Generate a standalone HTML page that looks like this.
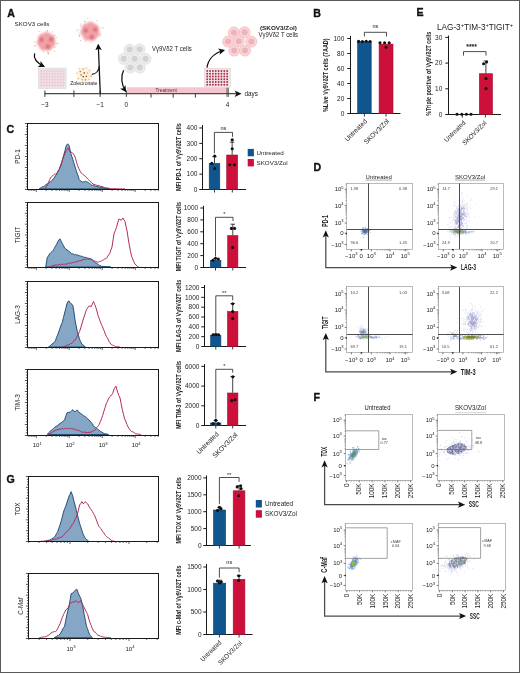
<!DOCTYPE html>
<html><head><meta charset="utf-8"><style>
html,body{margin:0;padding:0;background:#fff;}
svg{display:block;filter:blur(0.3px);}
text{font-family:"Liberation Sans",sans-serif;}
</style></head><body>
<svg width="520" height="673" viewBox="0 0 520 673">
<rect x="0" y="0" width="520" height="673" fill="#fff"/>
<text x="7.20" y="16.80" font-size="10.6" text-anchor="start" fill="#111" font-weight="bold" stroke="#111" stroke-width="0.35">A</text>
<text x="313.30" y="16.70" font-size="10.6" text-anchor="start" fill="#111" font-weight="bold" stroke="#111" stroke-width="0.35">B</text>
<text x="416.40" y="16.20" font-size="10.6" text-anchor="start" fill="#111" font-weight="bold" stroke="#111" stroke-width="0.35">E</text>
<text x="6.60" y="132.70" font-size="10.6" text-anchor="start" fill="#111" font-weight="bold" stroke="#111" stroke-width="0.35">C</text>
<text x="313.60" y="171.10" font-size="10.6" text-anchor="start" fill="#111" font-weight="bold" stroke="#111" stroke-width="0.35">D</text>
<text x="313.60" y="401.30" font-size="10.6" text-anchor="start" fill="#111" font-weight="bold" stroke="#111" stroke-width="0.35">F</text>
<text x="6.40" y="482.70" font-size="10.6" text-anchor="start" fill="#111" font-weight="bold" stroke="#111" stroke-width="0.35">G</text>
<defs>
<filter id="blur1" x="-50%" y="-50%" width="200%" height="200%"><feGaussianBlur stdDeviation="0.9"/></filter>
<filter id="blur2" x="-50%" y="-50%" width="200%" height="200%"><feGaussianBlur stdDeviation="0.45"/></filter>
<marker id="ah" viewBox="0 0 10 10" refX="8" refY="5" markerWidth="6.6" markerHeight="6.6" orient="auto-start-reverse" markerUnits="userSpaceOnUse"><path d="M0,0 L10,5 L0,10 L2.5,5 Z" fill="#111"/></marker>
</defs>
<text x="14.60" y="26.30" font-size="6.2" text-anchor="start" fill="#222">SKOV3 cells</text>
<text x="152.00" y="50.90" font-size="6.5" text-anchor="start" fill="#222" textLength="39.70" lengthAdjust="spacingAndGlyphs">Vγ9Vδ2 T cells</text>
<text x="260.00" y="29.80" font-size="6.2" text-anchor="start" fill="#222" font-weight="bold" textLength="37.00" lengthAdjust="spacingAndGlyphs">(SKOV3/Zol)</text>
<text x="258.60" y="37.40" font-size="6.3" text-anchor="start" fill="#222" textLength="39.40" lengthAdjust="spacingAndGlyphs">Vγ9Vδ2 T cells</text>
<text x="83.80" y="85.40" font-size="5.1" text-anchor="middle" fill="#222">Zoledronate</text>
<g filter="url(#blur1)"><circle cx="46.3" cy="41.6" r="6.08" fill="#f3a2a6"/>
<circle cx="50.98" cy="43.05" r="4.70" fill="#f3a2a6"/>
<circle cx="48.09" cy="46.16" r="4.70" fill="#f3a2a6"/>
<circle cx="43.85" cy="45.84" r="4.70" fill="#f3a2a6"/>
<circle cx="41.45" cy="42.33" r="4.70" fill="#f3a2a6"/>
<circle cx="42.71" cy="38.26" r="4.70" fill="#f3a2a6"/>
<circle cx="46.67" cy="36.71" r="4.70" fill="#f3a2a6"/>
<circle cx="50.35" cy="38.84" r="4.70" fill="#f3a2a6"/>
<circle cx="41.4" cy="39.8" r="2.2" fill="#d06a74"/>
<circle cx="51.2" cy="39.5" r="2.2" fill="#d06a74"/>
<circle cx="47.8" cy="46.5" r="2.2" fill="#d06a74"/>
</g>
<circle cx="54.79" cy="51.15" r="0.5" fill="#b08888" opacity="0.7"/>
<circle cx="47.25" cy="30.60" r="0.5" fill="#b08888" opacity="0.7"/>
<circle cx="34.69" cy="41.93" r="0.5" fill="#b08888" opacity="0.7"/>
<circle cx="38.99" cy="31.33" r="0.5" fill="#b08888" opacity="0.7"/>
<circle cx="54.92" cy="47.37" r="0.5" fill="#b08888" opacity="0.7"/>
<circle cx="52.23" cy="31.68" r="0.5" fill="#b08888" opacity="0.7"/>
<circle cx="47.09" cy="31.33" r="0.5" fill="#b08888" opacity="0.7"/>
<circle cx="34.61" cy="45.78" r="0.5" fill="#b08888" opacity="0.7"/>
<circle cx="48.04" cy="54.55" r="0.5" fill="#b08888" opacity="0.7"/>
<circle cx="54.75" cy="35.57" r="0.5" fill="#b08888" opacity="0.7"/>
<circle cx="58.03" cy="43.49" r="0.5" fill="#b08888" opacity="0.7"/>
<circle cx="56.89" cy="37.34" r="0.5" fill="#b08888" opacity="0.7"/>
<circle cx="48.70" cy="52.88" r="0.5" fill="#b08888" opacity="0.7"/>
<circle cx="57.06" cy="43.59" r="0.5" fill="#b08888" opacity="0.7"/>
<circle cx="35.44" cy="46.07" r="0.5" fill="#b08888" opacity="0.7"/>
<circle cx="47.46" cy="52.51" r="0.5" fill="#b08888" opacity="0.7"/>
<circle cx="48.57" cy="53.02" r="0.5" fill="#b08888" opacity="0.7"/>
<circle cx="43.74" cy="51.63" r="0.5" fill="#b08888" opacity="0.7"/>
<g filter="url(#blur1)"><circle cx="90.2" cy="31.6" r="6.20" fill="#f3a2a6"/>
<circle cx="94.98" cy="33.08" r="4.80" fill="#f3a2a6"/>
<circle cx="92.02" cy="36.26" r="4.80" fill="#f3a2a6"/>
<circle cx="87.70" cy="35.93" r="4.80" fill="#f3a2a6"/>
<circle cx="85.26" cy="32.34" r="4.80" fill="#f3a2a6"/>
<circle cx="86.54" cy="28.20" r="4.80" fill="#f3a2a6"/>
<circle cx="90.58" cy="26.61" r="4.80" fill="#f3a2a6"/>
<circle cx="94.33" cy="28.79" r="4.80" fill="#f3a2a6"/>
<circle cx="85.8" cy="30.5" r="2.2" fill="#d06a74"/>
<circle cx="95.3" cy="29.6" r="2.2" fill="#d06a74"/>
<circle cx="91.8" cy="36.9" r="2.2" fill="#d06a74"/>
</g>
<circle cx="103.04" cy="27.96" r="0.5" fill="#b08888" opacity="0.7"/>
<circle cx="100.28" cy="35.34" r="0.5" fill="#b08888" opacity="0.7"/>
<circle cx="96.70" cy="20.68" r="0.5" fill="#b08888" opacity="0.7"/>
<circle cx="84.68" cy="21.60" r="0.5" fill="#b08888" opacity="0.7"/>
<circle cx="80.51" cy="23.99" r="0.5" fill="#b08888" opacity="0.7"/>
<circle cx="80.62" cy="26.24" r="0.5" fill="#b08888" opacity="0.7"/>
<circle cx="79.61" cy="36.53" r="0.5" fill="#b08888" opacity="0.7"/>
<circle cx="87.92" cy="18.31" r="0.5" fill="#b08888" opacity="0.7"/>
<circle cx="101.72" cy="27.81" r="0.5" fill="#b08888" opacity="0.7"/>
<circle cx="79.57" cy="35.44" r="0.5" fill="#b08888" opacity="0.7"/>
<circle cx="100.51" cy="33.97" r="0.5" fill="#b08888" opacity="0.7"/>
<circle cx="79.02" cy="34.11" r="0.5" fill="#b08888" opacity="0.7"/>
<circle cx="80.60" cy="40.62" r="0.5" fill="#b08888" opacity="0.7"/>
<circle cx="78.18" cy="29.64" r="0.5" fill="#b08888" opacity="0.7"/>
<circle cx="91.12" cy="42.13" r="0.5" fill="#b08888" opacity="0.7"/>
<circle cx="85.24" cy="41.32" r="0.5" fill="#b08888" opacity="0.7"/>
<circle cx="76.73" cy="30.73" r="0.5" fill="#b08888" opacity="0.7"/>
<circle cx="85.15" cy="21.78" r="0.5" fill="#b08888" opacity="0.7"/>
<circle cx="129.60" cy="49.60" r="5.50" fill="#ececec" stroke="#dadada" stroke-width="0.6"/>
<circle cx="139.60" cy="49.20" r="5.50" fill="#ececec" stroke="#dadada" stroke-width="0.6"/>
<circle cx="123.80" cy="58.80" r="5.50" fill="#ececec" stroke="#dadada" stroke-width="0.6"/>
<circle cx="134.60" cy="58.80" r="5.50" fill="#ececec" stroke="#dadada" stroke-width="0.6"/>
<circle cx="145.60" cy="58.80" r="5.50" fill="#ececec" stroke="#dadada" stroke-width="0.6"/>
<circle cx="130.40" cy="67.60" r="5.50" fill="#ececec" stroke="#dadada" stroke-width="0.6"/>
<circle cx="139.80" cy="67.60" r="5.50" fill="#ececec" stroke="#dadada" stroke-width="0.6"/>
<circle cx="129.60" cy="49.60" r="3.00" fill="#d2d2d2" filter="url(#blur2)"/>
<circle cx="139.60" cy="49.20" r="3.00" fill="#d2d2d2" filter="url(#blur2)"/>
<circle cx="123.80" cy="58.80" r="3.00" fill="#d2d2d2" filter="url(#blur2)"/>
<circle cx="134.60" cy="58.80" r="3.00" fill="#d2d2d2" filter="url(#blur2)"/>
<circle cx="145.60" cy="58.80" r="3.00" fill="#d2d2d2" filter="url(#blur2)"/>
<circle cx="130.40" cy="67.60" r="3.00" fill="#d2d2d2" filter="url(#blur2)"/>
<circle cx="139.80" cy="67.60" r="3.00" fill="#d2d2d2" filter="url(#blur2)"/>
<circle cx="233.80" cy="32.40" r="5.50" fill="#f9d4d7" stroke="#f2bcc3" stroke-width="0.8"/>
<circle cx="244.60" cy="32.20" r="5.50" fill="#f9d4d7" stroke="#f2bcc3" stroke-width="0.8"/>
<circle cx="228.10" cy="41.60" r="5.50" fill="#f9d4d7" stroke="#f2bcc3" stroke-width="0.8"/>
<circle cx="238.80" cy="41.20" r="5.50" fill="#f9d4d7" stroke="#f2bcc3" stroke-width="0.8"/>
<circle cx="251.30" cy="41.60" r="5.50" fill="#f9d4d7" stroke="#f2bcc3" stroke-width="0.8"/>
<circle cx="234.20" cy="50.60" r="5.50" fill="#f9d4d7" stroke="#f2bcc3" stroke-width="0.8"/>
<circle cx="245.00" cy="50.60" r="5.50" fill="#f9d4d7" stroke="#f2bcc3" stroke-width="0.8"/>
<circle cx="233.80" cy="32.40" r="3.00" fill="#f0b2ba" filter="url(#blur2)"/>
<circle cx="244.60" cy="32.20" r="3.00" fill="#f0b2ba" filter="url(#blur2)"/>
<circle cx="228.10" cy="41.60" r="3.00" fill="#f0b2ba" filter="url(#blur2)"/>
<circle cx="238.80" cy="41.20" r="3.00" fill="#f0b2ba" filter="url(#blur2)"/>
<circle cx="251.30" cy="41.60" r="3.00" fill="#f0b2ba" filter="url(#blur2)"/>
<circle cx="234.20" cy="50.60" r="3.00" fill="#f0b2ba" filter="url(#blur2)"/>
<circle cx="245.00" cy="50.60" r="3.00" fill="#f0b2ba" filter="url(#blur2)"/>
<rect x="38.40" y="68.10" width="27.70" height="20.20" fill="#eee6e9" stroke="#d8d4d6" stroke-width="0.6"/>
<line x1="41.17" y1="69.30" x2="41.17" y2="87.20" stroke="#f0b6c2" stroke-width="0.45"/>
<line x1="43.94" y1="69.30" x2="43.94" y2="87.20" stroke="#f0b6c2" stroke-width="0.45"/>
<line x1="46.71" y1="69.30" x2="46.71" y2="87.20" stroke="#f0b6c2" stroke-width="0.45"/>
<line x1="49.48" y1="69.30" x2="49.48" y2="87.20" stroke="#f0b6c2" stroke-width="0.45"/>
<line x1="52.25" y1="69.30" x2="52.25" y2="87.20" stroke="#f0b6c2" stroke-width="0.45"/>
<line x1="55.02" y1="69.30" x2="55.02" y2="87.20" stroke="#f0b6c2" stroke-width="0.45"/>
<line x1="57.79" y1="69.30" x2="57.79" y2="87.20" stroke="#f0b6c2" stroke-width="0.45"/>
<line x1="60.56" y1="69.30" x2="60.56" y2="87.20" stroke="#f0b6c2" stroke-width="0.45"/>
<line x1="63.33" y1="69.30" x2="63.33" y2="87.20" stroke="#f0b6c2" stroke-width="0.45"/>
<line x1="39.40" y1="70.99" x2="65.10" y2="70.99" stroke="#f0b6c2" stroke-width="0.45"/>
<line x1="39.40" y1="73.87" x2="65.10" y2="73.87" stroke="#f0b6c2" stroke-width="0.45"/>
<line x1="39.40" y1="76.76" x2="65.10" y2="76.76" stroke="#f0b6c2" stroke-width="0.45"/>
<line x1="39.40" y1="79.64" x2="65.10" y2="79.64" stroke="#f0b6c2" stroke-width="0.45"/>
<line x1="39.40" y1="82.53" x2="65.10" y2="82.53" stroke="#f0b6c2" stroke-width="0.45"/>
<line x1="39.40" y1="85.41" x2="65.10" y2="85.41" stroke="#f0b6c2" stroke-width="0.45"/>
<rect x="204.40" y="68.30" width="25.90" height="18.80" fill="#f4e4e8" stroke="#ddd4d6" stroke-width="0.6"/>
<circle cx="207.20" cy="71.00" r="0.95" fill="#a8334a"/>
<circle cx="207.20" cy="73.75" r="0.95" fill="#a8334a"/>
<circle cx="207.20" cy="76.50" r="0.95" fill="#a8334a"/>
<circle cx="207.20" cy="79.25" r="0.95" fill="#a8334a"/>
<circle cx="207.20" cy="82.00" r="0.95" fill="#a8334a"/>
<circle cx="207.20" cy="84.75" r="0.95" fill="#a8334a"/>
<circle cx="210.05" cy="71.00" r="0.95" fill="#a8334a"/>
<circle cx="210.05" cy="73.75" r="0.95" fill="#a8334a"/>
<circle cx="210.05" cy="76.50" r="0.95" fill="#a8334a"/>
<circle cx="210.05" cy="79.25" r="0.95" fill="#a8334a"/>
<circle cx="210.05" cy="82.00" r="0.95" fill="#a8334a"/>
<circle cx="210.05" cy="84.75" r="0.95" fill="#a8334a"/>
<circle cx="212.90" cy="71.00" r="0.95" fill="#a8334a"/>
<circle cx="212.90" cy="73.75" r="0.95" fill="#a8334a"/>
<circle cx="212.90" cy="76.50" r="0.95" fill="#a8334a"/>
<circle cx="212.90" cy="79.25" r="0.95" fill="#a8334a"/>
<circle cx="212.90" cy="82.00" r="0.95" fill="#a8334a"/>
<circle cx="212.90" cy="84.75" r="0.95" fill="#a8334a"/>
<circle cx="215.75" cy="71.00" r="0.95" fill="#a8334a"/>
<circle cx="215.75" cy="73.75" r="0.95" fill="#a8334a"/>
<circle cx="215.75" cy="76.50" r="0.95" fill="#a8334a"/>
<circle cx="215.75" cy="79.25" r="0.95" fill="#a8334a"/>
<circle cx="215.75" cy="82.00" r="0.95" fill="#a8334a"/>
<circle cx="215.75" cy="84.75" r="0.95" fill="#a8334a"/>
<circle cx="218.60" cy="71.00" r="0.95" fill="#a8334a"/>
<circle cx="218.60" cy="73.75" r="0.95" fill="#a8334a"/>
<circle cx="218.60" cy="76.50" r="0.95" fill="#a8334a"/>
<circle cx="218.60" cy="79.25" r="0.95" fill="#a8334a"/>
<circle cx="218.60" cy="82.00" r="0.95" fill="#a8334a"/>
<circle cx="218.60" cy="84.75" r="0.95" fill="#a8334a"/>
<circle cx="221.45" cy="71.00" r="0.95" fill="#a8334a"/>
<circle cx="221.45" cy="73.75" r="0.95" fill="#a8334a"/>
<circle cx="221.45" cy="76.50" r="0.95" fill="#a8334a"/>
<circle cx="221.45" cy="79.25" r="0.95" fill="#a8334a"/>
<circle cx="221.45" cy="82.00" r="0.95" fill="#a8334a"/>
<circle cx="221.45" cy="84.75" r="0.95" fill="#a8334a"/>
<circle cx="224.30" cy="71.00" r="0.95" fill="#a8334a"/>
<circle cx="224.30" cy="73.75" r="0.95" fill="#a8334a"/>
<circle cx="224.30" cy="76.50" r="0.95" fill="#a8334a"/>
<circle cx="224.30" cy="79.25" r="0.95" fill="#a8334a"/>
<circle cx="224.30" cy="82.00" r="0.95" fill="#a8334a"/>
<circle cx="224.30" cy="84.75" r="0.95" fill="#a8334a"/>
<circle cx="227.15" cy="71.00" r="0.95" fill="#a8334a"/>
<circle cx="227.15" cy="73.75" r="0.95" fill="#a8334a"/>
<circle cx="227.15" cy="76.50" r="0.95" fill="#a8334a"/>
<circle cx="227.15" cy="79.25" r="0.95" fill="#a8334a"/>
<circle cx="227.15" cy="82.00" r="0.95" fill="#a8334a"/>
<circle cx="227.15" cy="84.75" r="0.95" fill="#a8334a"/>
<circle cx="84.00" cy="74.60" r="7.60" fill="#fdf3e2" filter="url(#blur1)"/>
<circle cx="83.20" cy="69.20" r="0.85" fill="#eab070"/>
<circle cx="80.30" cy="71.50" r="0.85" fill="#c47a3a"/>
<circle cx="84.20" cy="72.90" r="0.85" fill="#a85a2a"/>
<circle cx="87.50" cy="73.10" r="0.85" fill="#ecb878"/>
<circle cx="89.60" cy="70.40" r="0.85" fill="#f0c890"/>
<circle cx="81.10" cy="74.80" r="0.85" fill="#c47a3a"/>
<circle cx="83.20" cy="76.70" r="0.85" fill="#a85a2a"/>
<circle cx="86.30" cy="76.30" r="0.85" fill="#a85a2a"/>
<circle cx="77.30" cy="73.30" r="0.85" fill="#f0c890"/>
<circle cx="78.20" cy="78.50" r="0.85" fill="#eab070"/>
<circle cx="82.10" cy="79.60" r="0.85" fill="#eab070"/>
<circle cx="85.50" cy="79.80" r="0.85" fill="#d08a48"/>
<circle cx="89.00" cy="79.40" r="0.85" fill="#f0c890"/>
<circle cx="91.10" cy="76.20" r="0.85" fill="#eab070"/>
<circle cx="86.50" cy="68.00" r="0.85" fill="#f2cc98"/>
<circle cx="79.50" cy="68.80" r="0.85" fill="#f2d0a0"/>
<rect x="127.00" y="87.30" width="100.50" height="5.90" fill="#f5c6cf"/>
<text x="155.60" y="92.00" font-size="5.0" text-anchor="start" fill="#5a2a36" textLength="21.30" lengthAdjust="spacingAndGlyphs">Treatment</text>
<line x1="44.6" y1="93.7" x2="238" y2="93.7" stroke="#4a4a4a" stroke-width="1.2"/>
<path d="M241.6,93.7 L234.6,90.5 L236.4,93.7 L234.6,96.9 Z" fill="#111"/>
<line x1="44.90" y1="90.50" x2="44.90" y2="96.90" stroke="#3a3a3a" stroke-width="1.0"/>
<line x1="73.90" y1="90.50" x2="73.90" y2="96.90" stroke="#3a3a3a" stroke-width="1.0"/>
<line x1="100.10" y1="90.50" x2="100.10" y2="96.90" stroke="#3a3a3a" stroke-width="1.0"/>
<line x1="126.30" y1="90.50" x2="126.30" y2="96.90" stroke="#3a3a3a" stroke-width="1.0"/>
<line x1="151.00" y1="93.70" x2="151.00" y2="97.60" stroke="#3a3a3a" stroke-width="1.0"/>
<line x1="173.20" y1="93.70" x2="173.20" y2="97.60" stroke="#3a3a3a" stroke-width="1.0"/>
<line x1="195.40" y1="93.70" x2="195.40" y2="97.60" stroke="#3a3a3a" stroke-width="1.0"/>
<line x1="227.00" y1="87.70" x2="227.00" y2="96.90" stroke="#3a3a3a" stroke-width="0.8"/>
<line x1="228.30" y1="87.70" x2="228.30" y2="96.90" stroke="#3a3a3a" stroke-width="0.8"/>
<text x="244.60" y="96.20" font-size="6.3" text-anchor="start" fill="#222">days</text>
<text x="44.90" y="106.50" font-size="6.4" text-anchor="middle" fill="#222">−3</text>
<text x="100.10" y="106.50" font-size="6.4" text-anchor="middle" fill="#222">−1</text>
<text x="126.30" y="106.50" font-size="6.4" text-anchor="middle" fill="#222">0</text>
<text x="227.60" y="106.50" font-size="6.4" text-anchor="middle" fill="#222">4</text>
<path d="M34.6,53.4 C33.2,58.5 37.5,63.2 43.8,66.3" fill="none" stroke="#111" stroke-width="1.25" marker-end="url(#ah)"/>
<path d="M100.3,93.6 L98.3,45.0" fill="none" stroke="#111" stroke-width="1.25" marker-end="url(#ah)"/>
<path d="M91.8,74.4 C95.2,74.0 98.6,71.5 99.3,66.0" fill="none" stroke="#111" stroke-width="1.1"/>
<path d="M123.6,70.2 C120.5,76.5 121.4,85.0 125.6,91.2" fill="none" stroke="#111" stroke-width="1.25" marker-end="url(#ah)"/>
<path d="M207.0,67.6 C208.0,60.0 213.5,53.0 223.8,50.3" fill="none" stroke="#111" stroke-width="1.25" marker-end="url(#ah)"/>
<line x1="350.50" y1="35.80" x2="350.50" y2="114.00" stroke="#1a1a1a" stroke-width="1.0"/>
<line x1="350.00" y1="113.50" x2="400.50" y2="113.50" stroke="#1a1a1a" stroke-width="1.0"/>
<line x1="347.30" y1="113.50" x2="350.50" y2="113.50" stroke="#1a1a1a" stroke-width="1.0"/>
<text x="344.30" y="115.80" font-size="6.5" text-anchor="end" fill="#1e1e1e">0</text>
<line x1="347.30" y1="98.50" x2="350.50" y2="98.50" stroke="#1a1a1a" stroke-width="1.0"/>
<text x="344.30" y="100.80" font-size="6.5" text-anchor="end" fill="#1e1e1e">20</text>
<line x1="347.30" y1="83.50" x2="350.50" y2="83.50" stroke="#1a1a1a" stroke-width="1.0"/>
<text x="344.30" y="85.80" font-size="6.5" text-anchor="end" fill="#1e1e1e">40</text>
<line x1="347.30" y1="68.50" x2="350.50" y2="68.50" stroke="#1a1a1a" stroke-width="1.0"/>
<text x="344.30" y="70.80" font-size="6.5" text-anchor="end" fill="#1e1e1e">60</text>
<line x1="347.30" y1="53.50" x2="350.50" y2="53.50" stroke="#1a1a1a" stroke-width="1.0"/>
<text x="344.30" y="55.80" font-size="6.5" text-anchor="end" fill="#1e1e1e">80</text>
<line x1="347.30" y1="38.50" x2="350.50" y2="38.50" stroke="#1a1a1a" stroke-width="1.0"/>
<text x="344.30" y="40.80" font-size="6.5" text-anchor="end" fill="#1e1e1e">100</text>
<line x1="364.40" y1="113.50" x2="364.40" y2="116.50" stroke="#222" stroke-width="0.9"/>
<line x1="386.00" y1="113.50" x2="386.00" y2="116.50" stroke="#222" stroke-width="0.9"/>
<rect x="357.60" y="41.60" width="13.60" height="71.90" fill="#11558f" stroke="#0e3f6c" stroke-width="0.6"/>
<circle cx="358.60" cy="41.40" r="1.55" fill="#111"/>
<circle cx="362.40" cy="41.60" r="1.55" fill="#111"/>
<circle cx="366.20" cy="41.30" r="1.55" fill="#111"/>
<circle cx="370.00" cy="41.50" r="1.55" fill="#111"/>
<rect x="379.10" y="44.10" width="13.90" height="69.40" fill="#cc1039" stroke="#a30f31" stroke-width="0.6"/>
<circle cx="380.00" cy="42.80" r="1.55" fill="#111"/>
<circle cx="384.60" cy="42.80" r="1.55" fill="#111"/>
<circle cx="389.20" cy="42.80" r="1.55" fill="#111"/>
<circle cx="386.00" cy="47.30" r="1.55" fill="#111"/>
<path d="M364.40,36.50 L364.40,32.30 L386.50,32.30 L386.50,36.50" fill="none" stroke="#222" stroke-width="0.8"/>
<text x="375.45" y="27.80" font-size="5.6" text-anchor="middle" fill="#222">ns</text>
<text x="327.60" y="75.20" font-size="6.4" text-anchor="middle" fill="#222" font-weight="bold" transform="rotate(-90 327.60 75.20)" textLength="73.60" lengthAdjust="spacingAndGlyphs">%Live Vγ9Vδ2T cells (7AAD)</text>
<text x="367.50" y="121.80" font-size="6.9" text-anchor="end" fill="#1e1e1e" transform="rotate(-45 367.50 121.80)" textLength="28.32" lengthAdjust="spacingAndGlyphs">Untreated</text>
<text x="389.60" y="121.80" font-size="6.9" text-anchor="end" fill="#1e1e1e" transform="rotate(-45 389.60 121.80)" textLength="32.26" lengthAdjust="spacingAndGlyphs">SKOV3/Zol</text>
<text x="437.00" y="29.80" font-size="8.2" text-anchor="start" fill="#222">LAG-3<tspan dy="-2.8" font-size="5.8">+</tspan><tspan dy="2.8">TIM-3</tspan><tspan dy="-2.8" font-size="5.8">+</tspan><tspan dy="2.8">TIGIT</tspan><tspan dy="-2.8" font-size="5.8">+</tspan></text>
<line x1="448.50" y1="35.50" x2="448.50" y2="115.00" stroke="#1a1a1a" stroke-width="1.0"/>
<line x1="448.00" y1="114.50" x2="501.00" y2="114.50" stroke="#1a1a1a" stroke-width="1.0"/>
<line x1="445.30" y1="114.50" x2="448.50" y2="114.50" stroke="#1a1a1a" stroke-width="1.0"/>
<text x="442.30" y="116.80" font-size="6.5" text-anchor="end" fill="#1e1e1e">0</text>
<line x1="445.30" y1="88.80" x2="448.50" y2="88.80" stroke="#1a1a1a" stroke-width="1.0"/>
<text x="442.30" y="91.10" font-size="6.5" text-anchor="end" fill="#1e1e1e">10</text>
<line x1="445.30" y1="63.10" x2="448.50" y2="63.10" stroke="#1a1a1a" stroke-width="1.0"/>
<text x="442.30" y="65.40" font-size="6.5" text-anchor="end" fill="#1e1e1e">20</text>
<line x1="445.30" y1="37.40" x2="448.50" y2="37.40" stroke="#1a1a1a" stroke-width="1.0"/>
<text x="442.30" y="39.70" font-size="6.5" text-anchor="end" fill="#1e1e1e">30</text>
<line x1="462.40" y1="114.50" x2="462.40" y2="117.50" stroke="#222" stroke-width="0.9"/>
<line x1="485.40" y1="114.50" x2="485.40" y2="117.50" stroke="#222" stroke-width="0.9"/>
<circle cx="457.00" cy="114.30" r="1.55" fill="#111"/>
<circle cx="461.80" cy="114.30" r="1.55" fill="#111"/>
<circle cx="466.40" cy="114.30" r="1.55" fill="#111"/>
<circle cx="471.00" cy="114.30" r="1.55" fill="#111"/>
<rect x="479.30" y="73.70" width="13.20" height="40.80" fill="#cc1039" stroke="#a30f31" stroke-width="0.6"/>
<line x1="485.90" y1="73.40" x2="485.90" y2="61.00" stroke="#111" stroke-width="0.8"/>
<line x1="483.70" y1="61.00" x2="488.10" y2="61.00" stroke="#111" stroke-width="0.8"/>
<circle cx="486.60" cy="62.00" r="1.55" fill="#111"/>
<circle cx="483.60" cy="63.80" r="1.55" fill="#111"/>
<circle cx="486.00" cy="78.50" r="1.55" fill="#111"/>
<circle cx="486.00" cy="88.60" r="1.55" fill="#111"/>
<path d="M463.50,55.60 L463.50,51.60 L486.00,51.60 L486.00,55.60" fill="none" stroke="#222" stroke-width="0.8"/>
<text x="474.75" y="45.80" font-size="5.6" text-anchor="middle" fill="#222"></text>
<text x="431.40" y="73.85" font-size="6.4" text-anchor="middle" fill="#222" font-weight="bold" transform="rotate(-90 431.40 73.85)" textLength="83.90" lengthAdjust="spacingAndGlyphs">%Triple positive of Vγ9Vδ2T cells</text>
<text x="471.60" y="48.90" font-size="6.8" text-anchor="middle" fill="#1e1e1e" stroke="#1e1e1e" stroke-width="0.2">****</text>
<text x="466.00" y="123.20" font-size="6.6" text-anchor="end" fill="#1e1e1e" transform="rotate(-45 466.00 123.20)" textLength="27.23" lengthAdjust="spacingAndGlyphs">Untreated</text>
<text x="487.00" y="123.60" font-size="6.6" text-anchor="end" fill="#1e1e1e" transform="rotate(-45 487.00 123.60)" textLength="31.01" lengthAdjust="spacingAndGlyphs">SKOV3/Zol</text>
<path d="M39.20,188.80 L40.23,188.17 L41.27,187.61 L42.30,186.63 L43.33,186.69 L44.37,186.01 L45.40,185.00 L46.42,184.34 L47.43,183.88 L48.45,182.84 L49.47,182.22 L50.48,181.64 L51.50,181.20 L52.44,180.13 L53.38,178.46 L54.32,177.90 L55.26,175.85 L56.20,175.00 L57.12,172.88 L58.04,170.95 L58.96,169.72 L59.88,167.52 L60.80,165.80 L61.80,162.17 L62.80,158.44 L63.80,155.00 L65.00,150.52 L66.20,145.80 L67.70,143.80 L69.20,145.80 L70.80,153.50 L71.80,156.48 L72.80,159.37 L73.80,162.70 L75.00,166.49 L76.20,170.40 L77.20,173.29 L78.20,176.18 L79.20,179.60 L80.23,180.69 L81.27,181.36 L82.30,182.00 L83.33,181.88 L84.37,181.81 L85.40,181.20 L86.43,181.61 L87.47,182.09 L88.50,182.70 L89.50,183.40 L90.50,184.15 L91.50,185.00 L92.44,185.45 L93.38,185.16 L94.32,185.87 L95.26,186.23 L96.20,186.50 L97.15,186.55 L98.10,186.44 L99.05,187.25 L100.00,186.81 L100.95,187.50 L101.90,187.31 L102.85,187.39 L103.80,188.00 L104.83,188.13 L105.87,188.27 L106.90,188.40 L107.93,188.53 L108.97,188.67 L110.00,188.80 Z" fill="#86a6c6" stroke="#1e4a6e" stroke-width="0.95" stroke-linejoin="round"/>
<path d="M45.40,188.80 L46.43,186.45 L47.47,184.84 L48.50,182.70 L49.65,179.70 L50.80,177.30 L51.75,176.72 L52.70,175.85 L53.65,174.87 L54.60,174.20 L55.75,173.96 L56.90,173.50 L58.05,171.61 L59.20,169.60 L60.18,166.29 L61.15,163.83 L62.12,161.01 L63.10,158.00 L64.13,155.48 L65.17,153.27 L66.20,150.40 L67.20,149.41 L68.20,148.00 L70.00,151.90 L71.15,152.19 L72.30,152.70 L73.45,154.00 L74.60,155.80 L75.63,158.80 L76.67,162.75 L77.70,165.80 L78.73,168.27 L79.77,170.50 L80.80,172.70 L81.80,173.41 L82.80,174.23 L83.80,175.00 L84.74,175.67 L85.68,176.87 L86.62,177.44 L87.56,178.79 L88.50,179.60 L89.40,180.64 L90.30,181.59 L91.20,182.13 L92.10,182.91 L93.00,184.20 L94.03,184.32 L95.07,184.90 L96.10,185.01 L97.13,185.49 L98.17,185.47 L99.20,185.80 L100.12,186.01 L101.04,186.77 L101.96,186.40 L102.88,186.74 L103.80,187.30 L104.74,187.58 L105.68,187.82 L106.62,187.84 L107.56,188.10 L108.50,188.30 L109.44,188.36 L110.38,188.43 L111.31,188.49 L112.25,188.55 L113.19,188.61 L114.12,188.68 L115.06,188.74 L116.00,188.80 L116.90,188.81 L117.80,188.82 L118.70,188.83 L119.60,188.84 L120.50,188.85 L121.40,188.86 L122.30,188.87 L123.20,188.88 L124.10,188.89 L125.00,188.90" fill="none" stroke="#b52a58" stroke-width="1.0" stroke-linejoin="round"/>
<rect x="27.50" y="123.50" width="131.00" height="66.00" fill="none" stroke="#1a1a1a" stroke-width="1.0"/>
<line x1="24.90" y1="189.50" x2="27.50" y2="189.50" stroke="#222" stroke-width="0.75"/>
<line x1="25.90" y1="186.75" x2="27.50" y2="186.75" stroke="#222" stroke-width="0.75"/>
<line x1="25.90" y1="184.00" x2="27.50" y2="184.00" stroke="#222" stroke-width="0.75"/>
<line x1="25.90" y1="181.25" x2="27.50" y2="181.25" stroke="#222" stroke-width="0.75"/>
<line x1="24.90" y1="178.50" x2="27.50" y2="178.50" stroke="#222" stroke-width="0.75"/>
<line x1="25.90" y1="175.75" x2="27.50" y2="175.75" stroke="#222" stroke-width="0.75"/>
<line x1="25.90" y1="173.00" x2="27.50" y2="173.00" stroke="#222" stroke-width="0.75"/>
<line x1="25.90" y1="170.25" x2="27.50" y2="170.25" stroke="#222" stroke-width="0.75"/>
<line x1="24.90" y1="167.50" x2="27.50" y2="167.50" stroke="#222" stroke-width="0.75"/>
<line x1="25.90" y1="164.75" x2="27.50" y2="164.75" stroke="#222" stroke-width="0.75"/>
<line x1="25.90" y1="162.00" x2="27.50" y2="162.00" stroke="#222" stroke-width="0.75"/>
<line x1="25.90" y1="159.25" x2="27.50" y2="159.25" stroke="#222" stroke-width="0.75"/>
<line x1="24.90" y1="156.50" x2="27.50" y2="156.50" stroke="#222" stroke-width="0.75"/>
<line x1="25.90" y1="153.75" x2="27.50" y2="153.75" stroke="#222" stroke-width="0.75"/>
<line x1="25.90" y1="151.00" x2="27.50" y2="151.00" stroke="#222" stroke-width="0.75"/>
<line x1="25.90" y1="148.25" x2="27.50" y2="148.25" stroke="#222" stroke-width="0.75"/>
<line x1="24.90" y1="145.50" x2="27.50" y2="145.50" stroke="#222" stroke-width="0.75"/>
<line x1="25.90" y1="142.75" x2="27.50" y2="142.75" stroke="#222" stroke-width="0.75"/>
<line x1="25.90" y1="140.00" x2="27.50" y2="140.00" stroke="#222" stroke-width="0.75"/>
<line x1="25.90" y1="137.25" x2="27.50" y2="137.25" stroke="#222" stroke-width="0.75"/>
<line x1="24.90" y1="134.50" x2="27.50" y2="134.50" stroke="#222" stroke-width="0.75"/>
<line x1="25.90" y1="131.75" x2="27.50" y2="131.75" stroke="#222" stroke-width="0.75"/>
<line x1="25.90" y1="129.00" x2="27.50" y2="129.00" stroke="#222" stroke-width="0.75"/>
<line x1="25.90" y1="126.25" x2="27.50" y2="126.25" stroke="#222" stroke-width="0.75"/>
<line x1="24.90" y1="123.50" x2="27.50" y2="123.50" stroke="#222" stroke-width="0.75"/>
<line x1="29.00" y1="189.50" x2="29.00" y2="191.00" stroke="#222" stroke-width="0.7"/>
<line x1="31.20" y1="189.50" x2="31.20" y2="191.00" stroke="#222" stroke-width="0.7"/>
<line x1="33.11" y1="189.50" x2="33.11" y2="191.00" stroke="#222" stroke-width="0.7"/>
<line x1="34.79" y1="189.50" x2="34.79" y2="191.00" stroke="#222" stroke-width="0.7"/>
<line x1="36.30" y1="189.50" x2="36.30" y2="192.10" stroke="#222" stroke-width="0.7"/>
<line x1="46.20" y1="189.50" x2="46.20" y2="191.00" stroke="#222" stroke-width="0.7"/>
<line x1="52.00" y1="189.50" x2="52.00" y2="191.00" stroke="#222" stroke-width="0.7"/>
<line x1="56.11" y1="189.50" x2="56.11" y2="191.00" stroke="#222" stroke-width="0.7"/>
<line x1="59.30" y1="189.50" x2="59.30" y2="191.00" stroke="#222" stroke-width="0.7"/>
<line x1="61.90" y1="189.50" x2="61.90" y2="191.00" stroke="#222" stroke-width="0.7"/>
<line x1="64.10" y1="189.50" x2="64.10" y2="191.00" stroke="#222" stroke-width="0.7"/>
<line x1="66.01" y1="189.50" x2="66.01" y2="191.00" stroke="#222" stroke-width="0.7"/>
<line x1="67.69" y1="189.50" x2="67.69" y2="191.00" stroke="#222" stroke-width="0.7"/>
<line x1="69.20" y1="189.50" x2="69.20" y2="192.10" stroke="#222" stroke-width="0.7"/>
<line x1="79.10" y1="189.50" x2="79.10" y2="191.00" stroke="#222" stroke-width="0.7"/>
<line x1="84.90" y1="189.50" x2="84.90" y2="191.00" stroke="#222" stroke-width="0.7"/>
<line x1="89.01" y1="189.50" x2="89.01" y2="191.00" stroke="#222" stroke-width="0.7"/>
<line x1="92.20" y1="189.50" x2="92.20" y2="191.00" stroke="#222" stroke-width="0.7"/>
<line x1="94.80" y1="189.50" x2="94.80" y2="191.00" stroke="#222" stroke-width="0.7"/>
<line x1="97.00" y1="189.50" x2="97.00" y2="191.00" stroke="#222" stroke-width="0.7"/>
<line x1="98.91" y1="189.50" x2="98.91" y2="191.00" stroke="#222" stroke-width="0.7"/>
<line x1="100.59" y1="189.50" x2="100.59" y2="191.00" stroke="#222" stroke-width="0.7"/>
<line x1="102.20" y1="189.50" x2="102.20" y2="192.10" stroke="#222" stroke-width="0.7"/>
<line x1="112.10" y1="189.50" x2="112.10" y2="191.00" stroke="#222" stroke-width="0.7"/>
<line x1="117.90" y1="189.50" x2="117.90" y2="191.00" stroke="#222" stroke-width="0.7"/>
<line x1="122.01" y1="189.50" x2="122.01" y2="191.00" stroke="#222" stroke-width="0.7"/>
<line x1="125.20" y1="189.50" x2="125.20" y2="191.00" stroke="#222" stroke-width="0.7"/>
<line x1="127.80" y1="189.50" x2="127.80" y2="191.00" stroke="#222" stroke-width="0.7"/>
<line x1="130.00" y1="189.50" x2="130.00" y2="191.00" stroke="#222" stroke-width="0.7"/>
<line x1="131.91" y1="189.50" x2="131.91" y2="191.00" stroke="#222" stroke-width="0.7"/>
<line x1="133.59" y1="189.50" x2="133.59" y2="191.00" stroke="#222" stroke-width="0.7"/>
<line x1="135.20" y1="189.50" x2="135.20" y2="192.10" stroke="#222" stroke-width="0.7"/>
<line x1="145.10" y1="189.50" x2="145.10" y2="191.00" stroke="#222" stroke-width="0.7"/>
<line x1="150.90" y1="189.50" x2="150.90" y2="191.00" stroke="#222" stroke-width="0.7"/>
<line x1="155.01" y1="189.50" x2="155.01" y2="191.00" stroke="#222" stroke-width="0.7"/>
<line x1="158.20" y1="189.50" x2="158.20" y2="191.00" stroke="#222" stroke-width="0.7"/>
<text x="20.20" y="156.50" font-size="6.4" text-anchor="middle" fill="#222" transform="rotate(-90 20.20 156.50)">PD-1</text>
<path d="M45.70,267.00 L47.30,257.30 L48.45,255.98 L49.60,253.80 L50.77,252.63 L51.93,251.73 L53.10,250.40 L54.23,248.68 L55.37,246.28 L56.50,244.60 L57.65,241.92 L58.80,240.00 L60.00,238.80 L61.15,241.24 L62.30,243.50 L63.45,245.41 L64.60,248.00 L65.77,248.69 L66.93,249.95 L68.10,250.40 L69.23,251.87 L70.37,252.32 L71.50,253.80 L72.44,253.66 L73.38,254.03 L74.32,254.82 L75.26,254.33 L76.20,255.00 L77.12,254.99 L78.04,255.13 L78.96,255.38 L79.88,255.98 L80.80,256.20 L81.72,256.14 L82.64,256.56 L83.56,257.07 L84.48,257.28 L85.40,257.30 L86.32,257.46 L87.24,258.04 L88.16,258.09 L89.08,258.55 L90.00,258.50 L90.92,258.97 L91.84,259.78 L92.76,260.67 L93.68,261.70 L94.60,262.00 L95.52,262.79 L96.44,263.34 L97.36,263.82 L98.28,264.52 L99.20,265.40 L100.12,265.36 L101.04,266.28 L101.96,266.41 L102.88,266.28 L103.80,266.50 L104.80,266.57 L105.80,266.64 L106.80,266.71 L107.80,266.79 L108.80,266.86 L109.80,266.93 L110.80,267.00 Z" fill="#86a6c6" stroke="#1e4a6e" stroke-width="0.95" stroke-linejoin="round"/>
<path d="M48.50,267.00 L49.40,266.68 L50.30,266.36 L51.20,266.45 L52.10,266.05 L53.00,265.40 L53.97,265.51 L54.93,264.95 L55.90,264.95 L56.87,265.19 L57.83,265.18 L58.80,264.37 L59.77,264.40 L60.73,264.96 L61.70,264.16 L62.67,264.54 L63.63,264.15 L64.60,264.20 L65.57,264.15 L66.53,264.16 L67.50,263.72 L68.47,263.37 L69.43,263.12 L70.40,263.21 L71.37,263.03 L72.33,262.65 L73.30,262.52 L74.27,262.40 L75.23,261.97 L76.20,262.00 L77.17,261.37 L78.14,261.38 L79.11,260.61 L80.09,260.72 L81.06,260.56 L82.03,260.24 L83.00,259.60 L83.94,259.24 L84.88,259.24 L85.82,259.56 L86.76,258.90 L87.70,258.90 L88.62,259.48 L89.54,258.91 L90.46,259.63 L91.38,259.05 L92.30,259.60 L93.24,260.23 L94.18,260.83 L95.12,261.08 L96.06,261.64 L97.00,262.00 L97.90,262.21 L98.80,262.13 L99.70,261.23 L100.60,261.38 L101.50,261.20 L102.44,260.25 L103.38,260.01 L104.32,259.26 L105.26,258.73 L106.20,258.50 L107.33,257.05 L108.47,254.99 L109.60,253.80 L110.80,250.09 L112.00,247.00 L113.10,239.56 L114.20,233.00 L115.35,230.43 L116.50,227.30 L117.65,223.02 L118.80,219.20 L120.00,219.42 L121.20,220.40 L123.00,218.00 L124.00,219.86 L125.00,221.50 L126.00,226.35 L127.00,230.80 L128.10,237.82 L129.20,244.60 L130.35,250.44 L131.50,256.20 L132.67,258.90 L133.83,261.73 L135.00,264.20 L136.17,264.96 L137.33,266.38 L138.50,267.00" fill="none" stroke="#b52a58" stroke-width="1.0" stroke-linejoin="round"/>
<rect x="27.50" y="202.50" width="131.00" height="65.00" fill="none" stroke="#1a1a1a" stroke-width="1.0"/>
<line x1="24.90" y1="267.50" x2="27.50" y2="267.50" stroke="#222" stroke-width="0.75"/>
<line x1="25.90" y1="264.79" x2="27.50" y2="264.79" stroke="#222" stroke-width="0.75"/>
<line x1="25.90" y1="262.08" x2="27.50" y2="262.08" stroke="#222" stroke-width="0.75"/>
<line x1="25.90" y1="259.38" x2="27.50" y2="259.38" stroke="#222" stroke-width="0.75"/>
<line x1="24.90" y1="256.67" x2="27.50" y2="256.67" stroke="#222" stroke-width="0.75"/>
<line x1="25.90" y1="253.96" x2="27.50" y2="253.96" stroke="#222" stroke-width="0.75"/>
<line x1="25.90" y1="251.25" x2="27.50" y2="251.25" stroke="#222" stroke-width="0.75"/>
<line x1="25.90" y1="248.54" x2="27.50" y2="248.54" stroke="#222" stroke-width="0.75"/>
<line x1="24.90" y1="245.83" x2="27.50" y2="245.83" stroke="#222" stroke-width="0.75"/>
<line x1="25.90" y1="243.12" x2="27.50" y2="243.12" stroke="#222" stroke-width="0.75"/>
<line x1="25.90" y1="240.42" x2="27.50" y2="240.42" stroke="#222" stroke-width="0.75"/>
<line x1="25.90" y1="237.71" x2="27.50" y2="237.71" stroke="#222" stroke-width="0.75"/>
<line x1="24.90" y1="235.00" x2="27.50" y2="235.00" stroke="#222" stroke-width="0.75"/>
<line x1="25.90" y1="232.29" x2="27.50" y2="232.29" stroke="#222" stroke-width="0.75"/>
<line x1="25.90" y1="229.58" x2="27.50" y2="229.58" stroke="#222" stroke-width="0.75"/>
<line x1="25.90" y1="226.88" x2="27.50" y2="226.88" stroke="#222" stroke-width="0.75"/>
<line x1="24.90" y1="224.17" x2="27.50" y2="224.17" stroke="#222" stroke-width="0.75"/>
<line x1="25.90" y1="221.46" x2="27.50" y2="221.46" stroke="#222" stroke-width="0.75"/>
<line x1="25.90" y1="218.75" x2="27.50" y2="218.75" stroke="#222" stroke-width="0.75"/>
<line x1="25.90" y1="216.04" x2="27.50" y2="216.04" stroke="#222" stroke-width="0.75"/>
<line x1="24.90" y1="213.33" x2="27.50" y2="213.33" stroke="#222" stroke-width="0.75"/>
<line x1="25.90" y1="210.62" x2="27.50" y2="210.62" stroke="#222" stroke-width="0.75"/>
<line x1="25.90" y1="207.92" x2="27.50" y2="207.92" stroke="#222" stroke-width="0.75"/>
<line x1="25.90" y1="205.21" x2="27.50" y2="205.21" stroke="#222" stroke-width="0.75"/>
<line x1="24.90" y1="202.50" x2="27.50" y2="202.50" stroke="#222" stroke-width="0.75"/>
<line x1="29.00" y1="267.50" x2="29.00" y2="269.00" stroke="#222" stroke-width="0.7"/>
<line x1="31.20" y1="267.50" x2="31.20" y2="269.00" stroke="#222" stroke-width="0.7"/>
<line x1="33.11" y1="267.50" x2="33.11" y2="269.00" stroke="#222" stroke-width="0.7"/>
<line x1="34.79" y1="267.50" x2="34.79" y2="269.00" stroke="#222" stroke-width="0.7"/>
<line x1="36.30" y1="267.50" x2="36.30" y2="270.10" stroke="#222" stroke-width="0.7"/>
<line x1="46.20" y1="267.50" x2="46.20" y2="269.00" stroke="#222" stroke-width="0.7"/>
<line x1="52.00" y1="267.50" x2="52.00" y2="269.00" stroke="#222" stroke-width="0.7"/>
<line x1="56.11" y1="267.50" x2="56.11" y2="269.00" stroke="#222" stroke-width="0.7"/>
<line x1="59.30" y1="267.50" x2="59.30" y2="269.00" stroke="#222" stroke-width="0.7"/>
<line x1="61.90" y1="267.50" x2="61.90" y2="269.00" stroke="#222" stroke-width="0.7"/>
<line x1="64.10" y1="267.50" x2="64.10" y2="269.00" stroke="#222" stroke-width="0.7"/>
<line x1="66.01" y1="267.50" x2="66.01" y2="269.00" stroke="#222" stroke-width="0.7"/>
<line x1="67.69" y1="267.50" x2="67.69" y2="269.00" stroke="#222" stroke-width="0.7"/>
<line x1="69.20" y1="267.50" x2="69.20" y2="270.10" stroke="#222" stroke-width="0.7"/>
<line x1="79.10" y1="267.50" x2="79.10" y2="269.00" stroke="#222" stroke-width="0.7"/>
<line x1="84.90" y1="267.50" x2="84.90" y2="269.00" stroke="#222" stroke-width="0.7"/>
<line x1="89.01" y1="267.50" x2="89.01" y2="269.00" stroke="#222" stroke-width="0.7"/>
<line x1="92.20" y1="267.50" x2="92.20" y2="269.00" stroke="#222" stroke-width="0.7"/>
<line x1="94.80" y1="267.50" x2="94.80" y2="269.00" stroke="#222" stroke-width="0.7"/>
<line x1="97.00" y1="267.50" x2="97.00" y2="269.00" stroke="#222" stroke-width="0.7"/>
<line x1="98.91" y1="267.50" x2="98.91" y2="269.00" stroke="#222" stroke-width="0.7"/>
<line x1="100.59" y1="267.50" x2="100.59" y2="269.00" stroke="#222" stroke-width="0.7"/>
<line x1="102.20" y1="267.50" x2="102.20" y2="270.10" stroke="#222" stroke-width="0.7"/>
<line x1="112.10" y1="267.50" x2="112.10" y2="269.00" stroke="#222" stroke-width="0.7"/>
<line x1="117.90" y1="267.50" x2="117.90" y2="269.00" stroke="#222" stroke-width="0.7"/>
<line x1="122.01" y1="267.50" x2="122.01" y2="269.00" stroke="#222" stroke-width="0.7"/>
<line x1="125.20" y1="267.50" x2="125.20" y2="269.00" stroke="#222" stroke-width="0.7"/>
<line x1="127.80" y1="267.50" x2="127.80" y2="269.00" stroke="#222" stroke-width="0.7"/>
<line x1="130.00" y1="267.50" x2="130.00" y2="269.00" stroke="#222" stroke-width="0.7"/>
<line x1="131.91" y1="267.50" x2="131.91" y2="269.00" stroke="#222" stroke-width="0.7"/>
<line x1="133.59" y1="267.50" x2="133.59" y2="269.00" stroke="#222" stroke-width="0.7"/>
<line x1="135.20" y1="267.50" x2="135.20" y2="270.10" stroke="#222" stroke-width="0.7"/>
<line x1="145.10" y1="267.50" x2="145.10" y2="269.00" stroke="#222" stroke-width="0.7"/>
<line x1="150.90" y1="267.50" x2="150.90" y2="269.00" stroke="#222" stroke-width="0.7"/>
<line x1="155.01" y1="267.50" x2="155.01" y2="269.00" stroke="#222" stroke-width="0.7"/>
<line x1="158.20" y1="267.50" x2="158.20" y2="269.00" stroke="#222" stroke-width="0.7"/>
<text x="20.20" y="235.00" font-size="6.4" text-anchor="middle" fill="#222" transform="rotate(-90 20.20 235.00)">TIGIT</text>
<path d="M48.50,347.00 L49.63,346.41 L50.77,345.00 L51.90,344.20 L53.07,343.33 L54.23,342.34 L55.40,340.80 L56.53,337.53 L57.67,334.84 L58.80,331.50 L59.97,328.28 L61.13,325.06 L62.30,322.30 L63.45,317.51 L64.60,313.00 L65.75,308.63 L66.90,303.80 L67.85,301.98 L68.80,300.80 L69.95,302.44 L71.10,303.80 L72.70,305.00 L73.80,310.80 L75.00,320.00 L76.15,325.62 L77.30,331.50 L78.45,335.25 L79.60,339.60 L80.75,341.84 L81.90,344.20 L83.07,345.03 L84.23,346.03 L85.40,347.00 Z" fill="#86a6c6" stroke="#1e4a6e" stroke-width="0.95" stroke-linejoin="round"/>
<path d="M62.30,347.00 L63.22,346.68 L64.14,346.36 L65.06,346.23 L65.98,346.08 L66.90,345.40 L67.82,344.59 L68.74,345.04 L69.66,344.55 L70.58,343.48 L71.50,343.50 L72.44,342.78 L73.38,341.77 L74.32,340.22 L75.26,339.92 L76.20,338.50 L77.33,336.04 L78.47,333.79 L79.60,331.50 L80.73,327.81 L81.87,324.00 L83.00,320.00 L84.17,316.76 L85.33,312.87 L86.50,309.60 L87.65,307.89 L88.80,306.20 L90.00,306.07 L91.20,306.60 L92.35,303.85 L93.50,301.50 L94.65,304.39 L95.80,307.30 L96.90,310.97 L98.00,315.40 L99.17,318.33 L100.33,321.82 L101.50,324.60 L102.44,326.63 L103.38,329.18 L104.32,331.14 L105.26,334.09 L106.20,336.20 L107.12,337.44 L108.04,339.11 L108.96,341.22 L109.88,342.55 L110.80,344.20 L111.72,344.71 L112.64,345.22 L113.56,345.58 L114.48,345.97 L115.40,346.50 L116.32,346.60 L117.24,346.70 L118.16,346.80 L119.08,346.90 L120.00,347.00" fill="none" stroke="#b52a58" stroke-width="1.0" stroke-linejoin="round"/>
<rect x="27.50" y="281.50" width="131.00" height="66.00" fill="none" stroke="#1a1a1a" stroke-width="1.0"/>
<line x1="24.90" y1="347.50" x2="27.50" y2="347.50" stroke="#222" stroke-width="0.75"/>
<line x1="25.90" y1="344.75" x2="27.50" y2="344.75" stroke="#222" stroke-width="0.75"/>
<line x1="25.90" y1="342.00" x2="27.50" y2="342.00" stroke="#222" stroke-width="0.75"/>
<line x1="25.90" y1="339.25" x2="27.50" y2="339.25" stroke="#222" stroke-width="0.75"/>
<line x1="24.90" y1="336.50" x2="27.50" y2="336.50" stroke="#222" stroke-width="0.75"/>
<line x1="25.90" y1="333.75" x2="27.50" y2="333.75" stroke="#222" stroke-width="0.75"/>
<line x1="25.90" y1="331.00" x2="27.50" y2="331.00" stroke="#222" stroke-width="0.75"/>
<line x1="25.90" y1="328.25" x2="27.50" y2="328.25" stroke="#222" stroke-width="0.75"/>
<line x1="24.90" y1="325.50" x2="27.50" y2="325.50" stroke="#222" stroke-width="0.75"/>
<line x1="25.90" y1="322.75" x2="27.50" y2="322.75" stroke="#222" stroke-width="0.75"/>
<line x1="25.90" y1="320.00" x2="27.50" y2="320.00" stroke="#222" stroke-width="0.75"/>
<line x1="25.90" y1="317.25" x2="27.50" y2="317.25" stroke="#222" stroke-width="0.75"/>
<line x1="24.90" y1="314.50" x2="27.50" y2="314.50" stroke="#222" stroke-width="0.75"/>
<line x1="25.90" y1="311.75" x2="27.50" y2="311.75" stroke="#222" stroke-width="0.75"/>
<line x1="25.90" y1="309.00" x2="27.50" y2="309.00" stroke="#222" stroke-width="0.75"/>
<line x1="25.90" y1="306.25" x2="27.50" y2="306.25" stroke="#222" stroke-width="0.75"/>
<line x1="24.90" y1="303.50" x2="27.50" y2="303.50" stroke="#222" stroke-width="0.75"/>
<line x1="25.90" y1="300.75" x2="27.50" y2="300.75" stroke="#222" stroke-width="0.75"/>
<line x1="25.90" y1="298.00" x2="27.50" y2="298.00" stroke="#222" stroke-width="0.75"/>
<line x1="25.90" y1="295.25" x2="27.50" y2="295.25" stroke="#222" stroke-width="0.75"/>
<line x1="24.90" y1="292.50" x2="27.50" y2="292.50" stroke="#222" stroke-width="0.75"/>
<line x1="25.90" y1="289.75" x2="27.50" y2="289.75" stroke="#222" stroke-width="0.75"/>
<line x1="25.90" y1="287.00" x2="27.50" y2="287.00" stroke="#222" stroke-width="0.75"/>
<line x1="25.90" y1="284.25" x2="27.50" y2="284.25" stroke="#222" stroke-width="0.75"/>
<line x1="24.90" y1="281.50" x2="27.50" y2="281.50" stroke="#222" stroke-width="0.75"/>
<line x1="29.00" y1="347.50" x2="29.00" y2="349.00" stroke="#222" stroke-width="0.7"/>
<line x1="31.20" y1="347.50" x2="31.20" y2="349.00" stroke="#222" stroke-width="0.7"/>
<line x1="33.11" y1="347.50" x2="33.11" y2="349.00" stroke="#222" stroke-width="0.7"/>
<line x1="34.79" y1="347.50" x2="34.79" y2="349.00" stroke="#222" stroke-width="0.7"/>
<line x1="36.30" y1="347.50" x2="36.30" y2="350.10" stroke="#222" stroke-width="0.7"/>
<line x1="46.20" y1="347.50" x2="46.20" y2="349.00" stroke="#222" stroke-width="0.7"/>
<line x1="52.00" y1="347.50" x2="52.00" y2="349.00" stroke="#222" stroke-width="0.7"/>
<line x1="56.11" y1="347.50" x2="56.11" y2="349.00" stroke="#222" stroke-width="0.7"/>
<line x1="59.30" y1="347.50" x2="59.30" y2="349.00" stroke="#222" stroke-width="0.7"/>
<line x1="61.90" y1="347.50" x2="61.90" y2="349.00" stroke="#222" stroke-width="0.7"/>
<line x1="64.10" y1="347.50" x2="64.10" y2="349.00" stroke="#222" stroke-width="0.7"/>
<line x1="66.01" y1="347.50" x2="66.01" y2="349.00" stroke="#222" stroke-width="0.7"/>
<line x1="67.69" y1="347.50" x2="67.69" y2="349.00" stroke="#222" stroke-width="0.7"/>
<line x1="69.20" y1="347.50" x2="69.20" y2="350.10" stroke="#222" stroke-width="0.7"/>
<line x1="79.10" y1="347.50" x2="79.10" y2="349.00" stroke="#222" stroke-width="0.7"/>
<line x1="84.90" y1="347.50" x2="84.90" y2="349.00" stroke="#222" stroke-width="0.7"/>
<line x1="89.01" y1="347.50" x2="89.01" y2="349.00" stroke="#222" stroke-width="0.7"/>
<line x1="92.20" y1="347.50" x2="92.20" y2="349.00" stroke="#222" stroke-width="0.7"/>
<line x1="94.80" y1="347.50" x2="94.80" y2="349.00" stroke="#222" stroke-width="0.7"/>
<line x1="97.00" y1="347.50" x2="97.00" y2="349.00" stroke="#222" stroke-width="0.7"/>
<line x1="98.91" y1="347.50" x2="98.91" y2="349.00" stroke="#222" stroke-width="0.7"/>
<line x1="100.59" y1="347.50" x2="100.59" y2="349.00" stroke="#222" stroke-width="0.7"/>
<line x1="102.20" y1="347.50" x2="102.20" y2="350.10" stroke="#222" stroke-width="0.7"/>
<line x1="112.10" y1="347.50" x2="112.10" y2="349.00" stroke="#222" stroke-width="0.7"/>
<line x1="117.90" y1="347.50" x2="117.90" y2="349.00" stroke="#222" stroke-width="0.7"/>
<line x1="122.01" y1="347.50" x2="122.01" y2="349.00" stroke="#222" stroke-width="0.7"/>
<line x1="125.20" y1="347.50" x2="125.20" y2="349.00" stroke="#222" stroke-width="0.7"/>
<line x1="127.80" y1="347.50" x2="127.80" y2="349.00" stroke="#222" stroke-width="0.7"/>
<line x1="130.00" y1="347.50" x2="130.00" y2="349.00" stroke="#222" stroke-width="0.7"/>
<line x1="131.91" y1="347.50" x2="131.91" y2="349.00" stroke="#222" stroke-width="0.7"/>
<line x1="133.59" y1="347.50" x2="133.59" y2="349.00" stroke="#222" stroke-width="0.7"/>
<line x1="135.20" y1="347.50" x2="135.20" y2="350.10" stroke="#222" stroke-width="0.7"/>
<line x1="145.10" y1="347.50" x2="145.10" y2="349.00" stroke="#222" stroke-width="0.7"/>
<line x1="150.90" y1="347.50" x2="150.90" y2="349.00" stroke="#222" stroke-width="0.7"/>
<line x1="155.01" y1="347.50" x2="155.01" y2="349.00" stroke="#222" stroke-width="0.7"/>
<line x1="158.20" y1="347.50" x2="158.20" y2="349.00" stroke="#222" stroke-width="0.7"/>
<text x="20.20" y="314.50" font-size="6.4" text-anchor="middle" fill="#222" transform="rotate(-90 20.20 314.50)">LAG-3</text>
<path d="M47.30,434.50 L48.47,432.91 L49.63,431.84 L50.80,430.40 L51.72,430.15 L52.64,429.18 L53.56,428.34 L54.48,427.51 L55.40,427.00 L56.32,425.97 L57.24,426.05 L58.16,425.13 L59.08,423.98 L60.00,423.50 L60.92,422.88 L61.84,422.29 L62.76,421.77 L63.68,420.50 L64.60,420.00 L65.75,416.33 L66.90,413.00 L68.07,412.35 L69.23,412.35 L70.40,411.90 L71.55,411.13 L72.70,409.60 L73.85,410.96 L75.00,411.90 L76.15,410.63 L77.30,410.00 L78.45,411.38 L79.60,413.00 L80.77,413.42 L81.93,414.29 L83.10,415.40 L84.23,416.16 L85.37,416.62 L86.50,417.70 L87.65,418.64 L88.80,420.00 L90.00,420.92 L91.20,422.30 L92.33,423.80 L93.47,425.75 L94.60,427.00 L95.52,427.44 L96.44,428.46 L97.36,428.95 L98.28,429.53 L99.20,430.40 L100.12,430.78 L101.04,431.77 L101.96,432.39 L102.88,432.85 L103.80,433.20 L104.74,433.81 L105.68,433.72 L106.62,433.98 L107.56,434.24 L108.50,434.50 Z" fill="#86a6c6" stroke="#1e4a6e" stroke-width="0.95" stroke-linejoin="round"/>
<path d="M48.50,434.50 L49.42,433.90 L50.34,432.97 L51.26,432.98 L52.18,432.44 L53.10,431.50 L54.09,431.07 L55.07,430.64 L56.06,430.24 L57.04,429.81 L58.03,429.60 L59.01,429.26 L60.00,429.20 L60.92,429.38 L61.84,428.64 L62.76,428.50 L63.68,429.03 L64.60,428.50 L65.59,428.88 L66.57,428.14 L67.56,428.34 L68.54,428.94 L69.53,428.40 L70.51,428.61 L71.50,428.50 L72.50,428.94 L73.50,429.18 L74.50,428.91 L75.50,429.79 L76.50,430.14 L77.50,430.08 L78.50,430.40 L79.42,430.62 L80.34,431.32 L81.26,431.92 L82.18,432.24 L83.10,432.20 L84.09,431.93 L85.07,432.43 L86.06,432.19 L87.04,432.64 L88.03,432.62 L89.01,432.19 L90.00,432.20 L90.92,432.20 L91.84,431.83 L92.76,430.77 L93.68,430.68 L94.60,430.40 L95.52,429.64 L96.44,427.84 L97.36,426.86 L98.28,425.88 L99.20,424.60 L100.37,421.40 L101.53,418.72 L102.70,415.40 L103.87,411.25 L105.03,407.75 L106.20,403.80 L107.33,401.55 L108.47,398.77 L109.60,396.90 L110.60,396.03 L111.60,394.89 L112.60,393.50 L114.20,388.80 L115.90,386.10 L117.70,392.30 L118.85,395.47 L120.00,398.00 L121.15,403.52 L122.30,409.60 L123.45,414.23 L124.60,418.80 L125.73,421.19 L126.87,424.41 L128.00,426.90 L129.17,428.54 L130.33,430.32 L131.50,431.50 L132.44,431.63 L133.38,432.20 L134.32,432.49 L135.26,433.72 L136.20,433.80 L137.12,433.94 L138.04,434.08 L138.96,434.22 L139.88,434.36 L140.80,434.50" fill="none" stroke="#b52a58" stroke-width="1.0" stroke-linejoin="round"/>
<rect x="27.50" y="369.50" width="131.00" height="66.00" fill="none" stroke="#1a1a1a" stroke-width="1.0"/>
<line x1="24.90" y1="435.50" x2="27.50" y2="435.50" stroke="#222" stroke-width="0.75"/>
<line x1="25.90" y1="432.75" x2="27.50" y2="432.75" stroke="#222" stroke-width="0.75"/>
<line x1="25.90" y1="430.00" x2="27.50" y2="430.00" stroke="#222" stroke-width="0.75"/>
<line x1="25.90" y1="427.25" x2="27.50" y2="427.25" stroke="#222" stroke-width="0.75"/>
<line x1="24.90" y1="424.50" x2="27.50" y2="424.50" stroke="#222" stroke-width="0.75"/>
<line x1="25.90" y1="421.75" x2="27.50" y2="421.75" stroke="#222" stroke-width="0.75"/>
<line x1="25.90" y1="419.00" x2="27.50" y2="419.00" stroke="#222" stroke-width="0.75"/>
<line x1="25.90" y1="416.25" x2="27.50" y2="416.25" stroke="#222" stroke-width="0.75"/>
<line x1="24.90" y1="413.50" x2="27.50" y2="413.50" stroke="#222" stroke-width="0.75"/>
<line x1="25.90" y1="410.75" x2="27.50" y2="410.75" stroke="#222" stroke-width="0.75"/>
<line x1="25.90" y1="408.00" x2="27.50" y2="408.00" stroke="#222" stroke-width="0.75"/>
<line x1="25.90" y1="405.25" x2="27.50" y2="405.25" stroke="#222" stroke-width="0.75"/>
<line x1="24.90" y1="402.50" x2="27.50" y2="402.50" stroke="#222" stroke-width="0.75"/>
<line x1="25.90" y1="399.75" x2="27.50" y2="399.75" stroke="#222" stroke-width="0.75"/>
<line x1="25.90" y1="397.00" x2="27.50" y2="397.00" stroke="#222" stroke-width="0.75"/>
<line x1="25.90" y1="394.25" x2="27.50" y2="394.25" stroke="#222" stroke-width="0.75"/>
<line x1="24.90" y1="391.50" x2="27.50" y2="391.50" stroke="#222" stroke-width="0.75"/>
<line x1="25.90" y1="388.75" x2="27.50" y2="388.75" stroke="#222" stroke-width="0.75"/>
<line x1="25.90" y1="386.00" x2="27.50" y2="386.00" stroke="#222" stroke-width="0.75"/>
<line x1="25.90" y1="383.25" x2="27.50" y2="383.25" stroke="#222" stroke-width="0.75"/>
<line x1="24.90" y1="380.50" x2="27.50" y2="380.50" stroke="#222" stroke-width="0.75"/>
<line x1="25.90" y1="377.75" x2="27.50" y2="377.75" stroke="#222" stroke-width="0.75"/>
<line x1="25.90" y1="375.00" x2="27.50" y2="375.00" stroke="#222" stroke-width="0.75"/>
<line x1="25.90" y1="372.25" x2="27.50" y2="372.25" stroke="#222" stroke-width="0.75"/>
<line x1="24.90" y1="369.50" x2="27.50" y2="369.50" stroke="#222" stroke-width="0.75"/>
<line x1="29.00" y1="435.50" x2="29.00" y2="437.00" stroke="#222" stroke-width="0.7"/>
<line x1="31.20" y1="435.50" x2="31.20" y2="437.00" stroke="#222" stroke-width="0.7"/>
<line x1="33.11" y1="435.50" x2="33.11" y2="437.00" stroke="#222" stroke-width="0.7"/>
<line x1="34.79" y1="435.50" x2="34.79" y2="437.00" stroke="#222" stroke-width="0.7"/>
<line x1="36.30" y1="435.50" x2="36.30" y2="438.10" stroke="#222" stroke-width="0.7"/>
<line x1="46.20" y1="435.50" x2="46.20" y2="437.00" stroke="#222" stroke-width="0.7"/>
<line x1="52.00" y1="435.50" x2="52.00" y2="437.00" stroke="#222" stroke-width="0.7"/>
<line x1="56.11" y1="435.50" x2="56.11" y2="437.00" stroke="#222" stroke-width="0.7"/>
<line x1="59.30" y1="435.50" x2="59.30" y2="437.00" stroke="#222" stroke-width="0.7"/>
<line x1="61.90" y1="435.50" x2="61.90" y2="437.00" stroke="#222" stroke-width="0.7"/>
<line x1="64.10" y1="435.50" x2="64.10" y2="437.00" stroke="#222" stroke-width="0.7"/>
<line x1="66.01" y1="435.50" x2="66.01" y2="437.00" stroke="#222" stroke-width="0.7"/>
<line x1="67.69" y1="435.50" x2="67.69" y2="437.00" stroke="#222" stroke-width="0.7"/>
<line x1="69.20" y1="435.50" x2="69.20" y2="438.10" stroke="#222" stroke-width="0.7"/>
<line x1="79.10" y1="435.50" x2="79.10" y2="437.00" stroke="#222" stroke-width="0.7"/>
<line x1="84.90" y1="435.50" x2="84.90" y2="437.00" stroke="#222" stroke-width="0.7"/>
<line x1="89.01" y1="435.50" x2="89.01" y2="437.00" stroke="#222" stroke-width="0.7"/>
<line x1="92.20" y1="435.50" x2="92.20" y2="437.00" stroke="#222" stroke-width="0.7"/>
<line x1="94.80" y1="435.50" x2="94.80" y2="437.00" stroke="#222" stroke-width="0.7"/>
<line x1="97.00" y1="435.50" x2="97.00" y2="437.00" stroke="#222" stroke-width="0.7"/>
<line x1="98.91" y1="435.50" x2="98.91" y2="437.00" stroke="#222" stroke-width="0.7"/>
<line x1="100.59" y1="435.50" x2="100.59" y2="437.00" stroke="#222" stroke-width="0.7"/>
<line x1="102.20" y1="435.50" x2="102.20" y2="438.10" stroke="#222" stroke-width="0.7"/>
<line x1="112.10" y1="435.50" x2="112.10" y2="437.00" stroke="#222" stroke-width="0.7"/>
<line x1="117.90" y1="435.50" x2="117.90" y2="437.00" stroke="#222" stroke-width="0.7"/>
<line x1="122.01" y1="435.50" x2="122.01" y2="437.00" stroke="#222" stroke-width="0.7"/>
<line x1="125.20" y1="435.50" x2="125.20" y2="437.00" stroke="#222" stroke-width="0.7"/>
<line x1="127.80" y1="435.50" x2="127.80" y2="437.00" stroke="#222" stroke-width="0.7"/>
<line x1="130.00" y1="435.50" x2="130.00" y2="437.00" stroke="#222" stroke-width="0.7"/>
<line x1="131.91" y1="435.50" x2="131.91" y2="437.00" stroke="#222" stroke-width="0.7"/>
<line x1="133.59" y1="435.50" x2="133.59" y2="437.00" stroke="#222" stroke-width="0.7"/>
<line x1="135.20" y1="435.50" x2="135.20" y2="438.10" stroke="#222" stroke-width="0.7"/>
<line x1="145.10" y1="435.50" x2="145.10" y2="437.00" stroke="#222" stroke-width="0.7"/>
<line x1="150.90" y1="435.50" x2="150.90" y2="437.00" stroke="#222" stroke-width="0.7"/>
<line x1="155.01" y1="435.50" x2="155.01" y2="437.00" stroke="#222" stroke-width="0.7"/>
<line x1="158.20" y1="435.50" x2="158.20" y2="437.00" stroke="#222" stroke-width="0.7"/>
<text x="20.20" y="402.50" font-size="6.4" text-anchor="middle" fill="#222" transform="rotate(-90 20.20 402.50)">TIM-3</text>
<text x="37.30" y="447.40" font-size="6.0" text-anchor="middle" fill="#222">10<tspan dy="-2.5" font-size="4.2">1</tspan></text>
<text x="70.20" y="447.40" font-size="6.0" text-anchor="middle" fill="#222">10<tspan dy="-2.5" font-size="4.2">2</tspan></text>
<text x="103.20" y="447.40" font-size="6.0" text-anchor="middle" fill="#222">10<tspan dy="-2.5" font-size="4.2">3</tspan></text>
<text x="136.20" y="447.40" font-size="6.0" text-anchor="middle" fill="#222">10<tspan dy="-2.5" font-size="4.2">4</tspan></text>
<line x1="202.50" y1="125.00" x2="202.50" y2="190.00" stroke="#1a1a1a" stroke-width="1.0"/>
<line x1="202.00" y1="189.50" x2="246.00" y2="189.50" stroke="#1a1a1a" stroke-width="1.0"/>
<line x1="199.30" y1="189.50" x2="202.50" y2="189.50" stroke="#1a1a1a" stroke-width="1.0"/>
<text x="197.40" y="191.80" font-size="6.5" text-anchor="end" fill="#1e1e1e">0</text>
<line x1="199.30" y1="174.12" x2="202.50" y2="174.12" stroke="#1a1a1a" stroke-width="1.0"/>
<text x="197.40" y="176.42" font-size="6.5" text-anchor="end" fill="#1e1e1e">100</text>
<line x1="199.30" y1="158.74" x2="202.50" y2="158.74" stroke="#1a1a1a" stroke-width="1.0"/>
<text x="197.40" y="161.04" font-size="6.5" text-anchor="end" fill="#1e1e1e">200</text>
<line x1="199.30" y1="143.36" x2="202.50" y2="143.36" stroke="#1a1a1a" stroke-width="1.0"/>
<text x="197.40" y="145.66" font-size="6.5" text-anchor="end" fill="#1e1e1e">300</text>
<line x1="199.30" y1="127.98" x2="202.50" y2="127.98" stroke="#1a1a1a" stroke-width="1.0"/>
<text x="197.40" y="130.28" font-size="6.5" text-anchor="end" fill="#1e1e1e">400</text>
<line x1="214.50" y1="189.50" x2="214.50" y2="192.50" stroke="#222" stroke-width="0.9"/>
<line x1="232.30" y1="189.50" x2="232.30" y2="192.50" stroke="#222" stroke-width="0.9"/>
<rect x="209.20" y="163.40" width="10.60" height="26.10" fill="#11558f" stroke="#0e3f6c" stroke-width="0.6"/>
<line x1="214.50" y1="163.10" x2="214.50" y2="156.60" stroke="#111" stroke-width="0.8"/>
<line x1="212.30" y1="156.60" x2="216.70" y2="156.60" stroke="#111" stroke-width="0.8"/>
<circle cx="214.70" cy="156.10" r="1.55" fill="#111"/>
<circle cx="211.80" cy="163.40" r="1.55" fill="#111"/>
<circle cx="214.70" cy="168.50" r="1.55" fill="#111"/>
<rect x="226.70" y="155.00" width="10.90" height="34.50" fill="#cc1039" stroke="#a30f31" stroke-width="0.6"/>
<line x1="232.15" y1="154.70" x2="232.15" y2="142.20" stroke="#111" stroke-width="0.8"/>
<line x1="229.95" y1="142.20" x2="234.35" y2="142.20" stroke="#111" stroke-width="0.8"/>
<circle cx="232.20" cy="139.90" r="1.55" fill="#111"/>
<circle cx="232.20" cy="148.70" r="1.55" fill="#111"/>
<circle cx="229.80" cy="164.80" r="1.55" fill="#111"/>
<circle cx="234.50" cy="164.80" r="1.55" fill="#111"/>
<path d="M214.40,153.20 L214.40,132.40 L232.50,132.40 L232.50,136.80" fill="none" stroke="#222" stroke-width="0.8"/>
<text x="223.45" y="130.00" font-size="5.6" text-anchor="middle" fill="#222">ns</text>
<text x="181.00" y="157.15" font-size="6.4" text-anchor="middle" fill="#222" font-weight="bold" transform="rotate(-90 181.00 157.15)" textLength="67.90" lengthAdjust="spacingAndGlyphs">MFI PD-1 of Vγ9Vδ2T cells</text>
<line x1="203.50" y1="205.80" x2="203.50" y2="268.00" stroke="#1a1a1a" stroke-width="1.0"/>
<line x1="203.00" y1="267.50" x2="246.00" y2="267.50" stroke="#1a1a1a" stroke-width="1.0"/>
<line x1="200.30" y1="267.50" x2="203.50" y2="267.50" stroke="#1a1a1a" stroke-width="1.0"/>
<text x="198.20" y="269.80" font-size="6.5" text-anchor="end" fill="#1e1e1e">0</text>
<line x1="200.30" y1="255.60" x2="203.50" y2="255.60" stroke="#1a1a1a" stroke-width="1.0"/>
<text x="198.20" y="257.90" font-size="6.5" text-anchor="end" fill="#1e1e1e">200</text>
<line x1="200.30" y1="243.70" x2="203.50" y2="243.70" stroke="#1a1a1a" stroke-width="1.0"/>
<text x="198.20" y="246.00" font-size="6.5" text-anchor="end" fill="#1e1e1e">400</text>
<line x1="200.30" y1="231.80" x2="203.50" y2="231.80" stroke="#1a1a1a" stroke-width="1.0"/>
<text x="198.20" y="234.10" font-size="6.5" text-anchor="end" fill="#1e1e1e">600</text>
<line x1="200.30" y1="219.90" x2="203.50" y2="219.90" stroke="#1a1a1a" stroke-width="1.0"/>
<text x="198.20" y="222.20" font-size="6.5" text-anchor="end" fill="#1e1e1e">800</text>
<line x1="200.30" y1="208.00" x2="203.50" y2="208.00" stroke="#1a1a1a" stroke-width="1.0"/>
<text x="198.20" y="210.30" font-size="6.5" text-anchor="end" fill="#1e1e1e">1000</text>
<line x1="215.50" y1="267.50" x2="215.50" y2="270.50" stroke="#222" stroke-width="0.9"/>
<line x1="232.80" y1="267.50" x2="232.80" y2="270.50" stroke="#222" stroke-width="0.9"/>
<rect x="210.30" y="260.30" width="10.60" height="7.20" fill="#11558f" stroke="#0e3f6c" stroke-width="0.6"/>
<line x1="215.60" y1="260.00" x2="215.60" y2="258.50" stroke="#111" stroke-width="0.8"/>
<line x1="213.40" y1="258.50" x2="217.80" y2="258.50" stroke="#111" stroke-width="0.8"/>
<circle cx="215.50" cy="258.30" r="1.55" fill="#111"/>
<circle cx="218.30" cy="259.00" r="1.55" fill="#111"/>
<circle cx="213.00" cy="260.20" r="1.55" fill="#111"/>
<rect x="227.70" y="235.60" width="10.20" height="31.90" fill="#cc1039" stroke="#a30f31" stroke-width="0.6"/>
<line x1="232.80" y1="235.30" x2="232.80" y2="224.20" stroke="#111" stroke-width="0.8"/>
<line x1="230.60" y1="224.20" x2="235.00" y2="224.20" stroke="#111" stroke-width="0.8"/>
<circle cx="231.40" cy="228.40" r="1.55" fill="#111"/>
<circle cx="234.60" cy="228.40" r="1.55" fill="#111"/>
<circle cx="232.70" cy="247.50" r="1.55" fill="#111"/>
<path d="M215.50,256.50 L215.50,217.30 L233.00,217.30 L233.00,221.00" fill="none" stroke="#222" stroke-width="0.8"/>
<text x="224.25" y="215.60" font-size="5.6" text-anchor="middle" fill="#222">*</text>
<text x="181.00" y="236.60" font-size="6.4" text-anchor="middle" fill="#222" font-weight="bold" transform="rotate(-90 181.00 236.60)" textLength="69.20" lengthAdjust="spacingAndGlyphs">MFI TIGIT of Vγ9Vδ2T cells</text>
<line x1="204.50" y1="285.00" x2="204.50" y2="347.00" stroke="#1a1a1a" stroke-width="1.0"/>
<line x1="204.00" y1="346.50" x2="246.00" y2="346.50" stroke="#1a1a1a" stroke-width="1.0"/>
<line x1="201.30" y1="346.50" x2="204.50" y2="346.50" stroke="#1a1a1a" stroke-width="1.0"/>
<text x="199.40" y="348.80" font-size="6.5" text-anchor="end" fill="#1e1e1e">0</text>
<line x1="201.30" y1="336.67" x2="204.50" y2="336.67" stroke="#1a1a1a" stroke-width="1.0"/>
<text x="199.40" y="338.97" font-size="6.5" text-anchor="end" fill="#1e1e1e">200</text>
<line x1="201.30" y1="326.84" x2="204.50" y2="326.84" stroke="#1a1a1a" stroke-width="1.0"/>
<text x="199.40" y="329.14" font-size="6.5" text-anchor="end" fill="#1e1e1e">400</text>
<line x1="201.30" y1="317.01" x2="204.50" y2="317.01" stroke="#1a1a1a" stroke-width="1.0"/>
<text x="199.40" y="319.31" font-size="6.5" text-anchor="end" fill="#1e1e1e">600</text>
<line x1="201.30" y1="307.18" x2="204.50" y2="307.18" stroke="#1a1a1a" stroke-width="1.0"/>
<text x="199.40" y="309.48" font-size="6.5" text-anchor="end" fill="#1e1e1e">800</text>
<line x1="201.30" y1="297.35" x2="204.50" y2="297.35" stroke="#1a1a1a" stroke-width="1.0"/>
<text x="199.40" y="299.65" font-size="6.5" text-anchor="end" fill="#1e1e1e">1000</text>
<line x1="201.30" y1="287.52" x2="204.50" y2="287.52" stroke="#1a1a1a" stroke-width="1.0"/>
<text x="199.40" y="289.82" font-size="6.5" text-anchor="end" fill="#1e1e1e">1200</text>
<line x1="215.80" y1="346.50" x2="215.80" y2="349.50" stroke="#222" stroke-width="0.9"/>
<line x1="232.70" y1="346.50" x2="232.70" y2="349.50" stroke="#222" stroke-width="0.9"/>
<rect x="210.60" y="335.30" width="10.30" height="11.20" fill="#11558f" stroke="#0e3f6c" stroke-width="0.6"/>
<line x1="215.75" y1="335.00" x2="215.75" y2="334.00" stroke="#111" stroke-width="0.8"/>
<line x1="213.55" y1="334.00" x2="217.95" y2="334.00" stroke="#111" stroke-width="0.8"/>
<circle cx="213.00" cy="334.80" r="1.55" fill="#111"/>
<circle cx="215.80" cy="334.60" r="1.55" fill="#111"/>
<circle cx="218.60" cy="334.80" r="1.55" fill="#111"/>
<rect x="227.50" y="311.50" width="10.40" height="35.00" fill="#cc1039" stroke="#a30f31" stroke-width="0.6"/>
<line x1="232.70" y1="311.20" x2="232.70" y2="303.50" stroke="#111" stroke-width="0.8"/>
<line x1="230.50" y1="303.50" x2="234.90" y2="303.50" stroke="#111" stroke-width="0.8"/>
<circle cx="232.70" cy="303.70" r="1.55" fill="#111"/>
<circle cx="232.70" cy="311.60" r="1.55" fill="#111"/>
<circle cx="232.70" cy="318.60" r="1.55" fill="#111"/>
<path d="M215.80,332.80 L215.80,295.80 L232.70,295.80 L232.70,300.40" fill="none" stroke="#222" stroke-width="0.8"/>
<text x="224.25" y="294.60" font-size="5.6" text-anchor="middle" fill="#222">**</text>
<text x="181.00" y="315.80" font-size="6.4" text-anchor="middle" fill="#222" font-weight="bold" transform="rotate(-90 181.00 315.80)" textLength="72.40" lengthAdjust="spacingAndGlyphs">MFI LAG-3 of Vγ9Vδ2T cells</text>
<line x1="204.50" y1="364.20" x2="204.50" y2="426.00" stroke="#1a1a1a" stroke-width="1.0"/>
<line x1="204.00" y1="425.50" x2="246.00" y2="425.50" stroke="#1a1a1a" stroke-width="1.0"/>
<line x1="201.30" y1="425.50" x2="204.50" y2="425.50" stroke="#1a1a1a" stroke-width="1.0"/>
<text x="199.40" y="427.80" font-size="6.5" text-anchor="end" fill="#1e1e1e">0</text>
<line x1="201.30" y1="405.80" x2="204.50" y2="405.80" stroke="#1a1a1a" stroke-width="1.0"/>
<text x="199.40" y="408.10" font-size="6.5" text-anchor="end" fill="#1e1e1e">2000</text>
<line x1="201.30" y1="386.10" x2="204.50" y2="386.10" stroke="#1a1a1a" stroke-width="1.0"/>
<text x="199.40" y="388.40" font-size="6.5" text-anchor="end" fill="#1e1e1e">4000</text>
<line x1="201.30" y1="366.40" x2="204.50" y2="366.40" stroke="#1a1a1a" stroke-width="1.0"/>
<text x="199.40" y="368.70" font-size="6.5" text-anchor="end" fill="#1e1e1e">6000</text>
<line x1="215.80" y1="425.50" x2="215.80" y2="428.50" stroke="#222" stroke-width="0.9"/>
<line x1="232.70" y1="425.50" x2="232.70" y2="428.50" stroke="#222" stroke-width="0.9"/>
<rect x="210.60" y="423.00" width="10.30" height="2.50" fill="#11558f" stroke="#0e3f6c" stroke-width="0.6"/>
<line x1="215.75" y1="422.70" x2="215.75" y2="420.40" stroke="#111" stroke-width="0.8"/>
<line x1="213.55" y1="420.40" x2="217.95" y2="420.40" stroke="#111" stroke-width="0.8"/>
<circle cx="215.80" cy="420.40" r="1.55" fill="#111"/>
<circle cx="213.20" cy="423.60" r="1.55" fill="#111"/>
<circle cx="218.40" cy="423.60" r="1.55" fill="#111"/>
<rect x="227.50" y="393.00" width="10.40" height="32.50" fill="#cc1039" stroke="#a30f31" stroke-width="0.6"/>
<line x1="232.70" y1="392.70" x2="232.70" y2="376.50" stroke="#111" stroke-width="0.8"/>
<line x1="230.50" y1="376.50" x2="234.90" y2="376.50" stroke="#111" stroke-width="0.8"/>
<circle cx="232.80" cy="376.80" r="1.55" fill="#111"/>
<circle cx="231.80" cy="400.60" r="1.55" fill="#111"/>
<circle cx="235.00" cy="399.80" r="1.55" fill="#111"/>
<path d="M215.80,418.60 L215.80,369.30 L232.70,369.30 L232.70,372.70" fill="none" stroke="#222" stroke-width="0.8"/>
<text x="224.25" y="368.00" font-size="5.6" text-anchor="middle" fill="#222">*</text>
<text x="181.00" y="394.90" font-size="6.4" text-anchor="middle" fill="#222" font-weight="bold" transform="rotate(-90 181.00 394.90)" textLength="67.80" lengthAdjust="spacingAndGlyphs">MFI TIM-3 of Vγ9Vδ2T cells</text>
<text x="219.20" y="434.60" font-size="6.9" text-anchor="end" fill="#1e1e1e" transform="rotate(-45 219.20 434.60)" textLength="28.32" lengthAdjust="spacingAndGlyphs">Untreated</text>
<text x="238.00" y="435.40" font-size="6.9" text-anchor="end" fill="#1e1e1e" transform="rotate(-45 238.00 435.40)" textLength="32.26" lengthAdjust="spacingAndGlyphs">SKOV3/Zol</text>
<rect x="247.70" y="148.90" width="6.20" height="7.40" fill="#11558f"/>
<rect x="247.70" y="159.00" width="6.20" height="7.40" fill="#cc1039"/>
<text x="256.60" y="155.00" font-size="6.2" text-anchor="start" fill="#222">Untreated</text>
<text x="256.60" y="164.80" font-size="6.2" text-anchor="start" fill="#222">SKOV3/Zol</text>
<text x="378.70" y="179.00" font-size="6.0" text-anchor="middle" fill="#222">Untreated</text>
<line x1="365.53" y1="180.10" x2="391.87" y2="180.10" stroke="#555" stroke-width="0.5"/>
<text x="470.10" y="179.00" font-size="6.0" text-anchor="middle" fill="#222">SKOV3/Zol</text>
<line x1="455.09" y1="180.10" x2="485.11" y2="180.10" stroke="#555" stroke-width="0.5"/>
<g opacity="0.95"><path d="M362.8 232.7h0M362.4 232.1h0M362.1 230.1h0M368.4 232.0h0M369.8 229.4h0M363.0 230.1h0M361.9 233.5h0M362.2 232.0h0M362.2 232.3h0M371.3 229.4h0M366.0 228.9h0M368.3 229.5h0M367.7 231.6h0M368.0 229.9h0M366.8 233.4h0M367.4 232.4h0M368.2 229.9h0M364.6 234.8h0M366.1 229.1h0M370.5 232.7h0M367.5 231.8h0M365.8 233.4h0M361.2 231.1h0M367.5 229.0h0M363.6 227.9h0M367.6 234.5h0M366.5 229.4h0M370.0 230.9h0M366.0 233.7h0M365.7 234.3h0M367.1 233.2h0M361.2 231.4h0M363.2 234.7h0M367.7 230.3h0M363.5 229.8h0M369.3 230.5h0M362.4 228.1h0M367.8 230.9h0M362.0 232.6h0M363.6 237.7h0M363.7 228.2h0M364.0 229.1h0M365.1 227.8h0M363.8 233.8h0M367.6 228.6h0M362.5 233.7h0M366.2 229.4h0M362.4 231.1h0M367.7 231.7h0M368.9 230.1h0M364.1 229.5h0M361.9 233.5h0M368.1 231.8h0M367.7 231.0h0M361.1 230.1h0M364.8 233.9h0M366.9 229.4h0M361.6 233.7h0M364.3 233.8h0M365.5 227.8h0M366.1 228.3h0M362.7 228.1h0M364.4 234.5h0M363.8 229.7h0M364.6 234.3h0M362.6 230.4h0M365.6 227.3h0M362.1 230.5h0M362.9 233.9h0" stroke="#98acd0" stroke-width="1.00" stroke-linecap="round" fill="none"/><path d="M366.7 230.0h0M366.4 232.8h0M366.6 231.7h0M365.8 232.3h0M367.2 231.1h0M363.6 232.2h0M364.8 232.6h0M364.7 229.8h0M365.7 229.8h0M366.5 229.9h0M366.8 230.6h0M364.9 230.1h0M366.7 231.7h0M366.3 231.8h0M362.9 231.4h0M366.8 232.0h0M365.7 232.5h0M365.9 232.7h0M365.7 232.4h0M364.8 230.0h0M363.9 233.1h0M367.0 230.3h0M363.5 231.1h0M366.4 231.5h0M363.6 230.9h0M366.5 231.1h0M366.2 232.5h0M367.4 231.6h0M363.3 230.7h0M364.3 230.0h0M363.7 232.0h0M363.8 229.9h0M366.1 232.7h0M366.1 229.9h0M363.3 231.2h0M366.9 232.3h0M363.7 232.2h0M365.9 232.8h0M363.0 230.6h0M367.0 230.6h0M365.4 230.2h0M363.2 230.6h0M367.2 230.9h0M365.2 232.9h0M363.7 229.9h0" stroke="#6a84b0" stroke-width="1.00" stroke-linecap="round" fill="none"/><path d="M364.7 231.0h0M365.3 231.6h0M364.3 231.5h0M365.0 232.0h0M366.3 231.0h0M365.6 231.6h0M365.1 230.4h0M365.0 232.0h0M365.7 232.1h0M365.3 232.4h0M364.3 232.0h0M366.0 230.5h0M364.4 231.8h0M364.0 231.3h0M365.4 231.6h0M365.1 231.6h0M365.6 232.2h0M365.1 232.4h0M365.5 231.4h0M365.3 231.0h0M366.1 231.2h0M364.6 231.6h0M365.5 231.7h0M364.2 230.6h0M363.9 231.9h0M364.4 230.5h0" stroke="#4a6490" stroke-width="1.00" stroke-linecap="round" fill="none"/></g>
<g opacity="0.7"><path d="M454.0 217.9h0M456.2 231.9h0M460.0 206.1h0M455.4 211.6h0M461.7 233.3h0M465.8 223.8h0M464.3 223.7h0M466.8 225.4h0M469.8 217.1h0M461.0 231.2h0M462.4 195.1h0M466.1 216.2h0M460.0 205.0h0M466.7 221.0h0M453.1 225.3h0M460.5 229.1h0M455.1 226.3h0M449.6 218.3h0M449.8 217.7h0M461.4 234.3h0M463.3 198.5h0M464.8 220.9h0M474.7 216.5h0M454.5 229.7h0M464.7 207.1h0M454.2 217.7h0M455.6 237.0h0M455.0 233.1h0M454.7 236.5h0M454.2 214.7h0M459.7 204.8h0M463.2 230.9h0M448.2 224.4h0M455.7 211.8h0M470.7 208.3h0M454.5 206.2h0M463.2 206.5h0M461.5 206.2h0M465.9 219.5h0M467.3 209.6h0M468.9 207.2h0M453.8 212.6h0M466.4 212.9h0M455.2 213.0h0M455.3 227.9h0M455.5 228.5h0M462.6 204.8h0M458.3 235.7h0M453.9 215.8h0M455.9 205.9h0M466.8 205.3h0M459.3 205.6h0M465.3 216.1h0M465.7 213.5h0M451.9 226.8h0M462.4 226.2h0M464.7 208.0h0M466.1 223.5h0M467.1 206.9h0M454.0 226.8h0M467.1 206.0h0M458.9 234.1h0M461.2 228.9h0M465.1 208.9h0M463.4 225.5h0M454.8 213.9h0M465.5 207.6h0M466.4 214.6h0M456.5 207.3h0M463.0 226.1h0M455.0 201.2h0M466.9 214.7h0M457.8 236.1h0M454.7 202.8h0M466.9 217.0h0M454.0 234.6h0M456.6 208.8h0M453.4 217.3h0M465.3 205.0h0M471.2 199.2h0M454.5 223.9h0M467.0 214.0h0M463.7 226.1h0M455.6 212.7h0M455.2 227.1h0M457.2 232.2h0M466.0 217.2h0M455.6 232.4h0M458.0 207.3h0M461.1 203.1h0M458.9 206.6h0M467.1 208.6h0M449.5 229.5h0M463.4 228.9h0M454.7 204.1h0M468.1 203.9h0M467.1 210.4h0M454.3 211.1h0M466.4 204.1h0M466.2 227.2h0M455.3 214.6h0M467.3 202.9h0M454.6 197.7h0M464.4 204.2h0M453.7 213.6h0M459.3 201.2h0M460.7 231.6h0M470.2 200.5h0M455.5 210.5h0M462.9 201.4h0M449.4 210.3h0M453.0 234.0h0M458.8 205.3h0M464.6 206.0h0M466.9 218.1h0M450.7 222.6h0M468.7 214.1h0M451.3 217.8h0M463.4 204.3h0M467.9 216.8h0M459.5 206.5h0M460.6 227.9h0M450.5 237.9h0M459.4 238.0h0M466.0 211.6h0M455.8 226.5h0M466.0 228.9h0M456.8 208.0h0M457.1 233.6h0M468.7 212.9h0M466.4 222.4h0M451.6 222.3h0M450.5 222.6h0M455.4 230.9h0M451.6 234.4h0M456.0 234.3h0M457.1 230.2h0M462.7 226.1h0M460.8 227.3h0M462.7 199.8h0M447.8 224.6h0M449.9 226.9h0M475.1 203.6h0M460.3 200.1h0M457.1 231.2h0M457.7 236.5h0M459.4 201.3h0M460.2 205.2h0M453.6 220.3h0M462.6 201.3h0M462.2 226.2h0M463.4 232.5h0M462.0 193.2h0M464.8 204.9h0M466.2 216.8h0M465.8 215.6h0M461.9 202.7h0M460.9 196.7h0M466.1 216.7h0M470.4 205.1h0M462.9 206.3h0M464.7 208.8h0M457.8 208.3h0M467.3 212.9h0M454.9 228.1h0M454.1 213.7h0M460.3 228.0h0M460.7 226.8h0M458.9 228.3h0M460.5 228.9h0M449.9 235.9h0M454.0 216.2h0M472.1 207.9h0M468.5 221.2h0M465.4 230.7h0M460.8 206.3h0M454.1 219.5h0M453.9 219.3h0M457.9 206.3h0M459.7 234.3h0M466.6 225.3h0M452.5 220.7h0M467.6 226.1h0M463.3 225.4h0M455.2 211.5h0M464.3 201.0h0M462.6 205.4h0M454.6 215.9h0M468.2 215.4h0M454.5 214.9h0M469.8 220.2h0M456.5 209.8h0M464.9 208.1h0M460.6 231.4h0M455.0 224.0h0M467.4 195.7h0M454.3 231.3h0M451.1 226.7h0M462.8 204.5h0M462.7 229.8h0M462.0 192.6h0M462.0 227.6h0M458.3 231.8h0M462.4 202.7h0M453.1 205.2h0M459.4 205.8h0M466.4 209.8h0M460.7 228.7h0M464.8 208.5h0M455.1 232.9h0" stroke="#a8acd8" stroke-width="0.60" stroke-linecap="round" fill="none"/><path d="M463.7 218.2h0M461.3 224.6h0M456.6 223.9h0M462.1 223.3h0M461.3 222.8h0M455.7 221.5h0M457.3 210.9h0M456.5 222.8h0M461.4 221.4h0M455.5 224.0h0M463.4 208.2h0M454.9 220.5h0M459.1 225.8h0M462.8 224.1h0M462.8 219.1h0M463.6 220.7h0M459.6 223.7h0M463.1 217.8h0M461.8 209.5h0M458.8 227.3h0M458.2 223.1h0M456.9 219.5h0M461.8 208.4h0M456.6 223.2h0M456.9 222.4h0M462.1 224.9h0M460.2 208.8h0M458.6 225.6h0M464.0 214.4h0M464.1 219.6h0M459.4 210.0h0M458.9 224.5h0M457.0 221.8h0M459.7 225.7h0M460.9 225.4h0M458.3 226.3h0M458.8 227.4h0M461.8 208.7h0M459.7 209.7h0M460.9 209.6h0M456.3 216.3h0M458.9 227.5h0M462.2 210.7h0M463.6 213.1h0M462.4 208.7h0M458.5 212.2h0M456.0 220.9h0M456.0 222.1h0M459.7 223.3h0M465.0 216.0h0M463.1 218.7h0M460.2 223.9h0M456.2 214.2h0M463.2 207.8h0M458.4 209.4h0M458.5 210.3h0M455.0 221.4h0M460.5 210.3h0M464.9 213.3h0M455.7 220.1h0M462.9 217.9h0M461.8 208.3h0M457.1 214.4h0M464.0 214.4h0M462.7 218.0h0M456.7 223.6h0M457.9 209.1h0M457.3 221.3h0M462.1 225.1h0M458.4 225.7h0M457.3 212.6h0M457.3 224.0h0M463.5 217.5h0M455.7 216.1h0M460.5 224.8h0M459.7 224.3h0M456.5 222.3h0M463.5 214.9h0M455.1 222.4h0M460.6 225.3h0M457.1 211.2h0M464.6 215.4h0M464.2 214.4h0M456.1 218.0h0M458.5 227.3h0M461.1 207.1h0M460.6 209.2h0M463.5 209.9h0M457.7 222.7h0M455.5 223.1h0M460.9 222.1h0M465.2 213.5h0M457.8 227.2h0M458.7 209.5h0M464.3 219.1h0M456.3 223.1h0M455.9 212.9h0M463.4 210.8h0M463.2 207.4h0M459.2 225.5h0M459.0 210.2h0M465.1 215.7h0M459.1 225.5h0M459.3 210.9h0M461.3 210.1h0M461.8 208.1h0M458.3 211.0h0M462.8 223.1h0M456.3 220.2h0M456.3 212.0h0M463.5 213.5h0M463.3 212.2h0M460.4 225.3h0M459.1 208.5h0M465.1 213.6h0M459.5 208.3h0M460.7 225.6h0M459.7 225.4h0M459.8 207.4h0M455.8 219.7h0M460.4 222.6h0M461.2 207.3h0M464.8 216.5h0M457.3 227.3h0M460.6 223.0h0M459.4 208.9h0M464.2 208.7h0M461.7 221.6h0M464.2 213.4h0M457.6 223.3h0M463.3 212.2h0M456.5 221.0h0M456.1 218.2h0M457.4 223.9h0M462.2 223.1h0M463.1 207.2h0M461.4 209.2h0M460.4 226.2h0M461.2 224.8h0M460.7 224.9h0M458.7 208.8h0M456.6 213.8h0M458.7 226.6h0M464.1 211.6h0M455.6 221.1h0M461.9 210.9h0M464.7 209.9h0M461.7 223.3h0M458.9 211.5h0M459.7 223.2h0M455.6 216.9h0M457.0 212.3h0M461.6 208.9h0M461.7 223.2h0M463.8 208.9h0M459.4 223.6h0M463.8 215.1h0M462.9 217.6h0M464.4 211.8h0M457.4 210.7h0M462.4 223.2h0M462.6 208.8h0M461.6 222.2h0M456.6 220.8h0M457.8 226.4h0M456.8 224.4h0M463.2 213.4h0" stroke="#7878b8" stroke-width="0.60" stroke-linecap="round" fill="none"/><path d="M459.6 212.8h0M460.7 215.7h0M458.3 216.5h0M458.9 213.2h0M460.0 214.4h0M459.0 218.2h0M457.6 220.8h0M459.8 218.1h0M459.1 216.8h0M462.4 214.3h0M460.2 211.3h0M458.2 219.4h0M460.6 220.0h0M457.3 218.4h0M460.5 216.7h0M458.5 221.1h0M459.5 219.6h0M461.7 212.4h0M458.5 221.1h0M462.3 217.9h0M458.3 222.1h0M461.8 213.5h0M461.5 218.8h0M460.9 218.6h0M461.0 216.5h0M457.2 217.4h0M459.4 220.6h0M457.3 217.0h0M459.1 212.9h0M459.6 214.2h0M459.8 213.4h0M459.3 222.5h0M459.4 218.7h0M462.3 214.6h0M458.6 218.2h0M461.6 218.6h0M458.3 221.4h0M457.6 220.7h0M462.0 215.1h0M458.8 213.1h0M460.9 216.0h0M459.0 220.3h0M460.5 218.9h0M462.3 216.7h0M458.8 214.0h0M460.1 218.6h0M461.5 216.1h0M459.8 221.2h0M461.5 216.5h0M459.0 219.4h0M459.8 222.8h0M461.3 218.8h0M457.6 218.2h0M459.4 213.0h0M457.9 215.3h0M462.4 214.2h0M458.2 215.0h0M462.3 214.8h0M459.3 220.4h0M461.1 221.3h0M460.1 219.8h0M460.5 216.5h0M460.6 212.4h0M458.2 222.3h0M461.6 220.1h0M460.9 216.2h0M460.4 219.9h0M459.6 217.0h0M460.3 217.6h0M460.0 213.4h0M462.3 214.2h0M460.3 214.4h0M460.4 211.9h0M460.5 219.5h0M460.4 217.0h0M459.3 219.9h0M459.6 221.0h0M460.5 212.3h0M461.8 220.4h0M461.0 219.1h0M457.8 217.2h0M457.3 219.0h0M460.7 219.2h0M458.7 217.2h0M458.4 218.4h0M461.1 215.3h0M461.4 217.0h0M461.6 219.4h0M460.0 216.1h0M458.1 215.4h0M459.6 215.4h0M457.5 220.1h0M462.9 214.8h0M458.5 215.8h0M459.8 214.4h0M458.0 217.1h0M461.3 213.8h0M458.4 221.3h0M460.0 213.3h0M461.0 211.8h0M458.6 214.5h0M461.7 214.0h0M459.1 221.3h0" stroke="#5a5aa0" stroke-width="0.60" stroke-linecap="round" fill="none"/></g>
<g opacity="0.9"><path d="M458.2 233.4h0M455.4 229.1h0M461.4 229.9h0M463.4 233.5h0M461.2 229.2h0M461.6 229.5h0M465.3 230.7h0M458.2 233.9h0M451.8 231.6h0M461.5 229.3h0M464.6 231.2h0M452.2 230.7h0M462.5 232.9h0M463.7 232.2h0M456.7 228.4h0M461.1 229.1h0M451.6 232.8h0M463.9 229.9h0M460.8 233.8h0M454.0 232.9h0M465.4 234.0h0M453.4 230.1h0M459.8 233.1h0M453.8 230.6h0M454.4 233.0h0M461.6 233.1h0M463.7 232.2h0M472.6 231.5h0M457.9 233.1h0M453.4 233.2h0M447.9 231.5h0M464.0 230.3h0M458.2 233.4h0M464.3 232.5h0M453.4 231.6h0M467.1 228.6h0M463.5 233.1h0M454.8 233.9h0M454.5 233.3h0M459.9 233.4h0M453.8 228.8h0M449.6 231.0h0M453.6 232.0h0M452.9 229.7h0M455.4 234.6h0M456.8 228.9h0M465.8 231.4h0M453.5 232.2h0M461.7 229.6h0M456.8 233.5h0M457.7 233.7h0M453.9 234.1h0M458.6 233.9h0M465.3 231.3h0M450.1 232.1h0M460.4 233.0h0M465.8 231.9h0M451.0 231.1h0M460.0 233.5h0M453.0 231.6h0M464.1 230.3h0M465.7 233.1h0M465.2 230.4h0M461.5 229.7h0M457.4 229.5h0M462.8 233.0h0M455.0 230.0h0M451.6 231.2h0M454.4 228.9h0M452.2 232.6h0M461.0 227.7h0M452.4 230.6h0M455.3 234.6h0M460.9 234.3h0M464.7 231.6h0M450.9 230.3h0M455.1 229.7h0M456.3 229.2h0M463.8 232.0h0M457.5 233.1h0M450.3 230.5h0M457.3 233.4h0M463.3 232.5h0M462.7 233.6h0M457.0 229.8h0M453.0 232.4h0M464.3 232.8h0M454.2 233.1h0" stroke="#9aa8c8" stroke-width="0.80" stroke-linecap="round" fill="none"/><path d="M459.6 232.3h0M460.2 232.1h0M457.3 232.7h0M461.7 231.5h0M454.6 230.9h0M455.7 232.4h0M459.9 232.9h0M458.4 232.8h0M455.3 230.6h0M461.7 232.5h0M458.8 232.3h0M459.8 232.6h0M462.3 231.0h0M456.7 232.3h0M460.7 232.0h0M453.8 230.8h0M462.7 231.7h0M460.9 232.2h0M462.5 232.1h0M462.1 231.4h0M454.0 231.2h0M456.9 230.4h0M463.1 231.7h0M460.3 230.6h0M455.3 230.8h0M458.6 232.5h0M459.6 232.6h0M462.4 231.7h0M456.9 232.3h0M457.2 232.6h0M455.7 232.5h0M463.3 231.8h0M461.5 231.4h0M454.7 231.6h0M461.7 232.6h0M460.4 229.9h0M461.2 232.1h0M463.0 231.4h0M461.5 231.6h0M461.0 230.3h0M455.4 231.5h0M455.3 232.4h0M455.6 230.8h0M462.0 230.4h0M456.0 230.3h0M462.9 231.9h0M461.3 230.9h0M458.7 233.0h0M462.9 231.5h0M458.7 230.2h0M457.2 230.1h0M455.9 230.9h0M461.3 230.5h0M460.4 230.0h0M454.8 230.8h0M462.5 230.8h0M462.0 231.1h0M456.9 230.2h0M462.5 232.1h0M454.6 231.8h0M460.7 232.3h0M462.1 231.9h0M461.3 231.7h0M453.7 231.2h0M457.4 230.1h0M455.9 231.9h0M461.5 231.2h0M458.9 232.6h0M460.3 230.1h0M463.3 231.4h0" stroke="#8a9a52" stroke-width="0.80" stroke-linecap="round" fill="none"/><path d="M458.3 230.7h0M455.8 231.2h0M457.7 232.0h0M456.2 231.7h0M460.6 231.6h0M457.0 230.8h0M457.5 231.9h0M458.2 231.3h0M458.9 230.6h0M456.5 231.7h0M459.8 230.9h0M459.8 230.6h0M460.6 231.5h0M456.5 231.2h0M460.0 230.9h0M460.1 231.0h0M458.0 231.9h0M459.4 231.5h0M458.2 230.8h0M458.2 231.4h0M455.9 231.2h0M459.3 231.9h0M459.3 231.3h0M459.9 230.8h0M459.7 230.8h0M458.7 231.8h0M457.4 231.1h0M460.9 231.8h0M457.8 232.2h0M460.2 231.3h0M460.1 231.8h0M459.1 232.1h0M459.9 230.8h0M459.0 230.6h0M459.5 230.5h0M457.9 232.0h0M456.7 231.6h0M458.3 231.5h0M459.8 231.0h0M456.6 231.7h0M458.6 232.1h0M459.2 231.3h0" stroke="#5f6e3a" stroke-width="0.80" stroke-linecap="round" fill="none"/></g>
<g opacity="0.7"><path d="M472.1 233.0h0M459.1 230.1h0M465.3 230.5h0M463.5 233.4h0M459.1 233.0h0M465.4 233.8h0M459.0 231.5h0M469.7 233.2h0M458.1 230.7h0M460.0 231.2h0M467.8 233.8h0M458.5 232.2h0M473.8 230.2h0M464.1 230.8h0M473.8 232.2h0M462.3 233.1h0M472.6 231.9h0M463.6 234.3h0M466.1 233.4h0M459.8 231.5h0M473.9 231.4h0M456.4 231.9h0M471.9 231.3h0M466.2 234.3h0M468.3 233.5h0M459.6 233.2h0M461.6 230.8h0M459.0 233.9h0M462.5 230.9h0M475.1 231.2h0M473.0 232.6h0" stroke="#b8c0dc" stroke-width="0.70" stroke-linecap="round" fill="none"/><path d="M465.5 232.8h0M468.6 232.5h0M469.8 231.5h0M469.2 232.6h0M471.0 231.9h0M471.4 231.9h0M470.2 231.1h0M467.9 233.0h0M460.6 231.8h0M460.7 232.1h0M462.4 232.1h0M470.9 231.6h0M469.6 231.7h0M462.1 231.2h0M465.8 233.0h0M470.2 232.2h0M463.6 232.6h0M467.1 232.7h0M468.7 231.4h0M469.6 231.6h0M466.3 231.0h0M462.7 232.7h0M472.1 231.7h0M466.6 231.1h0M461.5 232.2h0M468.5 232.6h0M460.1 232.4h0M465.8 233.0h0M464.3 231.4h0M470.9 232.3h0M465.4 233.1h0M471.7 231.5h0" stroke="#98a4c8" stroke-width="0.70" stroke-linecap="round" fill="none"/><path d="M464.1 231.6h0M468.9 232.3h0M465.1 231.6h0M466.9 232.4h0M463.7 232.0h0M466.9 231.6h0M465.8 232.2h0M465.9 231.5h0M463.8 231.9h0M464.2 231.7h0M468.5 232.2h0M465.0 232.6h0M468.7 232.1h0M465.8 232.5h0M463.7 232.2h0M466.5 232.6h0M465.6 231.4h0" stroke="#8090b8" stroke-width="0.70" stroke-linecap="round" fill="none"/></g>
<rect x="346.50" y="183.50" width="66.00" height="66.00" fill="none" stroke="#8a8a8a" stroke-width="0.6"/>
<line x1="344.70" y1="189.20" x2="346.50" y2="189.20" stroke="#333" stroke-width="0.7"/>
<text x="343.60" y="191.20" font-size="6.0" text-anchor="end" fill="#222">10<tspan dy="-2.52" font-size="4.08">5</tspan></text>
<line x1="344.70" y1="205.60" x2="346.50" y2="205.60" stroke="#333" stroke-width="0.7"/>
<text x="343.60" y="207.60" font-size="6.0" text-anchor="end" fill="#222">10<tspan dy="-2.52" font-size="4.08">4</tspan></text>
<line x1="344.70" y1="223.00" x2="346.50" y2="223.00" stroke="#333" stroke-width="0.7"/>
<text x="343.60" y="225.00" font-size="6.0" text-anchor="end" fill="#222">10<tspan dy="-2.52" font-size="4.08">3</tspan></text>
<line x1="344.70" y1="233.20" x2="346.50" y2="233.20" stroke="#333" stroke-width="0.7"/>
<text x="343.60" y="235.20" font-size="6.0" text-anchor="end" fill="#222">0</text>
<line x1="344.70" y1="244.60" x2="346.50" y2="244.60" stroke="#333" stroke-width="0.7"/>
<text x="343.60" y="246.60" font-size="6.0" text-anchor="end" fill="#222">−10<tspan dy="-2.52" font-size="4.08">3</tspan></text>
<line x1="345.50" y1="218.06" x2="346.50" y2="218.06" stroke="#555" stroke-width="0.5"/>
<line x1="345.50" y1="215.18" x2="346.50" y2="215.18" stroke="#555" stroke-width="0.5"/>
<line x1="345.50" y1="213.13" x2="346.50" y2="213.13" stroke="#555" stroke-width="0.5"/>
<line x1="345.50" y1="211.54" x2="346.50" y2="211.54" stroke="#555" stroke-width="0.5"/>
<line x1="345.50" y1="210.24" x2="346.50" y2="210.24" stroke="#555" stroke-width="0.5"/>
<line x1="345.50" y1="209.14" x2="346.50" y2="209.14" stroke="#555" stroke-width="0.5"/>
<line x1="345.50" y1="208.19" x2="346.50" y2="208.19" stroke="#555" stroke-width="0.5"/>
<line x1="345.50" y1="207.35" x2="346.50" y2="207.35" stroke="#555" stroke-width="0.5"/>
<line x1="345.50" y1="200.66" x2="346.50" y2="200.66" stroke="#555" stroke-width="0.5"/>
<line x1="345.50" y1="197.78" x2="346.50" y2="197.78" stroke="#555" stroke-width="0.5"/>
<line x1="345.50" y1="195.73" x2="346.50" y2="195.73" stroke="#555" stroke-width="0.5"/>
<line x1="345.50" y1="194.14" x2="346.50" y2="194.14" stroke="#555" stroke-width="0.5"/>
<line x1="345.50" y1="192.84" x2="346.50" y2="192.84" stroke="#555" stroke-width="0.5"/>
<line x1="345.50" y1="191.74" x2="346.50" y2="191.74" stroke="#555" stroke-width="0.5"/>
<line x1="345.50" y1="190.79" x2="346.50" y2="190.79" stroke="#555" stroke-width="0.5"/>
<line x1="345.50" y1="189.95" x2="346.50" y2="189.95" stroke="#555" stroke-width="0.5"/>
<line x1="345.50" y1="184.26" x2="346.50" y2="184.26" stroke="#555" stroke-width="0.5"/>
<line x1="351.30" y1="249.50" x2="351.30" y2="251.30" stroke="#333" stroke-width="0.7"/>
<text x="351.30" y="257.80" font-size="6.0" text-anchor="middle" fill="#222">−10<tspan dy="-2.52" font-size="4.08">3</tspan></text>
<line x1="361.20" y1="249.50" x2="361.20" y2="251.30" stroke="#333" stroke-width="0.7"/>
<text x="361.20" y="257.80" font-size="6.0" text-anchor="middle" fill="#222">0</text>
<line x1="371.30" y1="249.50" x2="371.30" y2="251.30" stroke="#333" stroke-width="0.7"/>
<text x="371.30" y="257.80" font-size="6.0" text-anchor="middle" fill="#222">10<tspan dy="-2.52" font-size="4.08">3</tspan></text>
<line x1="390.00" y1="249.50" x2="390.00" y2="251.30" stroke="#333" stroke-width="0.7"/>
<text x="390.00" y="257.80" font-size="6.0" text-anchor="middle" fill="#222">10<tspan dy="-2.52" font-size="4.08">4</tspan></text>
<line x1="405.20" y1="249.50" x2="405.20" y2="251.30" stroke="#333" stroke-width="0.7"/>
<text x="405.20" y="257.80" font-size="6.0" text-anchor="middle" fill="#222">10<tspan dy="-2.52" font-size="4.08">5</tspan></text>
<line x1="376.93" y1="249.50" x2="376.93" y2="250.50" stroke="#555" stroke-width="0.5"/>
<line x1="380.22" y1="249.50" x2="380.22" y2="250.50" stroke="#555" stroke-width="0.5"/>
<line x1="382.56" y1="249.50" x2="382.56" y2="250.50" stroke="#555" stroke-width="0.5"/>
<line x1="384.37" y1="249.50" x2="384.37" y2="250.50" stroke="#555" stroke-width="0.5"/>
<line x1="385.85" y1="249.50" x2="385.85" y2="250.50" stroke="#555" stroke-width="0.5"/>
<line x1="387.10" y1="249.50" x2="387.10" y2="250.50" stroke="#555" stroke-width="0.5"/>
<line x1="388.19" y1="249.50" x2="388.19" y2="250.50" stroke="#555" stroke-width="0.5"/>
<line x1="389.14" y1="249.50" x2="389.14" y2="250.50" stroke="#555" stroke-width="0.5"/>
<line x1="395.63" y1="249.50" x2="395.63" y2="250.50" stroke="#555" stroke-width="0.5"/>
<line x1="398.92" y1="249.50" x2="398.92" y2="250.50" stroke="#555" stroke-width="0.5"/>
<line x1="401.26" y1="249.50" x2="401.26" y2="250.50" stroke="#555" stroke-width="0.5"/>
<line x1="403.07" y1="249.50" x2="403.07" y2="250.50" stroke="#555" stroke-width="0.5"/>
<line x1="404.55" y1="249.50" x2="404.55" y2="250.50" stroke="#555" stroke-width="0.5"/>
<line x1="405.80" y1="249.50" x2="405.80" y2="250.50" stroke="#555" stroke-width="0.5"/>
<line x1="406.89" y1="249.50" x2="406.89" y2="250.50" stroke="#555" stroke-width="0.5"/>
<line x1="407.84" y1="249.50" x2="407.84" y2="250.50" stroke="#555" stroke-width="0.5"/>
<text x="354.40" y="190.40" font-size="4.0" text-anchor="middle" fill="#444">1.98</text>
<text x="403.00" y="190.40" font-size="4.0" text-anchor="middle" fill="#444">0.38</text>
<text x="354.40" y="244.40" font-size="4.0" text-anchor="middle" fill="#444">96.6</text>
<text x="403.00" y="244.40" font-size="4.0" text-anchor="middle" fill="#444">1.45</text>
<rect x="438.50" y="183.50" width="65.00" height="66.00" fill="none" stroke="#8a8a8a" stroke-width="0.6"/>
<line x1="436.70" y1="189.20" x2="438.50" y2="189.20" stroke="#333" stroke-width="0.7"/>
<text x="435.60" y="191.20" font-size="6.0" text-anchor="end" fill="#222">10<tspan dy="-2.52" font-size="4.08">5</tspan></text>
<line x1="436.70" y1="205.60" x2="438.50" y2="205.60" stroke="#333" stroke-width="0.7"/>
<text x="435.60" y="207.60" font-size="6.0" text-anchor="end" fill="#222">10<tspan dy="-2.52" font-size="4.08">4</tspan></text>
<line x1="436.70" y1="223.00" x2="438.50" y2="223.00" stroke="#333" stroke-width="0.7"/>
<text x="435.60" y="225.00" font-size="6.0" text-anchor="end" fill="#222">10<tspan dy="-2.52" font-size="4.08">3</tspan></text>
<line x1="436.70" y1="233.20" x2="438.50" y2="233.20" stroke="#333" stroke-width="0.7"/>
<text x="435.60" y="235.20" font-size="6.0" text-anchor="end" fill="#222">0</text>
<line x1="436.70" y1="244.60" x2="438.50" y2="244.60" stroke="#333" stroke-width="0.7"/>
<text x="435.60" y="246.60" font-size="6.0" text-anchor="end" fill="#222">−10<tspan dy="-2.52" font-size="4.08">3</tspan></text>
<line x1="437.50" y1="218.06" x2="438.50" y2="218.06" stroke="#555" stroke-width="0.5"/>
<line x1="437.50" y1="215.18" x2="438.50" y2="215.18" stroke="#555" stroke-width="0.5"/>
<line x1="437.50" y1="213.13" x2="438.50" y2="213.13" stroke="#555" stroke-width="0.5"/>
<line x1="437.50" y1="211.54" x2="438.50" y2="211.54" stroke="#555" stroke-width="0.5"/>
<line x1="437.50" y1="210.24" x2="438.50" y2="210.24" stroke="#555" stroke-width="0.5"/>
<line x1="437.50" y1="209.14" x2="438.50" y2="209.14" stroke="#555" stroke-width="0.5"/>
<line x1="437.50" y1="208.19" x2="438.50" y2="208.19" stroke="#555" stroke-width="0.5"/>
<line x1="437.50" y1="207.35" x2="438.50" y2="207.35" stroke="#555" stroke-width="0.5"/>
<line x1="437.50" y1="200.66" x2="438.50" y2="200.66" stroke="#555" stroke-width="0.5"/>
<line x1="437.50" y1="197.78" x2="438.50" y2="197.78" stroke="#555" stroke-width="0.5"/>
<line x1="437.50" y1="195.73" x2="438.50" y2="195.73" stroke="#555" stroke-width="0.5"/>
<line x1="437.50" y1="194.14" x2="438.50" y2="194.14" stroke="#555" stroke-width="0.5"/>
<line x1="437.50" y1="192.84" x2="438.50" y2="192.84" stroke="#555" stroke-width="0.5"/>
<line x1="437.50" y1="191.74" x2="438.50" y2="191.74" stroke="#555" stroke-width="0.5"/>
<line x1="437.50" y1="190.79" x2="438.50" y2="190.79" stroke="#555" stroke-width="0.5"/>
<line x1="437.50" y1="189.95" x2="438.50" y2="189.95" stroke="#555" stroke-width="0.5"/>
<line x1="437.50" y1="184.26" x2="438.50" y2="184.26" stroke="#555" stroke-width="0.5"/>
<line x1="443.30" y1="249.50" x2="443.30" y2="251.30" stroke="#333" stroke-width="0.7"/>
<text x="443.30" y="257.80" font-size="6.0" text-anchor="middle" fill="#222">−10<tspan dy="-2.52" font-size="4.08">3</tspan></text>
<line x1="453.20" y1="249.50" x2="453.20" y2="251.30" stroke="#333" stroke-width="0.7"/>
<text x="453.20" y="257.80" font-size="6.0" text-anchor="middle" fill="#222">0</text>
<line x1="463.30" y1="249.50" x2="463.30" y2="251.30" stroke="#333" stroke-width="0.7"/>
<text x="463.30" y="257.80" font-size="6.0" text-anchor="middle" fill="#222">10<tspan dy="-2.52" font-size="4.08">3</tspan></text>
<line x1="482.00" y1="249.50" x2="482.00" y2="251.30" stroke="#333" stroke-width="0.7"/>
<text x="482.00" y="257.80" font-size="6.0" text-anchor="middle" fill="#222">10<tspan dy="-2.52" font-size="4.08">4</tspan></text>
<line x1="497.20" y1="249.50" x2="497.20" y2="251.30" stroke="#333" stroke-width="0.7"/>
<text x="497.20" y="257.80" font-size="6.0" text-anchor="middle" fill="#222">10<tspan dy="-2.52" font-size="4.08">5</tspan></text>
<line x1="468.93" y1="249.50" x2="468.93" y2="250.50" stroke="#555" stroke-width="0.5"/>
<line x1="472.22" y1="249.50" x2="472.22" y2="250.50" stroke="#555" stroke-width="0.5"/>
<line x1="474.56" y1="249.50" x2="474.56" y2="250.50" stroke="#555" stroke-width="0.5"/>
<line x1="476.37" y1="249.50" x2="476.37" y2="250.50" stroke="#555" stroke-width="0.5"/>
<line x1="477.85" y1="249.50" x2="477.85" y2="250.50" stroke="#555" stroke-width="0.5"/>
<line x1="479.10" y1="249.50" x2="479.10" y2="250.50" stroke="#555" stroke-width="0.5"/>
<line x1="480.19" y1="249.50" x2="480.19" y2="250.50" stroke="#555" stroke-width="0.5"/>
<line x1="481.14" y1="249.50" x2="481.14" y2="250.50" stroke="#555" stroke-width="0.5"/>
<line x1="487.63" y1="249.50" x2="487.63" y2="250.50" stroke="#555" stroke-width="0.5"/>
<line x1="490.92" y1="249.50" x2="490.92" y2="250.50" stroke="#555" stroke-width="0.5"/>
<line x1="493.26" y1="249.50" x2="493.26" y2="250.50" stroke="#555" stroke-width="0.5"/>
<line x1="495.07" y1="249.50" x2="495.07" y2="250.50" stroke="#555" stroke-width="0.5"/>
<line x1="496.55" y1="249.50" x2="496.55" y2="250.50" stroke="#555" stroke-width="0.5"/>
<line x1="497.80" y1="249.50" x2="497.80" y2="250.50" stroke="#555" stroke-width="0.5"/>
<line x1="498.89" y1="249.50" x2="498.89" y2="250.50" stroke="#555" stroke-width="0.5"/>
<line x1="499.84" y1="249.50" x2="499.84" y2="250.50" stroke="#555" stroke-width="0.5"/>
<text x="446.00" y="190.40" font-size="4.0" text-anchor="middle" fill="#444">14.7</text>
<text x="494.20" y="190.40" font-size="4.0" text-anchor="middle" fill="#444">29.1</text>
<text x="446.00" y="244.40" font-size="4.0" text-anchor="middle" fill="#444">24.9</text>
<text x="494.20" y="244.40" font-size="4.0" text-anchor="middle" fill="#444">20.7</text>
<line x1="368.50" y1="183.40" x2="368.50" y2="249.20" stroke="#3a3a3a" stroke-width="0.9"/>
<line x1="346.80" y1="229.50" x2="412.60" y2="229.50" stroke="#3a3a3a" stroke-width="0.9"/>
<line x1="459.50" y1="183.40" x2="459.50" y2="249.20" stroke="#3a3a3a" stroke-width="0.9"/>
<line x1="438.40" y1="229.50" x2="503.80" y2="229.50" stroke="#3a3a3a" stroke-width="0.9"/>
<g opacity="0.85"><path d="M364.9 334.9h0M363.9 335.8h0M366.9 331.9h0M365.3 329.8h0M365.5 335.4h0M366.9 335.6h0M360.1 332.8h0M368.0 331.1h0M363.1 328.3h0M359.6 330.3h0M367.4 329.9h0M361.5 325.2h0M359.2 330.9h0M363.6 335.0h0M359.9 330.9h0M359.8 336.1h0M361.2 334.4h0M367.0 333.6h0M361.5 329.0h0M367.9 328.7h0M357.0 335.6h0M366.1 331.3h0M366.9 333.7h0M368.5 328.3h0M362.9 337.6h0M359.2 331.4h0M365.3 328.7h0M365.4 330.0h0M360.2 333.3h0M360.6 327.0h0M366.2 332.4h0M360.1 328.6h0M358.0 335.1h0M366.1 335.4h0M360.3 334.4h0M361.8 327.7h0M363.6 328.2h0M366.8 333.5h0M364.7 335.1h0M362.9 335.4h0M362.4 326.3h0M361.6 335.2h0M360.0 331.5h0M367.1 333.6h0M359.9 338.3h0M366.9 333.8h0M363.1 335.4h0M364.6 328.8h0M358.8 327.8h0M359.2 332.2h0M366.2 329.6h0M360.2 329.3h0M360.7 328.2h0M361.9 328.8h0M363.2 336.9h0M360.5 334.0h0" stroke="#b0bce0" stroke-width="0.84" stroke-linecap="round" fill="none"/><path d="M361.2 330.1h0M364.0 329.5h0M361.2 331.9h0M365.3 332.0h0M363.5 330.5h0M365.1 332.4h0M365.2 331.4h0M361.5 334.1h0M364.2 330.8h0M365.0 333.7h0M361.1 333.1h0M360.7 332.7h0M365.4 331.9h0M360.2 332.1h0M363.4 329.9h0M365.1 330.3h0M361.7 333.2h0M363.4 329.5h0M362.9 333.8h0M365.0 332.8h0M362.9 329.5h0M364.2 330.5h0M361.1 331.6h0M361.4 331.1h0M365.6 332.4h0M360.9 331.5h0M365.7 332.1h0M361.4 333.2h0M364.6 330.9h0M360.0 331.9h0M360.7 330.4h0M365.2 331.7h0M363.2 329.6h0M361.4 330.1h0M360.6 331.8h0M361.6 332.9h0M365.4 332.7h0M361.3 332.4h0M360.9 333.7h0M365.4 333.3h0" stroke="#8096c8" stroke-width="0.84" stroke-linecap="round" fill="none"/><path d="M362.2 331.6h0M363.1 332.6h0M361.8 332.0h0M363.3 332.6h0M363.3 330.5h0M363.7 330.7h0M364.0 332.2h0M363.6 333.2h0M362.6 333.0h0M364.0 331.1h0M363.4 331.4h0M361.7 332.7h0M364.6 332.3h0M363.0 331.7h0M364.1 331.3h0M363.9 332.5h0M362.3 331.1h0M361.3 332.1h0M363.8 333.2h0M362.3 331.8h0M362.7 332.6h0M364.0 331.7h0M363.7 332.5h0M362.7 331.7h0" stroke="#5a74b0" stroke-width="0.84" stroke-linecap="round" fill="none"/></g>
<g opacity="0.9"><path d="M376.0 337.5h0M358.5 335.8h0M361.6 335.1h0M367.6 336.2h0M367.0 336.0h0M369.6 336.4h0M368.5 336.7h0M363.1 335.8h0M364.1 339.3h0M362.4 338.4h0M369.0 336.6h0M368.2 338.3h0M371.6 337.4h0M360.5 337.7h0M361.5 337.8h0M363.2 338.2h0M373.7 338.6h0M358.5 338.2h0M358.9 336.6h0M359.4 337.9h0M360.3 336.8h0M369.8 336.9h0M359.4 337.2h0M365.8 335.4h0M358.6 335.6h0M366.8 338.2h0M372.6 337.6h0M361.6 338.2h0M369.9 336.2h0M360.6 338.0h0M368.0 336.2h0M358.2 335.1h0M361.0 338.5h0M361.2 337.9h0M367.1 338.4h0M367.7 336.3h0M360.5 338.3h0M362.6 335.4h0M359.1 338.0h0M356.1 336.7h0M366.8 337.9h0M367.4 336.1h0M359.1 336.7h0M372.2 337.3h0M362.2 335.5h0M356.9 336.9h0M360.7 336.0h0M360.3 339.1h0M369.3 336.5h0M369.2 336.1h0M371.3 337.7h0M358.2 336.5h0M372.1 337.6h0" stroke="#8090c0" stroke-width="0.84" stroke-linecap="round" fill="none"/><path d="M362.8 336.3h0M366.3 336.6h0M367.2 336.8h0M368.3 337.3h0M360.6 337.0h0M366.9 336.6h0M361.2 336.7h0M362.7 336.0h0M362.4 337.8h0M368.2 336.7h0M361.7 336.8h0M363.1 337.7h0M367.6 336.5h0M366.6 336.1h0M362.6 336.3h0M368.2 337.1h0M362.6 336.4h0M362.2 337.3h0M365.0 337.7h0M367.5 337.2h0M365.6 338.0h0M363.8 336.0h0M364.5 337.7h0M368.0 337.4h0M365.8 336.5h0M366.5 336.1h0M364.7 336.1h0M362.8 337.5h0M367.3 336.5h0M362.9 336.4h0M364.0 337.7h0M361.8 337.3h0M366.1 337.9h0M361.9 337.4h0M365.6 336.3h0M367.5 336.8h0" stroke="#9ab050" stroke-width="0.84" stroke-linecap="round" fill="none"/><path d="M366.2 336.9h0M365.2 337.4h0M364.2 336.7h0M363.7 337.5h0M363.5 336.5h0M363.3 337.2h0M366.1 336.7h0M364.8 337.2h0M363.2 336.5h0M364.1 336.7h0M363.5 337.4h0M365.8 336.6h0M364.3 337.4h0M362.4 337.1h0M365.0 336.8h0M364.4 337.3h0M363.6 336.5h0M363.8 336.8h0M363.7 337.0h0M364.5 336.9h0M362.8 336.9h0M364.7 336.9h0M362.4 337.0h0M364.2 337.5h0M366.6 336.9h0M363.3 336.5h0M365.0 337.2h0M365.2 336.6h0M366.3 337.2h0M364.3 337.2h0M363.9 337.4h0" stroke="#6a9a3a" stroke-width="0.84" stroke-linecap="round" fill="none"/></g>
<g opacity="0.7"><path d="M387.0 336.3h0M364.3 337.1h0M375.7 336.2h0M369.4 336.3h0M366.1 336.7h0M364.6 337.4h0M364.0 336.5h0M376.0 336.0h0M361.1 336.7h0M361.9 336.1h0M382.1 339.1h0M384.8 337.4h0M367.8 335.2h0M379.0 335.4h0M356.6 336.6h0M387.4 336.4h0M363.4 336.8h0M367.0 338.6h0M379.0 335.6h0M370.0 335.8h0M375.0 336.2h0M363.3 336.7h0M380.6 337.9h0M370.2 338.1h0M374.7 338.2h0M366.5 338.2h0M381.6 338.5h0M376.6 338.4h0M370.2 338.8h0M384.5 338.0h0M375.5 336.0h0M369.1 339.1h0M364.3 337.9h0M366.5 337.3h0M373.0 338.8h0" stroke="#c0c8e4" stroke-width="0.70" stroke-linecap="round" fill="none"/><path d="M368.7 336.7h0M376.3 338.0h0M375.2 338.1h0M372.4 336.4h0M379.6 337.1h0M374.4 336.4h0M368.5 336.7h0M376.3 337.8h0M378.7 337.4h0M371.2 337.9h0M372.8 337.9h0M375.3 336.2h0M376.1 336.7h0M379.8 337.5h0M374.0 336.5h0M379.8 337.1h0M373.9 338.0h0M379.3 336.7h0M371.6 336.4h0M371.2 336.7h0M372.3 338.0h0M376.3 336.7h0M367.1 336.8h0M367.6 337.4h0M377.0 338.0h0M371.9 336.3h0M371.2 336.3h0M367.1 336.9h0M378.6 336.5h0M370.1 336.8h0M371.6 337.9h0M370.8 337.9h0M373.8 337.8h0M368.1 336.9h0M376.9 336.7h0M376.7 336.7h0" stroke="#98a8d0" stroke-width="0.70" stroke-linecap="round" fill="none"/><path d="M376.0 337.0h0M370.9 337.1h0M376.5 337.3h0M372.7 337.4h0M373.0 337.5h0M371.6 336.8h0M375.6 336.7h0M376.1 337.4h0M373.8 337.6h0M374.8 337.5h0M370.1 337.3h0M374.6 337.6h0M370.4 337.1h0M376.3 337.1h0M373.9 337.1h0M371.8 337.4h0M377.6 337.5h0M371.1 337.2h0M371.0 337.3h0" stroke="#6a80b8" stroke-width="0.70" stroke-linecap="round" fill="none"/></g>
<g opacity="0.7"><path d="M471.6 309.3h0M476.8 341.7h0M473.8 329.9h0M478.0 327.3h0M475.6 329.3h0M472.2 310.5h0M463.8 324.6h0M461.6 318.3h0M467.3 335.0h0M478.2 327.0h0M481.1 313.1h0M467.4 332.6h0M469.4 311.1h0M479.9 304.2h0M473.4 306.9h0M465.8 321.5h0M457.4 318.8h0M471.8 329.7h0M471.1 329.8h0M464.1 322.4h0M465.0 323.6h0M484.8 326.6h0M471.6 309.9h0M467.0 318.5h0M479.6 315.6h0M467.0 310.4h0M478.9 326.2h0M479.8 325.2h0M481.6 326.6h0M466.4 317.0h0M481.1 326.0h0M480.9 321.1h0M479.0 333.7h0M469.4 333.0h0M472.2 329.6h0M473.2 312.5h0M473.5 338.2h0M467.5 329.4h0M476.2 312.1h0M469.2 329.5h0M477.9 318.9h0M469.2 314.7h0M472.4 332.4h0M462.6 324.9h0M481.3 319.3h0M468.9 331.0h0M476.0 314.2h0M471.4 311.8h0M477.8 329.2h0M467.8 314.3h0M463.6 324.1h0M475.7 331.7h0M475.5 328.0h0M478.9 316.2h0M477.0 326.5h0M476.5 327.1h0M474.2 328.8h0M475.1 305.5h0M461.2 327.9h0M465.2 322.2h0M470.2 329.9h0M466.6 318.8h0M472.8 309.3h0M475.4 307.9h0M465.6 329.4h0M474.1 312.6h0M475.3 336.6h0M472.2 335.1h0M465.6 309.6h0M472.4 333.3h0M473.1 312.6h0M470.3 330.6h0M476.6 328.6h0M482.1 322.2h0M477.5 312.7h0M480.7 308.1h0M480.8 318.0h0M465.3 309.5h0M463.6 318.4h0M470.0 330.7h0M480.6 321.0h0M479.7 322.3h0M475.4 327.6h0M481.4 315.4h0M484.1 309.4h0M471.3 330.2h0M465.2 312.5h0M475.6 332.7h0M467.6 316.6h0M465.2 319.3h0M470.5 312.7h0M464.7 335.0h0M470.4 313.8h0M481.2 319.2h0M471.9 304.0h0M464.0 329.6h0M482.4 311.1h0M463.7 330.6h0M478.6 321.2h0M475.1 328.6h0M479.1 323.3h0M467.5 315.8h0M478.6 314.5h0M472.4 330.9h0M477.8 317.7h0M479.0 319.3h0M473.9 334.4h0M478.9 321.7h0M465.8 324.4h0M477.9 310.6h0M475.4 327.4h0M474.9 328.4h0M470.5 334.3h0M466.0 312.0h0M472.2 331.2h0M472.1 305.2h0M476.8 314.4h0M475.5 328.3h0M467.7 332.6h0M478.3 318.7h0M470.9 331.0h0M478.8 321.1h0M474.5 313.1h0M480.9 322.4h0M481.1 306.1h0M463.1 310.4h0M475.3 311.7h0M477.4 332.8h0M465.0 324.7h0M474.9 337.1h0M477.3 314.5h0M470.9 331.9h0M469.1 312.9h0M466.6 331.6h0M466.3 321.2h0M468.8 333.1h0M478.6 325.9h0M474.7 328.7h0M465.3 310.9h0M471.3 329.9h0M477.2 334.6h0M474.6 329.7h0M469.7 313.1h0M470.0 334.3h0M469.9 328.5h0M467.9 316.8h0M477.9 327.4h0M476.4 326.7h0M477.9 318.3h0M478.8 316.7h0M467.2 329.1h0M479.7 313.5h0M464.9 323.7h0M484.5 321.5h0M465.5 314.1h0M466.8 329.2h0M478.4 318.2h0M480.0 325.2h0M481.2 310.9h0M474.0 312.9h0M467.5 313.4h0M464.0 329.1h0M464.2 320.0h0M470.3 312.0h0M478.2 311.3h0M470.4 303.3h0M468.8 313.1h0M472.4 312.8h0M464.0 323.3h0M463.0 320.8h0M478.7 314.2h0M471.2 330.0h0M464.3 331.2h0M475.9 330.3h0M477.1 312.4h0M464.0 327.9h0M478.0 312.6h0M472.8 307.2h0M480.1 316.9h0M480.3 319.7h0M472.9 331.0h0M457.4 322.6h0M472.2 309.8h0M462.3 310.3h0M480.4 314.6h0M461.6 323.3h0M475.3 310.0h0" stroke="#a8acd8" stroke-width="0.60" stroke-linecap="round" fill="none"/><path d="M472.7 314.3h0M470.2 325.5h0M468.5 319.1h0M475.0 317.5h0M476.3 325.4h0M473.7 313.5h0M470.3 315.8h0M474.2 315.1h0M468.5 317.6h0M475.1 317.9h0M468.6 322.3h0M468.4 324.0h0M472.6 326.2h0M470.8 326.3h0M471.2 328.7h0M471.4 314.8h0M471.3 327.0h0M473.2 315.6h0M472.2 314.8h0M477.2 322.3h0M476.1 315.0h0M474.6 314.3h0M471.9 316.4h0M470.2 315.1h0M470.2 315.6h0M474.9 316.3h0M471.9 326.3h0M475.6 319.8h0M468.1 317.8h0M472.4 325.5h0M472.8 316.4h0M470.5 324.8h0M475.6 319.6h0M476.4 318.9h0M477.6 319.3h0M468.9 326.0h0M469.6 318.9h0M476.0 326.1h0M476.9 316.5h0M474.7 327.5h0M467.4 320.1h0M477.5 319.7h0M475.1 316.4h0M471.6 328.0h0M468.9 319.3h0M471.2 316.8h0M469.8 314.6h0M467.8 317.9h0M470.4 315.4h0M467.4 323.5h0M472.1 313.5h0M473.8 328.2h0M469.0 315.9h0M477.0 320.7h0M469.0 316.8h0M474.2 325.3h0M475.0 325.3h0M472.0 315.3h0M468.6 317.6h0M475.2 326.4h0M475.2 318.5h0M471.9 327.7h0M472.0 328.1h0M476.0 316.9h0M476.5 318.0h0M473.8 325.5h0M476.5 321.2h0M469.0 321.5h0M476.7 323.9h0M474.3 325.3h0M468.7 324.7h0M475.5 315.9h0M475.6 323.4h0M468.4 323.3h0M470.6 316.8h0M474.6 327.1h0M476.6 319.6h0M471.6 316.7h0M468.8 318.1h0M470.2 326.2h0M475.0 316.0h0M474.6 324.1h0M475.8 321.7h0M469.3 324.1h0M468.1 324.5h0M472.7 314.9h0M467.5 319.2h0M468.8 324.1h0M474.1 326.5h0M468.5 316.5h0M470.1 314.3h0M469.9 316.3h0M475.5 323.9h0M477.7 319.4h0M476.7 318.6h0M471.6 326.7h0M470.9 313.8h0M472.2 314.0h0M473.6 325.4h0M472.2 315.8h0M469.9 315.3h0M475.4 319.0h0M476.6 320.6h0M475.9 321.1h0M475.1 325.7h0M468.7 323.1h0M475.5 323.9h0M476.6 316.3h0M476.1 317.4h0M476.9 324.0h0M475.8 321.9h0M477.1 323.6h0M470.1 317.0h0M475.3 325.6h0M471.3 314.1h0M474.7 317.4h0M473.4 326.1h0M476.5 322.1h0M468.1 317.2h0M471.0 325.5h0M473.7 326.8h0M472.3 316.1h0M470.7 314.4h0M471.0 328.1h0M472.1 328.1h0M470.7 326.7h0M476.3 319.6h0M472.0 315.4h0M477.0 323.5h0M474.8 317.2h0M475.3 323.5h0M468.2 325.6h0M469.1 318.9h0" stroke="#7878b8" stroke-width="0.60" stroke-linecap="round" fill="none"/><path d="M474.6 321.0h0M474.1 318.1h0M474.1 322.4h0M473.5 324.0h0M474.7 320.7h0M472.0 325.0h0M471.2 322.4h0M472.0 320.1h0M475.1 318.7h0M469.7 322.0h0M473.2 318.3h0M473.1 324.2h0M470.6 320.8h0M473.0 324.4h0M472.0 323.2h0M471.8 317.6h0M474.9 322.4h0M471.3 323.2h0M470.2 324.0h0M472.6 324.4h0M473.9 319.6h0M472.0 321.0h0M472.9 324.7h0M471.1 322.4h0M472.5 320.5h0M470.2 319.0h0M473.9 323.8h0M473.3 317.0h0M473.4 317.8h0M471.5 324.2h0M472.1 323.4h0M473.3 317.7h0M471.3 323.4h0M473.1 322.1h0M470.2 323.1h0M471.8 319.8h0M471.2 322.0h0M471.8 318.4h0M471.1 323.8h0M474.3 322.8h0M474.2 323.4h0M473.0 318.6h0M473.3 322.5h0M474.9 322.0h0M470.7 322.5h0M473.0 319.9h0M471.8 317.2h0M472.8 319.7h0M471.8 320.2h0M472.8 319.4h0M472.7 321.8h0M471.4 319.3h0M471.2 317.7h0M471.7 323.2h0M473.5 323.6h0M471.5 318.7h0M470.0 322.2h0M472.4 316.8h0M472.9 322.6h0M472.1 321.6h0M473.8 318.3h0M472.3 324.5h0M472.9 317.3h0M474.5 324.1h0M470.0 322.0h0M473.5 322.1h0M472.0 324.2h0M472.9 323.9h0M470.1 320.0h0M475.0 320.1h0M470.5 321.7h0M474.3 324.0h0M473.9 321.7h0M469.5 321.0h0M472.9 322.6h0M472.1 318.6h0M473.6 318.9h0M474.9 322.3h0M471.7 321.8h0M473.0 317.0h0" stroke="#5a5aa0" stroke-width="0.60" stroke-linecap="round" fill="none"/></g>
<g opacity="0.95"><path d="M461.2 338.9h0M476.9 336.3h0M485.3 338.0h0M463.9 337.9h0M477.5 338.4h0M473.3 336.0h0M483.8 338.9h0M479.5 338.8h0M464.2 337.9h0M481.3 338.0h0M461.8 338.3h0M478.6 338.1h0M478.4 336.2h0M474.9 338.4h0M460.2 339.6h0M478.7 338.4h0M461.6 338.2h0M469.0 336.1h0M480.9 337.5h0M474.0 336.1h0M477.2 339.0h0M469.1 339.7h0M457.9 338.7h0M477.7 338.0h0M459.7 336.7h0M482.8 338.3h0M469.2 335.8h0M468.3 339.1h0M470.3 334.5h0M479.9 336.4h0M476.4 338.3h0M477.4 336.3h0M467.8 335.2h0M465.9 339.3h0M484.0 337.0h0M482.2 337.9h0M478.3 335.9h0M480.2 337.6h0M471.6 335.6h0M485.8 338.2h0M478.7 336.5h0M484.1 339.2h0M466.0 339.5h0M460.6 335.8h0M454.1 338.7h0M482.1 338.1h0M472.0 339.5h0M468.0 335.7h0M476.6 335.5h0M461.9 339.1h0M482.9 337.7h0M480.6 337.9h0M465.7 336.2h0M483.8 336.3h0M476.4 338.3h0M470.1 339.4h0M479.9 335.7h0M480.4 340.1h0M464.2 339.1h0M469.6 338.8h0M481.8 337.2h0M483.2 337.6h0M460.1 335.8h0M472.4 339.0h0M466.0 338.4h0M480.1 337.1h0M465.3 336.1h0M475.4 336.2h0M481.2 335.4h0M464.1 336.7h0M478.1 336.8h0M458.9 336.4h0M478.2 336.7h0M463.7 337.0h0M473.5 339.7h0M460.8 338.4h0M451.3 337.9h0M485.3 337.7h0M465.0 336.4h0M483.3 335.4h0M462.2 336.1h0M465.1 335.9h0M476.4 339.3h0M458.1 338.3h0M473.3 338.7h0M483.8 339.2h0M475.1 336.0h0M462.0 335.5h0M471.5 339.3h0M479.9 335.4h0M463.0 338.4h0M466.8 338.5h0M463.3 336.8h0M467.7 338.5h0M473.8 334.6h0M478.4 336.5h0M463.5 338.7h0M480.2 337.7h0M457.3 336.9h0M478.8 337.7h0M474.6 336.1h0M468.3 338.6h0M480.0 338.0h0M471.6 339.1h0M476.5 338.4h0M473.1 335.8h0M461.9 338.1h0M480.1 335.9h0M477.8 336.2h0M479.3 337.5h0M467.2 339.2h0M472.3 335.6h0M471.6 335.2h0M487.0 337.0h0M473.3 335.8h0M460.7 338.8h0M460.7 339.0h0M480.9 337.2h0M471.7 335.8h0M457.1 336.7h0M468.9 339.8h0M467.5 339.2h0M468.2 336.1h0M464.1 339.0h0M480.6 335.9h0M460.0 338.1h0M462.7 337.2h0M469.6 339.3h0M468.2 335.9h0M463.4 338.7h0M478.5 335.1h0" stroke="#90a0c0" stroke-width="0.90" stroke-linecap="round" fill="none"/><path d="M470.8 338.2h0M474.6 336.3h0M466.7 338.2h0M465.6 336.8h0M464.3 336.8h0M464.6 337.8h0M464.1 337.3h0M466.4 336.5h0M466.9 336.7h0M476.5 337.0h0M465.5 336.5h0M466.1 337.6h0M464.4 337.3h0M468.3 336.3h0M467.7 336.8h0M478.1 337.5h0M467.8 337.9h0M472.4 336.6h0M469.2 338.4h0M470.0 338.1h0M474.0 336.7h0M464.3 337.8h0M475.9 337.3h0M467.3 338.3h0M477.5 337.7h0M466.5 338.2h0M469.4 338.1h0M477.5 336.9h0M473.6 338.2h0M467.6 336.7h0M466.7 337.9h0M463.8 337.0h0M474.2 338.4h0M476.3 337.9h0M473.3 338.4h0M473.8 338.2h0M477.7 337.6h0M467.6 338.2h0M476.1 337.0h0M466.5 337.1h0M470.8 338.2h0M466.5 337.3h0M466.6 337.0h0M475.8 336.6h0M476.5 338.0h0M478.3 337.1h0M464.7 337.4h0M478.1 337.3h0M473.8 336.7h0M466.5 338.0h0M476.7 337.1h0M471.4 336.2h0M466.5 337.6h0M475.3 336.5h0M476.5 336.4h0M474.9 336.2h0M472.0 336.1h0M475.9 337.5h0M463.7 337.6h0M470.1 336.4h0M469.7 336.3h0M476.9 336.5h0M465.3 337.5h0M471.7 338.1h0M466.4 336.8h0M466.8 337.7h0M468.7 338.0h0M469.9 338.3h0M473.0 336.4h0M471.2 336.2h0M466.8 338.2h0M477.4 336.9h0M473.9 336.5h0M475.3 337.2h0M466.3 336.4h0M470.0 338.1h0M469.4 336.3h0M475.9 337.6h0M473.0 338.1h0M469.8 338.5h0M471.7 336.4h0M466.4 338.1h0M463.7 337.0h0M468.3 338.2h0M473.4 338.4h0M473.5 337.9h0M474.1 336.5h0M474.0 338.4h0M469.1 338.1h0M468.6 336.3h0M476.1 337.1h0M466.5 337.3h0M464.7 338.0h0M477.3 337.2h0M468.7 336.6h0M469.2 338.1h0M478.4 337.5h0M471.0 336.5h0M474.8 337.7h0M466.3 338.2h0M476.9 337.5h0M477.7 337.5h0M475.9 337.7h0M467.2 338.1h0M465.6 337.1h0M464.9 337.2h0M465.6 337.6h0M469.7 338.2h0M478.3 337.3h0M475.3 337.1h0M464.8 336.7h0M464.0 337.2h0M472.8 336.3h0M469.2 338.5h0M470.3 336.3h0" stroke="#98a840" stroke-width="0.90" stroke-linecap="round" fill="none"/><path d="M473.3 336.7h0M472.7 336.7h0M469.2 337.0h0M472.3 337.8h0M468.8 337.4h0M474.6 337.5h0M472.7 336.7h0M470.6 337.6h0M466.8 337.4h0M473.9 337.5h0M471.6 337.9h0M470.8 337.8h0M469.2 337.0h0M469.9 336.7h0M469.6 336.6h0M473.9 336.9h0M469.3 337.8h0M469.5 337.6h0M473.6 337.4h0M467.9 337.2h0M473.8 337.3h0M473.3 337.5h0M471.7 337.9h0M471.8 336.8h0M467.8 337.4h0M469.1 337.4h0M469.2 337.3h0M473.9 337.4h0M471.9 336.8h0M470.3 337.1h0M474.8 337.6h0M468.8 337.1h0M471.2 336.7h0M472.1 337.3h0M473.6 337.5h0M469.0 336.9h0M470.6 337.0h0M472.0 337.0h0M470.2 336.9h0M473.3 337.6h0M472.2 337.9h0M470.5 336.9h0M472.1 337.2h0M471.0 337.8h0M468.5 336.9h0M473.6 337.1h0M475.0 337.2h0M470.6 336.7h0M474.7 337.3h0M467.2 337.1h0M473.5 337.4h0M472.6 337.1h0M471.2 337.3h0M467.6 337.1h0M472.9 337.4h0M469.0 337.1h0M471.4 337.9h0M472.6 337.0h0M468.1 337.3h0M473.5 337.3h0M469.0 337.1h0M473.2 337.2h0M472.0 337.3h0M468.2 336.8h0M473.4 337.7h0M467.7 337.5h0M467.8 337.2h0M473.5 336.9h0M474.0 337.1h0M469.9 337.4h0M470.2 336.8h0M469.6 337.4h0M467.5 337.1h0M474.1 337.0h0" stroke="#6f7e2a" stroke-width="0.90" stroke-linecap="round" fill="none"/></g>
<g opacity="0.8"><path d="M454.9 339.3h0M458.1 337.5h0M449.9 331.3h0M456.4 332.4h0M456.3 338.4h0M457.3 330.7h0M450.9 339.5h0M460.5 337.3h0M457.4 336.2h0M449.7 334.3h0M450.2 334.9h0M451.0 339.2h0M455.3 330.2h0M453.1 332.8h0M458.2 340.7h0M450.9 340.4h0M454.3 331.7h0M457.3 334.0h0M457.1 336.9h0M447.4 335.0h0M450.6 332.8h0M450.7 336.5h0M456.8 338.0h0M459.9 336.8h0M448.1 336.3h0M448.1 332.0h0M450.3 338.6h0M451.7 332.7h0" stroke="#b0b8d8" stroke-width="0.80" stroke-linecap="round" fill="none"/><path d="M452.8 333.3h0M456.6 335.8h0M455.6 335.3h0M453.2 339.0h0M455.6 333.9h0M455.4 334.7h0M456.3 335.1h0M451.3 337.3h0M456.5 336.7h0M452.4 338.3h0M456.6 336.3h0M453.3 338.6h0M452.9 333.6h0M452.1 333.5h0M456.6 335.4h0M453.1 333.1h0" stroke="#8090b8" stroke-width="0.80" stroke-linecap="round" fill="none"/><path d="M454.0 334.3h0M454.1 335.3h0M454.6 335.9h0M454.5 336.5h0M455.0 334.6h0M454.9 336.4h0M455.1 335.9h0M452.9 335.7h0M455.1 336.3h0M454.1 337.0h0M453.5 336.4h0M454.3 335.4h0M455.4 336.6h0M454.5 336.1h0M453.1 336.7h0M453.5 337.3h0" stroke="#5a6a98" stroke-width="0.80" stroke-linecap="round" fill="none"/></g>
<rect x="346.50" y="286.50" width="66.00" height="66.00" fill="none" stroke="#8a8a8a" stroke-width="0.6"/>
<line x1="344.70" y1="293.60" x2="346.50" y2="293.60" stroke="#333" stroke-width="0.7"/>
<text x="343.60" y="295.60" font-size="6.0" text-anchor="end" fill="#222">10<tspan dy="-2.52" font-size="4.08">5</tspan></text>
<line x1="344.70" y1="310.00" x2="346.50" y2="310.00" stroke="#333" stroke-width="0.7"/>
<text x="343.60" y="312.00" font-size="6.0" text-anchor="end" fill="#222">10<tspan dy="-2.52" font-size="4.08">4</tspan></text>
<line x1="344.70" y1="327.40" x2="346.50" y2="327.40" stroke="#333" stroke-width="0.7"/>
<text x="343.60" y="329.40" font-size="6.0" text-anchor="end" fill="#222">10<tspan dy="-2.52" font-size="4.08">3</tspan></text>
<line x1="344.70" y1="337.60" x2="346.50" y2="337.60" stroke="#333" stroke-width="0.7"/>
<text x="343.60" y="339.60" font-size="6.0" text-anchor="end" fill="#222">0</text>
<line x1="344.70" y1="349.00" x2="346.50" y2="349.00" stroke="#333" stroke-width="0.7"/>
<text x="343.60" y="351.00" font-size="6.0" text-anchor="end" fill="#222">−10<tspan dy="-2.52" font-size="4.08">3</tspan></text>
<line x1="345.50" y1="322.46" x2="346.50" y2="322.46" stroke="#555" stroke-width="0.5"/>
<line x1="345.50" y1="319.58" x2="346.50" y2="319.58" stroke="#555" stroke-width="0.5"/>
<line x1="345.50" y1="317.53" x2="346.50" y2="317.53" stroke="#555" stroke-width="0.5"/>
<line x1="345.50" y1="315.94" x2="346.50" y2="315.94" stroke="#555" stroke-width="0.5"/>
<line x1="345.50" y1="314.64" x2="346.50" y2="314.64" stroke="#555" stroke-width="0.5"/>
<line x1="345.50" y1="313.54" x2="346.50" y2="313.54" stroke="#555" stroke-width="0.5"/>
<line x1="345.50" y1="312.59" x2="346.50" y2="312.59" stroke="#555" stroke-width="0.5"/>
<line x1="345.50" y1="311.75" x2="346.50" y2="311.75" stroke="#555" stroke-width="0.5"/>
<line x1="345.50" y1="305.06" x2="346.50" y2="305.06" stroke="#555" stroke-width="0.5"/>
<line x1="345.50" y1="302.18" x2="346.50" y2="302.18" stroke="#555" stroke-width="0.5"/>
<line x1="345.50" y1="300.13" x2="346.50" y2="300.13" stroke="#555" stroke-width="0.5"/>
<line x1="345.50" y1="298.54" x2="346.50" y2="298.54" stroke="#555" stroke-width="0.5"/>
<line x1="345.50" y1="297.24" x2="346.50" y2="297.24" stroke="#555" stroke-width="0.5"/>
<line x1="345.50" y1="296.14" x2="346.50" y2="296.14" stroke="#555" stroke-width="0.5"/>
<line x1="345.50" y1="295.19" x2="346.50" y2="295.19" stroke="#555" stroke-width="0.5"/>
<line x1="345.50" y1="294.35" x2="346.50" y2="294.35" stroke="#555" stroke-width="0.5"/>
<line x1="345.50" y1="288.66" x2="346.50" y2="288.66" stroke="#555" stroke-width="0.5"/>
<line x1="351.30" y1="352.50" x2="351.30" y2="354.30" stroke="#333" stroke-width="0.7"/>
<text x="351.30" y="362.20" font-size="6.0" text-anchor="middle" fill="#222">−10<tspan dy="-2.52" font-size="4.08">3</tspan></text>
<line x1="361.20" y1="352.50" x2="361.20" y2="354.30" stroke="#333" stroke-width="0.7"/>
<text x="361.20" y="362.20" font-size="6.0" text-anchor="middle" fill="#222">0</text>
<line x1="371.30" y1="352.50" x2="371.30" y2="354.30" stroke="#333" stroke-width="0.7"/>
<text x="371.30" y="362.20" font-size="6.0" text-anchor="middle" fill="#222">10<tspan dy="-2.52" font-size="4.08">3</tspan></text>
<line x1="390.00" y1="352.50" x2="390.00" y2="354.30" stroke="#333" stroke-width="0.7"/>
<text x="390.00" y="362.20" font-size="6.0" text-anchor="middle" fill="#222">10<tspan dy="-2.52" font-size="4.08">4</tspan></text>
<line x1="405.20" y1="352.50" x2="405.20" y2="354.30" stroke="#333" stroke-width="0.7"/>
<text x="405.20" y="362.20" font-size="6.0" text-anchor="middle" fill="#222">10<tspan dy="-2.52" font-size="4.08">5</tspan></text>
<line x1="376.93" y1="352.50" x2="376.93" y2="353.50" stroke="#555" stroke-width="0.5"/>
<line x1="380.22" y1="352.50" x2="380.22" y2="353.50" stroke="#555" stroke-width="0.5"/>
<line x1="382.56" y1="352.50" x2="382.56" y2="353.50" stroke="#555" stroke-width="0.5"/>
<line x1="384.37" y1="352.50" x2="384.37" y2="353.50" stroke="#555" stroke-width="0.5"/>
<line x1="385.85" y1="352.50" x2="385.85" y2="353.50" stroke="#555" stroke-width="0.5"/>
<line x1="387.10" y1="352.50" x2="387.10" y2="353.50" stroke="#555" stroke-width="0.5"/>
<line x1="388.19" y1="352.50" x2="388.19" y2="353.50" stroke="#555" stroke-width="0.5"/>
<line x1="389.14" y1="352.50" x2="389.14" y2="353.50" stroke="#555" stroke-width="0.5"/>
<line x1="395.63" y1="352.50" x2="395.63" y2="353.50" stroke="#555" stroke-width="0.5"/>
<line x1="398.92" y1="352.50" x2="398.92" y2="353.50" stroke="#555" stroke-width="0.5"/>
<line x1="401.26" y1="352.50" x2="401.26" y2="353.50" stroke="#555" stroke-width="0.5"/>
<line x1="403.07" y1="352.50" x2="403.07" y2="353.50" stroke="#555" stroke-width="0.5"/>
<line x1="404.55" y1="352.50" x2="404.55" y2="353.50" stroke="#555" stroke-width="0.5"/>
<line x1="405.80" y1="352.50" x2="405.80" y2="353.50" stroke="#555" stroke-width="0.5"/>
<line x1="406.89" y1="352.50" x2="406.89" y2="353.50" stroke="#555" stroke-width="0.5"/>
<line x1="407.84" y1="352.50" x2="407.84" y2="353.50" stroke="#555" stroke-width="0.5"/>
<text x="354.40" y="293.90" font-size="4.0" text-anchor="middle" fill="#444">10.2</text>
<text x="403.00" y="293.90" font-size="4.0" text-anchor="middle" fill="#444">1.03</text>
<text x="354.40" y="347.60" font-size="4.0" text-anchor="middle" fill="#444">69.7</text>
<text x="403.00" y="347.60" font-size="4.0" text-anchor="middle" fill="#444">19.1</text>
<rect x="438.50" y="286.50" width="65.00" height="66.00" fill="none" stroke="#8a8a8a" stroke-width="0.6"/>
<line x1="436.70" y1="293.60" x2="438.50" y2="293.60" stroke="#333" stroke-width="0.7"/>
<text x="435.40" y="295.60" font-size="6.0" text-anchor="end" fill="#222">10<tspan dy="-2.52" font-size="4.08">5</tspan></text>
<line x1="436.70" y1="310.00" x2="438.50" y2="310.00" stroke="#333" stroke-width="0.7"/>
<text x="435.40" y="312.00" font-size="6.0" text-anchor="end" fill="#222">10<tspan dy="-2.52" font-size="4.08">4</tspan></text>
<line x1="436.70" y1="327.40" x2="438.50" y2="327.40" stroke="#333" stroke-width="0.7"/>
<text x="435.40" y="329.40" font-size="6.0" text-anchor="end" fill="#222">10<tspan dy="-2.52" font-size="4.08">3</tspan></text>
<line x1="436.70" y1="337.60" x2="438.50" y2="337.60" stroke="#333" stroke-width="0.7"/>
<text x="435.40" y="339.60" font-size="6.0" text-anchor="end" fill="#222">0</text>
<line x1="436.70" y1="349.00" x2="438.50" y2="349.00" stroke="#333" stroke-width="0.7"/>
<text x="435.40" y="351.00" font-size="6.0" text-anchor="end" fill="#222">−10<tspan dy="-2.52" font-size="4.08">3</tspan></text>
<line x1="437.50" y1="322.46" x2="438.50" y2="322.46" stroke="#555" stroke-width="0.5"/>
<line x1="437.50" y1="319.58" x2="438.50" y2="319.58" stroke="#555" stroke-width="0.5"/>
<line x1="437.50" y1="317.53" x2="438.50" y2="317.53" stroke="#555" stroke-width="0.5"/>
<line x1="437.50" y1="315.94" x2="438.50" y2="315.94" stroke="#555" stroke-width="0.5"/>
<line x1="437.50" y1="314.64" x2="438.50" y2="314.64" stroke="#555" stroke-width="0.5"/>
<line x1="437.50" y1="313.54" x2="438.50" y2="313.54" stroke="#555" stroke-width="0.5"/>
<line x1="437.50" y1="312.59" x2="438.50" y2="312.59" stroke="#555" stroke-width="0.5"/>
<line x1="437.50" y1="311.75" x2="438.50" y2="311.75" stroke="#555" stroke-width="0.5"/>
<line x1="437.50" y1="305.06" x2="438.50" y2="305.06" stroke="#555" stroke-width="0.5"/>
<line x1="437.50" y1="302.18" x2="438.50" y2="302.18" stroke="#555" stroke-width="0.5"/>
<line x1="437.50" y1="300.13" x2="438.50" y2="300.13" stroke="#555" stroke-width="0.5"/>
<line x1="437.50" y1="298.54" x2="438.50" y2="298.54" stroke="#555" stroke-width="0.5"/>
<line x1="437.50" y1="297.24" x2="438.50" y2="297.24" stroke="#555" stroke-width="0.5"/>
<line x1="437.50" y1="296.14" x2="438.50" y2="296.14" stroke="#555" stroke-width="0.5"/>
<line x1="437.50" y1="295.19" x2="438.50" y2="295.19" stroke="#555" stroke-width="0.5"/>
<line x1="437.50" y1="294.35" x2="438.50" y2="294.35" stroke="#555" stroke-width="0.5"/>
<line x1="437.50" y1="288.66" x2="438.50" y2="288.66" stroke="#555" stroke-width="0.5"/>
<line x1="442.90" y1="352.50" x2="442.90" y2="354.30" stroke="#333" stroke-width="0.7"/>
<text x="442.90" y="362.20" font-size="6.0" text-anchor="middle" fill="#222">−10<tspan dy="-2.52" font-size="4.08">3</tspan></text>
<line x1="452.80" y1="352.50" x2="452.80" y2="354.30" stroke="#333" stroke-width="0.7"/>
<text x="452.80" y="362.20" font-size="6.0" text-anchor="middle" fill="#222">0</text>
<line x1="462.90" y1="352.50" x2="462.90" y2="354.30" stroke="#333" stroke-width="0.7"/>
<text x="462.90" y="362.20" font-size="6.0" text-anchor="middle" fill="#222">10<tspan dy="-2.52" font-size="4.08">3</tspan></text>
<line x1="481.60" y1="352.50" x2="481.60" y2="354.30" stroke="#333" stroke-width="0.7"/>
<text x="481.60" y="362.20" font-size="6.0" text-anchor="middle" fill="#222">10<tspan dy="-2.52" font-size="4.08">4</tspan></text>
<line x1="496.80" y1="352.50" x2="496.80" y2="354.30" stroke="#333" stroke-width="0.7"/>
<text x="496.80" y="362.20" font-size="6.0" text-anchor="middle" fill="#222">10<tspan dy="-2.52" font-size="4.08">5</tspan></text>
<line x1="468.53" y1="352.50" x2="468.53" y2="353.50" stroke="#555" stroke-width="0.5"/>
<line x1="471.82" y1="352.50" x2="471.82" y2="353.50" stroke="#555" stroke-width="0.5"/>
<line x1="474.16" y1="352.50" x2="474.16" y2="353.50" stroke="#555" stroke-width="0.5"/>
<line x1="475.97" y1="352.50" x2="475.97" y2="353.50" stroke="#555" stroke-width="0.5"/>
<line x1="477.45" y1="352.50" x2="477.45" y2="353.50" stroke="#555" stroke-width="0.5"/>
<line x1="478.70" y1="352.50" x2="478.70" y2="353.50" stroke="#555" stroke-width="0.5"/>
<line x1="479.79" y1="352.50" x2="479.79" y2="353.50" stroke="#555" stroke-width="0.5"/>
<line x1="480.74" y1="352.50" x2="480.74" y2="353.50" stroke="#555" stroke-width="0.5"/>
<line x1="487.23" y1="352.50" x2="487.23" y2="353.50" stroke="#555" stroke-width="0.5"/>
<line x1="490.52" y1="352.50" x2="490.52" y2="353.50" stroke="#555" stroke-width="0.5"/>
<line x1="492.86" y1="352.50" x2="492.86" y2="353.50" stroke="#555" stroke-width="0.5"/>
<line x1="494.67" y1="352.50" x2="494.67" y2="353.50" stroke="#555" stroke-width="0.5"/>
<line x1="496.15" y1="352.50" x2="496.15" y2="353.50" stroke="#555" stroke-width="0.5"/>
<line x1="497.40" y1="352.50" x2="497.40" y2="353.50" stroke="#555" stroke-width="0.5"/>
<line x1="498.49" y1="352.50" x2="498.49" y2="353.50" stroke="#555" stroke-width="0.5"/>
<line x1="499.44" y1="352.50" x2="499.44" y2="353.50" stroke="#555" stroke-width="0.5"/>
<text x="445.60" y="293.90" font-size="4.0" text-anchor="middle" fill="#444">3.08</text>
<text x="494.00" y="293.90" font-size="4.0" text-anchor="middle" fill="#444">22.2</text>
<text x="445.60" y="347.60" font-size="4.0" text-anchor="middle" fill="#444">10.5</text>
<text x="494.00" y="347.60" font-size="4.0" text-anchor="middle" fill="#444">61.2</text>
<line x1="368.50" y1="286.90" x2="368.50" y2="352.40" stroke="#3a3a3a" stroke-width="0.9"/>
<line x1="346.80" y1="334.50" x2="412.60" y2="334.50" stroke="#3a3a3a" stroke-width="0.9"/>
<line x1="459.50" y1="286.90" x2="459.50" y2="352.40" stroke="#3a3a3a" stroke-width="0.9"/>
<line x1="438.00" y1="334.50" x2="503.60" y2="334.50" stroke="#3a3a3a" stroke-width="0.9"/>
<ellipse cx="346.40" cy="233.80" rx="0.65" ry="0.80" fill="#111"/>
<ellipse cx="438.00" cy="233.80" rx="0.65" ry="0.80" fill="#111"/>
<ellipse cx="346.40" cy="338.20" rx="0.65" ry="0.80" fill="#111"/>
<ellipse cx="437.60" cy="338.20" rx="0.65" ry="0.80" fill="#111"/>
<ellipse cx="361.50" cy="249.60" rx="1.00" ry="0.55" fill="#111"/>
<ellipse cx="452.60" cy="249.60" rx="1.00" ry="0.55" fill="#111"/>
<ellipse cx="361.50" cy="352.80" rx="1.00" ry="0.55" fill="#111"/>
<ellipse cx="452.60" cy="352.80" rx="1.00" ry="0.55" fill="#111"/>
<path d="M325.8,235.2 L325.8,267.6 L452.3,267.6" fill="none" stroke="#4a4a4a" stroke-width="1.25"/>
<path d="M325.8,230.2 L322.7,237.39999999999998 L325.8,235.79999999999998 L328.90000000000003,237.39999999999998 Z" fill="#111"/>
<path d="M457.3,267.6 L450.1,264.5 L451.7,267.6 L450.1,270.70000000000005 Z" fill="#111"/>
<path d="M325.8,337.9 L325.8,371.8 L452.3,371.8" fill="none" stroke="#4a4a4a" stroke-width="1.25"/>
<path d="M325.8,332.9 L322.7,340.09999999999997 L325.8,338.5 L328.90000000000003,340.09999999999997 Z" fill="#111"/>
<path d="M457.3,371.8 L450.1,368.7 L451.7,371.8 L450.1,374.90000000000003 Z" fill="#111"/>
<text x="327.90" y="220.90" font-size="8.2" text-anchor="middle" fill="#222" font-weight="bold" transform="rotate(-90 327.90 220.90)" textLength="11.60" lengthAdjust="spacingAndGlyphs">PD-1</text>
<text x="327.90" y="322.80" font-size="8.2" text-anchor="middle" fill="#222" font-weight="bold" transform="rotate(-90 327.90 322.80)" textLength="12.40" lengthAdjust="spacingAndGlyphs">TIGIT</text>
<text x="461.00" y="270.30" font-size="8.2" text-anchor="start" fill="#222" font-weight="bold" textLength="15.00" lengthAdjust="spacingAndGlyphs">LAG-3</text>
<text x="460.70" y="374.50" font-size="8.2" text-anchor="start" fill="#222" font-weight="bold" textLength="14.90" lengthAdjust="spacingAndGlyphs">TIM-3</text>
<text x="364.60" y="410.30" font-size="6.5" text-anchor="start" fill="#222" textLength="25.80" lengthAdjust="spacingAndGlyphs">Untreated</text>
<text x="455.00" y="410.20" font-size="6.5" text-anchor="start" fill="#222" textLength="30.80" lengthAdjust="spacingAndGlyphs">SKOV3/Zol</text>
<line x1="455.00" y1="412.60" x2="485.80" y2="412.60" stroke="#aaa" stroke-width="0.5"/>
<g opacity="0.95"><path d="M352.5 458.1h0M356.0 455.2h0M357.0 452.8h0M350.4 463.2h0M352.8 460.1h0M356.3 449.0h0M353.4 447.9h0M357.0 450.3h0M354.1 450.7h0M356.4 454.8h0M349.6 455.9h0M357.7 446.7h0M356.8 449.5h0M357.6 454.0h0M350.2 456.6h0M354.9 450.3h0M351.0 459.1h0M351.2 459.0h0M359.9 449.6h0M353.8 457.5h0M350.3 458.8h0M350.5 456.2h0M357.0 452.6h0M348.8 454.5h0M350.6 450.9h0M358.0 451.7h0M356.6 451.2h0M350.4 458.1h0M351.2 458.5h0M357.4 452.0h0M350.5 452.3h0M351.2 454.4h0M357.5 453.1h0M355.9 455.5h0M351.0 453.0h0M356.5 450.9h0M356.7 454.3h0M353.5 457.6h0M353.0 458.3h0M349.2 460.3h0M352.7 458.4h0M354.9 457.8h0M349.3 457.1h0M356.5 452.0h0M348.6 459.6h0M352.7 458.0h0M351.9 459.2h0M355.6 455.4h0M358.9 448.7h0M356.7 449.4h0M347.2 463.6h0M357.2 449.8h0M351.1 458.3h0M355.1 449.3h0M348.8 458.6h0M351.2 460.7h0M350.0 454.7h0M357.0 450.5h0M353.0 451.2h0M355.1 449.8h0M349.8 458.0h0M349.1 457.8h0M353.6 459.6h0M356.0 456.4h0M356.9 453.4h0M357.5 451.6h0M355.4 456.2h0M357.6 451.2h0M353.4 457.7h0M351.3 454.0h0M353.8 449.5h0M350.7 457.1h0M349.9 458.2h0M354.1 448.0h0M349.8 458.5h0M352.2 459.7h0M350.9 458.0h0M350.9 453.9h0M354.0 450.1h0M358.3 450.0h0M352.8 450.7h0M354.7 457.2h0M359.3 451.7h0M354.0 450.5h0M356.1 455.9h0M348.6 457.6h0M350.4 453.5h0M356.1 451.0h0M355.0 450.7h0M356.8 452.9h0M355.0 450.3h0M350.5 455.5h0M357.4 447.0h0M351.1 458.5h0M347.4 459.9h0M353.7 458.0h0M356.6 451.7h0M350.2 456.9h0M349.9 458.0h0M348.5 454.7h0M348.9 454.8h0M356.8 452.5h0M358.5 448.6h0M351.1 454.3h0M358.4 450.9h0M350.3 454.8h0M353.7 459.4h0M355.5 455.7h0M356.4 452.5h0M357.3 452.0h0M352.4 448.0h0M349.9 462.6h0M349.2 459.0h0M349.8 458.8h0M353.0 451.4h0M353.0 447.5h0M354.9 450.7h0M349.1 457.4h0" stroke="#7fa0c8" stroke-width="1.00" stroke-linecap="round" fill="none"/><path d="M351.3 456.8h0M354.9 451.4h0M355.2 454.2h0M350.8 456.5h0M355.5 452.1h0M353.7 456.3h0M350.9 455.8h0M355.8 452.5h0M353.8 451.6h0M354.4 455.5h0M352.8 453.3h0M353.2 456.2h0M353.3 452.6h0M355.7 453.9h0M351.4 454.3h0M353.8 451.8h0M355.9 452.8h0M355.7 453.2h0M354.1 456.0h0M351.6 453.9h0M354.2 452.2h0M353.3 456.6h0M353.3 452.4h0M355.3 452.7h0M351.1 455.6h0M356.0 451.5h0M354.3 456.0h0M351.3 456.1h0M353.0 453.3h0M351.7 456.2h0M355.4 454.0h0M351.2 454.7h0M353.8 452.2h0M352.1 455.7h0M351.9 454.4h0M355.3 452.6h0M352.5 457.5h0M352.1 457.3h0M352.3 453.8h0M353.9 456.1h0M352.2 457.0h0M354.6 451.4h0M353.2 456.0h0M352.7 456.5h0M354.6 455.5h0M351.8 454.7h0M354.9 454.0h0M351.2 456.8h0M351.7 455.6h0M353.7 451.4h0M352.8 453.3h0M350.8 456.3h0M355.4 451.1h0M354.1 451.9h0M353.4 452.4h0M351.5 455.8h0M351.8 455.1h0M355.9 452.2h0M355.8 452.1h0M354.3 451.9h0M353.4 456.6h0M355.2 453.8h0M352.0 456.6h0M355.9 453.5h0M353.4 455.9h0M353.1 456.8h0M356.0 451.7h0M355.2 451.1h0M352.6 452.8h0M355.1 452.4h0M354.7 452.0h0M354.9 452.0h0M351.4 455.8h0M351.8 455.5h0M352.7 457.1h0M351.2 456.5h0M355.2 451.1h0M351.5 455.7h0M351.3 454.8h0M354.2 456.0h0M352.5 453.2h0M355.7 453.1h0M353.5 452.5h0M355.3 454.7h0M352.3 454.3h0M351.9 455.4h0M351.8 454.3h0M354.7 455.1h0" stroke="#5f9a8a" stroke-width="1.00" stroke-linecap="round" fill="none"/><path d="M354.6 453.0h0M354.6 453.7h0M352.5 454.5h0M354.1 453.9h0M354.7 454.3h0M353.5 455.7h0M352.7 453.8h0M352.1 454.9h0M353.9 455.3h0M352.7 454.4h0M354.8 452.4h0M352.5 455.2h0M355.0 453.3h0M354.6 453.1h0M353.6 454.5h0M354.2 454.1h0M354.7 454.3h0M352.8 455.7h0M354.8 454.2h0M354.2 455.0h0M353.6 454.1h0M354.3 453.9h0M353.7 454.7h0M352.9 455.7h0M354.5 454.0h0M353.7 453.4h0M352.8 455.7h0M353.8 452.9h0M353.1 455.3h0M353.0 455.2h0M353.1 453.6h0M354.0 454.6h0M352.3 455.0h0M353.8 452.9h0M352.7 455.9h0M352.8 455.7h0M354.6 454.1h0M353.7 452.8h0M354.5 454.0h0M353.6 455.6h0M353.8 454.7h0M352.4 455.7h0M354.4 453.3h0M352.6 454.6h0M352.8 455.8h0M354.3 452.5h0M353.9 452.9h0M354.0 454.6h0M353.7 453.5h0M352.3 455.4h0M354.5 453.5h0M354.9 452.9h0M354.1 454.3h0M352.7 454.9h0" stroke="#4f8f72" stroke-width="1.00" stroke-linecap="round" fill="none"/></g>
<g opacity="0.85"><path d="M463.3 447.7h0M461.9 451.3h0M448.1 450.7h0M465.8 448.9h0M457.4 453.5h0M459.4 453.2h0M448.9 452.9h0M461.3 449.7h0M464.1 447.4h0M456.1 445.9h0M449.0 453.0h0M453.9 446.7h0M454.1 454.3h0M455.0 444.4h0M456.2 448.0h0M464.1 449.6h0M459.4 450.2h0M450.5 451.7h0M460.5 447.2h0M449.7 453.1h0M449.5 449.5h0M457.2 449.9h0M447.0 450.8h0M457.7 449.4h0M448.3 451.5h0M461.4 448.5h0M451.1 447.9h0M461.5 449.4h0M451.0 446.9h0M464.7 449.3h0M459.0 447.0h0M456.2 445.5h0M465.4 446.6h0M459.6 451.1h0M455.4 451.2h0M455.7 450.1h0M463.3 450.2h0M458.1 445.5h0M451.1 451.4h0M464.9 448.4h0M451.7 452.8h0M452.8 449.8h0M451.1 451.8h0M456.5 447.7h0M448.4 450.8h0M453.6 451.6h0M448.4 451.9h0M461.4 447.6h0M457.9 444.7h0M448.5 448.8h0M461.3 447.2h0M448.7 448.8h0M452.8 445.5h0M449.9 453.2h0M450.9 447.2h0M464.1 447.2h0M465.1 449.9h0M460.4 450.9h0M461.1 446.8h0M464.3 444.7h0M453.5 448.8h0M459.0 448.6h0M452.4 445.1h0M462.2 451.4h0M463.3 450.0h0M449.5 451.9h0M454.5 451.3h0M457.3 447.6h0M455.3 452.1h0M449.3 451.4h0M455.2 448.1h0M464.1 450.5h0M455.8 446.0h0M453.5 452.0h0M453.0 453.7h0M462.8 444.2h0M458.7 450.7h0M455.7 445.2h0M454.2 449.8h0M458.1 444.3h0M462.7 448.1h0M461.3 446.3h0M457.0 452.4h0M449.5 449.8h0M463.8 447.4h0M454.3 449.4h0M462.2 445.7h0M456.6 446.6h0M449.1 449.7h0M457.6 453.3h0M461.4 451.5h0M459.0 445.0h0M450.9 453.4h0M462.7 448.6h0M450.5 453.2h0M457.2 451.4h0M462.1 445.7h0M458.9 444.8h0M452.4 451.7h0M460.7 448.8h0M450.8 451.6h0M456.4 447.5h0M454.7 450.8h0M465.5 447.9h0M458.0 448.1h0M452.1 445.4h0M465.4 448.8h0M459.9 450.5h0M456.5 447.9h0M459.8 445.5h0M463.7 447.6h0M457.1 453.5h0M452.3 452.6h0M458.9 450.0h0M459.1 448.5h0M455.1 458.4h0M460.3 442.5h0M459.4 455.0h0M466.7 444.2h0M466.3 441.0h0M453.2 454.0h0M455.5 453.6h0M465.2 446.7h0M450.3 447.5h0M458.4 448.5h0M447.9 460.0h0M456.6 441.5h0M455.7 455.7h0M468.0 449.8h0M444.4 453.8h0M462.3 452.7h0M449.1 444.9h0M454.1 455.0h0M458.8 444.7h0M469.8 446.7h0M470.6 447.5h0M455.8 450.6h0M452.1 454.4h0M450.5 452.7h0M472.7 439.9h0M459.3 452.1h0M458.3 442.8h0M461.1 447.0h0M461.8 451.5h0M460.1 451.3h0M465.1 451.2h0M460.9 449.7h0M455.3 449.3h0M452.3 450.0h0M449.8 446.7h0M439.8 460.7h0M457.0 446.8h0M459.9 442.7h0M468.8 445.9h0M457.1 447.4h0M457.3 445.4h0M465.5 452.4h0M463.9 449.6h0M459.3 449.2h0M443.7 452.3h0M462.0 443.4h0M456.7 445.2h0M439.4 454.6h0M441.3 450.0h0M456.7 445.4h0M458.5 449.0h0M463.1 443.4h0M451.6 452.0h0M444.3 452.4h0M460.3 440.6h0M458.4 459.7h0M453.6 442.8h0M457.3 443.4h0M460.6 444.2h0M458.6 447.9h0M462.8 452.7h0M441.7 448.5h0M465.7 452.8h0M452.1 443.6h0M467.7 442.2h0M470.7 449.1h0M454.2 444.8h0M461.6 449.0h0M446.9 451.0h0M455.3 447.3h0M462.7 457.9h0M463.5 449.2h0M454.3 447.9h0M467.5 448.0h0M457.5 453.2h0M450.6 451.4h0M446.8 454.8h0M454.5 447.5h0M450.0 453.4h0M459.8 454.0h0M448.5 453.3h0M464.5 438.0h0M458.7 450.6h0M456.7 447.1h0M459.9 442.8h0M461.6 449.3h0M457.2 439.8h0M452.5 449.1h0M455.4 446.0h0M473.3 445.5h0M449.7 449.9h0M456.0 453.2h0M446.3 440.5h0M454.3 449.3h0M450.7 449.0h0M455.1 444.0h0M453.4 450.9h0M451.9 442.9h0M470.0 445.4h0M457.0 450.9h0M463.2 444.4h0M450.4 446.8h0M438.7 453.0h0M454.2 441.8h0M457.3 446.6h0M455.6 451.6h0M456.7 450.9h0M461.4 450.0h0M458.4 452.5h0M453.6 446.6h0M440.3 452.6h0M446.0 458.9h0M458.2 449.7h0M455.7 449.3h0M458.2 443.0h0M456.5 448.3h0M457.5 449.5h0M460.9 450.3h0M459.4 443.6h0M464.5 444.9h0M459.2 445.6h0M460.6 447.8h0M449.1 458.1h0M451.6 450.8h0M463.1 450.7h0M450.5 453.9h0M464.6 444.3h0M455.6 447.3h0M452.7 451.3h0M440.4 445.6h0M461.3 443.9h0M467.9 449.6h0M454.4 454.0h0M445.4 442.4h0M465.9 446.2h0M479.4 452.0h0M444.7 451.3h0M454.3 444.1h0M464.0 445.4h0M457.4 447.2h0M454.7 443.7h0M453.5 447.8h0M460.6 444.4h0M441.3 454.9h0M450.7 446.3h0M453.7 441.5h0M458.2 446.9h0M447.6 450.6h0M456.5 453.4h0M445.4 447.2h0M442.9 451.7h0M450.5 450.2h0M451.8 448.1h0M468.2 450.3h0M453.7 446.3h0M454.3 445.9h0M452.5 437.7h0M458.7 451.1h0M459.5 432.7h0M453.2 446.5h0M473.8 446.9h0M438.2 455.3h0M446.8 446.1h0M449.6 450.9h0M454.9 439.5h0M438.8 456.4h0M468.5 452.6h0M459.1 451.0h0M453.5 448.9h0M447.1 448.6h0M459.6 454.4h0M449.7 452.6h0M457.7 454.8h0M452.7 448.4h0M454.7 444.7h0M462.3 436.6h0M448.1 449.3h0M446.9 446.4h0M461.8 450.5h0M455.4 450.7h0M449.7 452.9h0M468.0 453.2h0M456.4 445.8h0M461.4 437.0h0M459.5 442.1h0M453.6 450.1h0M455.9 446.0h0M463.4 455.5h0M463.8 453.5h0M456.9 451.7h0M456.8 444.8h0M461.8 453.6h0M453.6 446.5h0M460.0 441.4h0M465.7 448.5h0M460.6 450.7h0M461.0 455.5h0M453.3 452.5h0M456.2 450.7h0M455.6 445.6h0M450.2 440.1h0M466.4 453.2h0M444.5 447.3h0M456.7 449.7h0M454.9 446.3h0M472.4 445.2h0M460.8 447.2h0M456.1 449.3h0M461.0 443.5h0M469.2 438.7h0M456.1 449.3h0M462.0 451.3h0M455.5 446.3h0M436.8 456.8h0M448.8 449.9h0M453.2 448.9h0M467.0 449.8h0M456.6 451.1h0M477.8 451.4h0M468.1 446.8h0" stroke="#bcc0e6" stroke-width="0.84" stroke-linecap="round" fill="none"/><path d="M453.6 453.8h0M460.0 444.1h0M463.3 450.0h0M458.7 451.3h0M459.0 448.7h0M451.0 449.0h0M451.4 453.7h0M459.3 451.7h0M451.6 453.0h0M451.2 449.6h0M462.5 445.2h0M451.3 448.3h0M454.1 449.3h0M451.3 446.6h0M462.7 448.7h0M452.8 450.1h0M459.2 451.4h0M459.4 449.4h0M457.0 443.9h0M451.3 445.8h0M462.8 445.4h0M459.5 444.0h0M453.5 448.8h0M459.1 447.8h0M452.8 446.1h0M456.9 444.7h0M455.8 444.7h0M461.0 450.4h0M449.1 452.0h0M458.7 449.4h0M455.5 448.1h0M453.5 446.4h0M460.8 445.9h0M454.2 449.4h0M451.7 447.9h0M464.8 448.7h0M456.8 446.1h0M455.0 448.7h0M455.7 447.0h0M461.8 450.4h0M456.7 447.5h0M452.0 452.9h0M457.8 452.0h0M450.0 446.8h0M459.1 447.6h0M462.8 451.3h0M458.8 452.8h0M459.7 451.4h0M447.7 450.1h0M448.6 448.4h0M447.8 452.3h0M449.6 448.5h0M447.0 450.2h0M450.8 446.8h0M447.9 451.9h0M465.3 448.2h0M463.4 450.5h0M462.1 444.8h0M455.2 453.0h0M454.3 444.5h0M464.5 450.4h0M460.3 449.9h0M451.5 453.4h0M454.7 450.0h0M463.0 444.6h0M459.2 449.6h0M453.5 447.4h0M462.4 447.2h0M455.0 444.4h0M448.1 449.5h0M454.5 449.1h0M461.2 451.9h0M448.5 447.8h0M448.1 449.1h0M464.1 446.9h0M451.9 453.9h0M453.3 448.0h0M464.8 445.2h0M463.4 446.8h0M457.8 444.9h0M463.7 451.2h0M456.8 446.7h0M448.9 451.5h0M463.3 448.9h0M447.5 449.0h0M459.7 452.9h0M451.9 452.6h0M449.6 447.9h0M463.7 448.7h0M461.2 449.1h0M459.9 446.4h0M455.7 445.6h0M457.2 450.5h0M447.9 451.4h0M461.5 449.2h0M460.6 444.8h0M456.0 450.8h0M453.4 453.8h0M450.0 448.5h0M458.9 452.6h0M464.2 449.8h0M461.9 450.8h0M452.7 452.4h0M461.4 452.4h0M457.7 447.7h0M462.4 447.0h0M453.2 447.7h0M450.2 448.2h0M457.5 451.7h0M460.9 448.3h0M452.8 451.9h0M458.6 450.3h0M448.2 451.3h0" stroke="#9298cc" stroke-width="0.84" stroke-linecap="round" fill="none"/><path d="M453.0 446.4h0M450.9 448.5h0M455.7 454.2h0M452.5 448.7h0M452.3 446.5h0M457.2 453.1h0M453.4 445.8h0M455.7 444.8h0M456.2 445.3h0M457.8 451.4h0M452.7 454.2h0M450.4 453.3h0M452.8 445.8h0M449.3 446.8h0M458.6 453.6h0M463.6 449.8h0M459.6 446.9h0M450.6 450.0h0M452.0 452.4h0M460.4 447.6h0M453.9 445.5h0M465.9 449.0h0M456.8 451.0h0M459.0 444.0h0M449.4 447.5h0M458.9 447.1h0M460.5 447.4h0M450.5 449.7h0M459.0 448.8h0M461.6 445.3h0M450.7 448.4h0M454.8 445.4h0M456.1 445.8h0M460.5 448.7h0M465.4 447.2h0M458.4 451.9h0M452.3 445.8h0M456.7 452.4h0M458.8 444.9h0M452.3 445.7h0M461.5 449.3h0M448.3 447.8h0M450.4 447.1h0M465.8 447.3h0M460.9 449.2h0M455.9 444.2h0M452.5 450.1h0M452.7 446.3h0M449.7 449.1h0M449.7 452.7h0M463.8 449.0h0M452.8 447.6h0M458.8 446.0h0M464.3 449.6h0M450.1 448.8h0M459.1 446.8h0M453.1 448.5h0M458.4 453.4h0M454.2 452.7h0M463.8 448.5h0M455.2 449.3h0M455.6 449.2h0M450.3 448.5h0M461.1 443.9h0M460.1 448.2h0M458.6 450.3h0M454.3 449.8h0M462.5 449.9h0M461.6 450.9h0M462.6 444.8h0M465.9 448.3h0M452.6 450.4h0M461.9 452.0h0M456.7 448.1h0M459.5 448.1h0M452.9 445.9h0M449.0 449.6h0M456.2 446.5h0M460.1 445.4h0M450.6 446.6h0M460.5 449.1h0M464.4 445.2h0M454.1 451.7h0M447.5 451.7h0M453.1 446.6h0M455.2 450.2h0M452.2 449.7h0M457.5 449.3h0M455.6 450.1h0M458.7 446.8h0M464.6 445.1h0M456.5 446.0h0M460.7 451.5h0M449.6 451.4h0M459.6 448.1h0M458.4 452.8h0M456.2 450.4h0M460.3 446.8h0M462.5 444.5h0M452.6 454.0h0M455.4 451.1h0M450.7 452.3h0M450.4 453.7h0M463.7 445.7h0M458.2 443.8h0M463.8 449.6h0M451.0 452.1h0M462.8 448.9h0M460.0 447.8h0M459.3 449.7h0M456.5 449.3h0M464.5 448.4h0M452.8 447.2h0M462.1 448.3h0M463.3 449.0h0M454.9 448.5h0M457.7 449.4h0M448.7 450.0h0M450.8 452.3h0M453.4 453.2h0M449.3 451.9h0M464.1 447.2h0M454.7 447.4h0M449.4 453.1h0M460.6 452.9h0M452.5 447.8h0M461.2 449.6h0M456.8 452.6h0M455.9 446.6h0M459.8 448.6h0" stroke="#666c9e" stroke-width="0.84" stroke-linecap="round" fill="none"/><path d="M463.8 446.1h0M460.8 444.2h0M456.0 451.2h0M448.4 452.5h0M449.0 448.1h0M464.8 446.7h0M464.3 449.9h0M458.7 447.2h0M457.4 451.4h0M450.2 447.3h0M456.2 449.5h0M451.7 452.7h0M461.3 446.1h0M453.0 445.5h0M452.7 453.5h0M447.5 449.4h0M447.8 448.6h0M457.8 444.0h0M461.6 445.0h0M459.3 451.9h0M461.8 446.8h0M455.3 451.2h0M447.5 452.0h0M465.4 446.3h0M458.9 450.5h0M454.1 446.6h0M454.3 445.5h0M457.9 445.0h0M452.1 450.4h0M451.9 451.9h0M453.6 449.2h0M450.9 449.2h0M464.3 446.7h0M466.2 446.4h0M451.7 449.8h0M460.8 447.1h0M461.8 444.2h0M454.0 454.3h0M452.2 451.6h0M458.5 444.0h0M461.1 447.0h0M447.8 449.3h0M453.1 447.4h0M455.3 447.5h0M459.1 448.8h0M458.8 444.9h0M452.3 446.7h0M462.5 446.0h0M456.1 446.8h0M461.6 451.3h0M452.7 451.5h0M461.5 447.3h0M462.6 444.3h0M453.1 446.1h0M452.1 452.1h0M466.2 447.8h0M458.3 451.5h0M458.1 450.2h0M450.7 453.0h0M447.4 449.1h0M460.9 451.4h0M457.8 446.7h0" stroke="#454a6c" stroke-width="0.84" stroke-linecap="round" fill="none"/></g>
<g opacity="0.95"><path d="M357.8 562.3h0M350.5 566.4h0M351.7 562.9h0M352.2 561.7h0M350.9 564.7h0M357.1 560.0h0M357.3 559.0h0M351.2 562.9h0M356.6 561.8h0M358.1 560.9h0M348.6 564.1h0M350.8 565.4h0M357.4 563.0h0M356.6 562.3h0M352.6 567.4h0M351.6 567.9h0M352.1 567.9h0M349.7 568.2h0M357.3 559.1h0M354.0 559.7h0M356.6 561.5h0M357.9 561.1h0M350.3 564.8h0M353.4 558.2h0M351.5 562.8h0M356.1 563.9h0M355.7 566.2h0M354.5 567.9h0M352.9 568.6h0M351.6 562.3h0M355.4 564.4h0M355.8 564.3h0M360.7 559.1h0M350.4 566.1h0M356.5 558.0h0M348.7 567.7h0M351.0 562.8h0M349.5 564.3h0M357.5 562.0h0M349.7 566.2h0M352.5 561.3h0M355.5 558.7h0M357.2 559.7h0M351.1 563.2h0M356.7 559.6h0M356.7 563.4h0M357.4 562.7h0M356.7 564.3h0M357.0 559.2h0M351.8 561.9h0M351.2 566.7h0M350.4 566.7h0M351.1 567.9h0M352.3 560.5h0M352.0 567.8h0M357.4 559.8h0M356.0 559.8h0M355.2 556.8h0M354.1 559.9h0M354.8 558.1h0M353.5 559.9h0M349.8 568.5h0M355.2 565.4h0M352.7 560.7h0M356.1 565.2h0M353.2 556.8h0M350.4 567.3h0M356.1 560.1h0M356.9 564.9h0M351.8 569.8h0M351.9 567.5h0M356.2 561.4h0M356.1 558.4h0M347.8 567.2h0M351.5 562.9h0M354.6 558.3h0M352.6 561.1h0M352.2 559.3h0M356.0 559.1h0M357.8 557.7h0M356.2 560.4h0M355.4 558.0h0M353.1 569.4h0M355.3 558.0h0M358.8 562.8h0M352.1 561.1h0M349.1 568.5h0M352.3 561.7h0M359.6 558.6h0M353.3 569.2h0M355.5 559.2h0M353.7 558.2h0M352.5 559.6h0M354.3 568.3h0M349.9 568.8h0M350.6 567.5h0M351.1 564.3h0M354.8 560.1h0M352.3 568.5h0M350.2 563.2h0M351.8 568.6h0M355.0 567.0h0M356.3 563.2h0M354.3 567.2h0M355.1 559.7h0M351.1 568.0h0M356.5 560.4h0M352.6 561.3h0M356.2 561.1h0M352.5 568.2h0M356.2 559.7h0M351.4 563.0h0M356.5 561.5h0M356.6 562.0h0M350.5 565.7h0M356.4 563.2h0M356.7 555.9h0M358.6 559.0h0" stroke="#7f9ed8" stroke-width="1.00" stroke-linecap="round" fill="none"/><path d="M353.4 565.3h0M351.7 565.7h0M353.4 561.4h0M355.3 561.7h0M353.5 561.8h0M352.0 566.2h0M351.9 564.3h0M351.5 565.1h0M355.0 564.3h0M352.8 566.4h0M354.7 561.5h0M355.3 562.9h0M351.3 566.1h0M351.2 564.8h0M356.0 561.3h0M351.7 565.1h0M354.2 561.4h0M353.7 561.7h0M351.9 565.1h0M355.2 564.3h0M352.1 564.8h0M355.7 563.3h0M355.9 561.4h0M354.0 565.4h0M351.2 564.5h0M351.5 563.8h0M355.6 562.1h0M352.4 562.8h0M353.4 565.8h0M353.5 561.8h0M354.1 561.4h0M354.6 561.5h0M354.2 560.8h0M352.5 565.6h0M351.4 563.9h0M354.1 561.7h0M352.0 564.1h0M354.2 565.3h0M354.3 565.0h0M355.6 563.1h0M351.4 565.8h0M352.9 565.7h0M353.8 560.8h0M353.2 566.3h0M351.5 566.5h0M352.1 563.8h0M354.4 564.5h0M353.1 562.4h0M355.3 562.8h0M355.6 563.3h0M352.2 565.3h0M351.8 566.2h0M353.7 566.0h0M353.7 565.7h0M355.8 561.8h0M354.5 565.2h0M354.9 564.1h0M355.3 562.4h0M354.5 564.3h0M352.4 565.4h0M355.8 561.9h0M352.8 565.6h0M354.9 560.9h0M354.4 565.0h0M351.9 566.9h0M352.2 566.4h0M352.4 566.5h0M352.8 562.8h0M353.5 566.1h0M353.8 565.1h0M353.5 565.3h0M355.5 561.1h0M351.8 563.5h0M355.4 560.6h0M353.0 566.7h0M355.4 561.1h0M354.3 561.6h0M353.8 561.5h0M354.7 560.7h0" stroke="#4f9a7a" stroke-width="1.00" stroke-linecap="round" fill="none"/><path d="M354.7 563.2h0M352.7 563.4h0M353.5 562.2h0M354.6 562.3h0M354.3 563.2h0M354.6 563.7h0M354.8 562.1h0M352.9 563.8h0M353.5 563.1h0M352.4 564.1h0M352.6 565.0h0M353.8 563.8h0M353.3 565.2h0M354.7 563.5h0M353.3 563.0h0M353.7 562.2h0M354.4 563.3h0M353.4 562.3h0M353.7 564.9h0M352.4 565.2h0M354.1 564.1h0M354.9 562.1h0M353.1 564.7h0M352.7 564.2h0M352.9 564.7h0M352.5 565.0h0M353.5 562.8h0M354.3 562.0h0M354.4 562.1h0M353.6 563.9h0M352.9 564.7h0M354.3 563.7h0M353.0 563.0h0M353.3 564.9h0M353.8 563.1h0M353.1 563.9h0M353.4 564.5h0M354.8 562.6h0M353.1 563.9h0M353.0 563.0h0M353.0 562.9h0M354.0 562.9h0M353.4 562.7h0" stroke="#8ab83a" stroke-width="1.00" stroke-linecap="round" fill="none"/></g>
<g opacity="0.85"><path d="M464.5 560.9h0M462.0 561.1h0M455.5 563.7h0M450.9 563.7h0M452.3 561.4h0M453.4 564.8h0M454.8 560.6h0M450.7 566.3h0M467.0 559.2h0M456.2 562.4h0M458.5 558.5h0M452.5 559.8h0M455.9 558.6h0M457.7 559.9h0M459.1 559.0h0M458.8 561.7h0M462.5 562.3h0M457.7 567.1h0M463.0 556.8h0M454.7 567.9h0M454.4 565.3h0M465.3 560.0h0M455.4 567.3h0M458.7 558.4h0M461.5 559.2h0M464.5 563.5h0M455.6 566.9h0M466.7 559.3h0M452.2 564.2h0M452.7 564.0h0M455.1 560.0h0M464.0 559.6h0M460.9 565.8h0M463.9 560.5h0M453.3 565.4h0M463.5 563.8h0M451.6 562.9h0M456.2 565.5h0M455.3 564.8h0M461.3 563.6h0M454.7 565.3h0M466.7 560.4h0M462.6 558.9h0M461.7 560.7h0M457.5 560.1h0M464.5 559.7h0M465.8 559.1h0M458.1 560.2h0M456.5 562.2h0M460.5 563.0h0M464.1 560.7h0M460.5 559.1h0M453.5 562.1h0M455.9 563.2h0M451.3 563.4h0M460.0 557.6h0M455.6 559.2h0M454.5 567.0h0M465.5 559.5h0M463.7 557.8h0M462.9 562.5h0M456.0 564.7h0M457.9 563.2h0M461.6 564.5h0M462.6 563.2h0M461.5 565.3h0M459.6 561.6h0M464.4 561.2h0M450.8 565.3h0M459.6 565.9h0M465.1 561.9h0M461.1 561.9h0M465.0 560.2h0M455.0 562.8h0M461.2 561.5h0M457.8 557.4h0M451.2 561.9h0M453.2 560.4h0M450.3 565.2h0M450.8 567.0h0M454.1 560.2h0M451.1 560.8h0M464.5 563.3h0M455.9 565.3h0M455.7 560.8h0M461.4 561.0h0M463.6 561.3h0M462.7 560.4h0M462.3 560.1h0M459.6 564.6h0M462.3 562.2h0M450.4 563.6h0M451.1 567.6h0M454.2 560.2h0M463.4 558.9h0M455.5 563.5h0M453.4 565.4h0M457.3 558.4h0M463.4 558.0h0M464.5 561.4h0M450.1 563.0h0M458.6 564.6h0M449.8 568.1h0M459.6 566.4h0M455.5 561.5h0M460.1 561.2h0M449.1 564.7h0M466.4 558.7h0M452.6 567.6h0M441.4 558.7h0M457.8 563.1h0M457.8 558.2h0M454.4 557.1h0M456.7 555.3h0M457.0 563.9h0M444.5 564.9h0M465.5 566.6h0M447.6 567.7h0M446.9 560.2h0M469.8 560.9h0M452.3 565.4h0M462.4 561.4h0M474.3 558.9h0M436.1 569.1h0M452.1 563.5h0M456.7 559.7h0M452.1 570.8h0M460.8 558.1h0M463.4 563.3h0M464.9 554.8h0M462.1 557.9h0M465.4 558.6h0M441.7 568.5h0M444.7 566.2h0M456.6 560.9h0M445.5 561.8h0M451.3 563.6h0M467.7 561.9h0M456.2 568.8h0M449.0 568.8h0M456.7 563.8h0M461.0 558.0h0M463.2 560.2h0M474.1 554.8h0M467.5 561.7h0M451.4 571.0h0M446.8 556.2h0M465.2 564.5h0M457.6 561.2h0M469.8 561.1h0M454.1 567.1h0M448.0 563.4h0M446.9 556.3h0M451.2 570.5h0M449.1 563.1h0M450.8 569.0h0M458.4 564.4h0M455.1 557.9h0M452.0 568.4h0M458.4 565.7h0M437.1 575.2h0M457.4 572.5h0M454.1 563.9h0M460.9 557.1h0M462.7 557.5h0M467.9 562.2h0M460.0 558.2h0M456.6 564.2h0M442.5 565.5h0M462.3 554.8h0M465.6 556.5h0M458.1 556.9h0M461.7 563.0h0M467.6 564.9h0M466.7 559.9h0M451.0 571.0h0M447.8 564.1h0M463.4 562.2h0M468.8 558.2h0M445.3 565.8h0M458.3 560.5h0M467.1 557.7h0M448.2 568.1h0M452.1 572.3h0M457.4 556.0h0M468.8 569.1h0M444.9 571.3h0M461.3 561.8h0M460.8 563.5h0M454.9 569.9h0M451.1 573.9h0M466.5 553.6h0M459.7 568.2h0M453.9 563.0h0M456.6 568.2h0M453.3 564.0h0M461.1 560.1h0M449.5 559.3h0M445.1 561.6h0M444.4 564.0h0M459.8 561.8h0M450.2 560.5h0M448.5 559.4h0M450.0 568.6h0M447.8 566.2h0M457.0 573.8h0M445.3 567.9h0M454.1 560.2h0M460.0 562.2h0M450.7 566.9h0M462.3 566.7h0M455.6 570.0h0M453.2 554.9h0M461.1 560.7h0M452.8 568.5h0M455.8 567.8h0M458.2 565.7h0M463.1 562.5h0M451.8 568.8h0M460.8 570.4h0M462.1 564.2h0M451.6 562.8h0M456.5 557.4h0M449.2 565.1h0M457.4 563.4h0M464.8 557.8h0M462.2 560.0h0M456.6 564.0h0M443.2 568.1h0M451.7 560.3h0M443.7 565.6h0M445.7 570.9h0M453.4 556.2h0M454.0 567.2h0M453.0 562.8h0M454.8 562.9h0M445.6 566.7h0M458.2 575.8h0M455.4 561.1h0M464.3 559.2h0M458.0 558.2h0M467.6 555.8h0M462.0 566.0h0M455.5 563.2h0M462.8 563.6h0M450.2 566.0h0M449.8 561.9h0M454.9 569.0h0M472.8 568.7h0M455.9 559.1h0M453.2 571.5h0M446.3 565.2h0M456.3 571.0h0M452.2 569.5h0M466.6 558.3h0M458.5 554.9h0M456.7 561.8h0M440.1 570.9h0M457.5 554.6h0M446.5 563.1h0M453.4 562.6h0M449.3 560.9h0M459.0 559.7h0M456.5 561.8h0M460.6 560.6h0M463.8 560.5h0M465.7 565.1h0M448.8 570.0h0M468.6 553.8h0M456.8 561.0h0M461.5 563.3h0M454.9 569.5h0M451.4 564.1h0M467.8 567.6h0M455.2 566.9h0M456.7 555.4h0M449.1 560.1h0M453.4 562.0h0M459.7 567.5h0M464.6 572.0h0M457.1 566.2h0M462.8 567.4h0M456.2 566.8h0M467.9 555.2h0M457.8 564.6h0M453.2 560.0h0M470.1 556.6h0M469.0 555.8h0M457.4 566.2h0M454.8 559.3h0M453.0 565.4h0M453.1 564.5h0M440.9 566.1h0M455.6 560.8h0M449.3 561.5h0M460.4 568.2h0M447.4 565.0h0M465.0 561.2h0M456.3 560.8h0M457.5 562.0h0M441.2 565.3h0" stroke="#bcc0e6" stroke-width="0.84" stroke-linecap="round" fill="none"/><path d="M453.2 566.5h0M461.0 564.8h0M449.4 563.2h0M454.7 568.0h0M458.5 558.7h0M460.4 561.9h0M464.0 558.1h0M457.0 566.9h0M452.3 561.8h0M462.3 562.5h0M463.8 557.6h0M463.9 558.0h0M459.3 564.6h0M461.3 557.2h0M455.2 560.4h0M451.9 562.9h0M456.1 562.2h0M463.0 556.9h0M454.2 566.6h0M459.2 562.2h0M449.6 566.3h0M453.2 565.0h0M456.4 563.7h0M460.9 556.8h0M464.5 561.9h0M459.3 559.3h0M459.4 559.3h0M453.5 567.2h0M461.2 559.1h0M457.4 561.3h0M465.7 559.7h0M455.3 566.8h0M457.6 566.9h0M453.4 563.3h0M464.4 562.4h0M449.3 564.6h0M452.5 566.3h0M460.5 563.6h0M453.2 566.0h0M449.1 564.6h0M465.5 560.3h0M456.9 565.2h0M455.7 559.3h0M448.4 564.8h0M463.9 563.6h0M461.3 560.4h0M463.5 560.6h0M463.9 557.4h0M461.7 562.4h0M459.0 561.6h0M452.2 564.3h0M454.3 559.3h0M451.4 567.5h0M462.1 557.9h0M460.2 562.5h0M448.1 565.5h0M452.8 561.5h0M461.2 560.6h0M456.3 563.3h0M454.8 566.0h0M452.4 560.5h0M462.8 565.0h0M462.3 560.3h0M459.7 563.0h0M463.6 560.6h0M458.3 564.4h0M457.5 566.9h0M456.2 559.3h0M454.9 564.0h0M464.4 559.2h0M459.3 558.2h0M465.8 557.6h0M451.1 565.2h0M456.0 561.4h0M456.4 560.2h0M453.6 564.6h0M454.6 566.6h0M455.3 564.7h0M461.7 563.1h0M454.1 567.0h0M458.1 561.7h0M465.3 557.5h0M450.6 564.6h0M454.7 559.4h0M457.3 564.2h0M451.5 560.8h0M451.8 561.2h0M462.2 560.9h0M458.1 565.1h0M464.5 560.0h0M456.9 561.7h0M453.8 565.2h0M458.0 561.8h0M461.3 563.8h0M449.8 564.6h0M463.1 563.5h0M450.0 563.7h0M463.5 563.9h0M458.1 559.3h0M456.0 565.7h0M463.9 561.2h0M458.5 557.2h0M451.6 565.9h0M453.9 565.5h0M460.9 561.0h0M448.7 564.7h0M464.6 560.5h0M463.2 557.7h0M456.5 558.9h0M464.7 558.2h0M450.0 562.2h0M459.3 563.2h0M451.9 560.0h0M459.8 561.7h0M457.7 565.5h0M464.5 558.2h0M456.2 562.3h0M455.3 561.6h0M464.0 558.3h0M460.9 560.0h0M464.1 563.2h0M464.6 562.2h0M456.1 562.0h0M462.1 560.2h0M455.1 566.5h0M460.0 557.8h0M454.2 567.1h0M457.1 565.6h0M457.8 557.4h0" stroke="#9298cc" stroke-width="0.84" stroke-linecap="round" fill="none"/><path d="M458.6 557.2h0M454.5 558.7h0M456.1 558.1h0M460.6 561.7h0M464.0 562.0h0M459.9 556.9h0M452.2 560.1h0M454.6 562.2h0M465.0 562.5h0M454.7 559.0h0M460.9 558.1h0M453.3 565.8h0M449.8 564.4h0M463.5 557.6h0M456.4 562.1h0M454.3 568.0h0M460.0 563.3h0M460.8 558.5h0M460.1 559.4h0M450.4 565.6h0M460.3 563.6h0M449.7 564.6h0M464.1 563.9h0M455.0 566.4h0M453.9 565.2h0M451.9 560.5h0M462.7 562.2h0M450.1 566.9h0M453.2 562.1h0M465.5 560.6h0M460.4 561.0h0M458.3 563.5h0M456.4 558.2h0M462.1 560.5h0M458.4 563.4h0M449.0 563.5h0M455.0 560.4h0M465.2 562.3h0M458.6 559.2h0M454.8 558.6h0M455.4 558.6h0M461.0 561.8h0M462.4 559.0h0M455.2 563.4h0M457.2 564.9h0M463.1 557.1h0M453.0 566.1h0M457.0 565.1h0M460.6 558.9h0M459.2 564.5h0M466.6 559.3h0M458.9 561.6h0M455.7 561.3h0M449.4 563.9h0M462.0 564.4h0M460.7 561.7h0M460.8 563.9h0M460.0 565.9h0M453.0 564.7h0M462.9 558.2h0M456.2 561.1h0M461.5 561.7h0M457.5 564.7h0M463.9 558.8h0M461.4 564.8h0M462.4 558.5h0M464.9 560.9h0M456.0 560.5h0M459.9 560.7h0M463.0 557.3h0M460.7 566.3h0M459.7 559.7h0M464.2 562.5h0M454.6 562.5h0M462.1 558.0h0M452.1 564.0h0M454.4 563.1h0M459.4 562.3h0M466.7 560.0h0M463.0 558.0h0M460.7 559.3h0M452.0 563.7h0M450.1 564.5h0M451.0 561.2h0M461.1 557.7h0M457.7 561.3h0M464.6 563.0h0M449.3 564.9h0M456.6 559.4h0M450.8 563.7h0M450.6 566.9h0M465.2 557.6h0M458.6 563.5h0M454.5 562.1h0M452.5 563.7h0M466.5 558.6h0M457.9 566.9h0M449.2 565.6h0" stroke="#666c9e" stroke-width="0.84" stroke-linecap="round" fill="none"/><path d="M460.3 564.6h0M453.2 559.9h0M456.4 558.7h0M453.7 565.3h0M456.5 563.0h0M451.6 561.8h0M462.3 557.5h0M464.5 560.3h0M451.9 563.5h0M459.4 564.0h0M464.3 558.6h0M458.3 561.4h0M458.0 558.7h0M451.3 562.2h0M464.7 563.6h0M454.2 566.6h0M453.7 566.0h0M455.1 561.3h0M462.0 557.3h0M451.4 561.6h0M453.3 565.6h0M463.2 563.1h0M454.4 564.0h0M460.6 560.3h0M449.2 567.0h0M451.5 560.4h0M462.2 563.4h0M460.4 563.9h0M456.4 565.1h0M461.6 562.2h0M465.2 562.8h0M465.3 562.9h0M459.3 560.5h0M460.6 559.0h0M449.5 562.3h0M451.4 561.4h0M459.3 563.8h0M452.7 565.9h0M456.1 558.7h0M458.8 559.3h0M458.7 562.5h0M466.6 559.0h0M462.0 560.1h0M462.6 564.7h0M462.0 557.4h0M465.7 561.2h0M459.9 563.9h0M454.6 566.1h0M456.1 566.0h0M453.6 563.0h0M456.9 565.1h0M457.4 567.1h0M458.8 566.1h0M450.1 566.3h0M458.5 561.0h0M457.5 558.2h0M461.2 560.2h0M454.0 562.0h0M463.0 562.0h0M464.8 561.0h0M453.9 563.3h0M454.2 563.4h0M463.5 561.7h0M456.4 560.0h0M455.4 565.9h0M463.7 563.3h0M464.6 562.9h0M454.7 567.6h0M456.2 561.4h0M455.0 558.3h0M461.9 561.0h0M453.0 562.1h0" stroke="#5a7a50" stroke-width="0.84" stroke-linecap="round" fill="none"/></g>
<rect x="345.50" y="414.50" width="67.00" height="66.00" fill="none" stroke="#8a8a8a" stroke-width="0.6"/>
<line x1="343.70" y1="420.20" x2="345.50" y2="420.20" stroke="#333" stroke-width="0.7"/>
<text x="341.80" y="422.20" font-size="6.0" text-anchor="end" fill="#222">10<tspan dy="-2.52" font-size="4.08">5</tspan></text>
<line x1="343.70" y1="436.00" x2="345.50" y2="436.00" stroke="#333" stroke-width="0.7"/>
<text x="341.80" y="438.00" font-size="6.0" text-anchor="end" fill="#222">10<tspan dy="-2.52" font-size="4.08">4</tspan></text>
<line x1="343.70" y1="453.60" x2="345.50" y2="453.60" stroke="#333" stroke-width="0.7"/>
<text x="341.80" y="455.60" font-size="6.0" text-anchor="end" fill="#222">10<tspan dy="-2.52" font-size="4.08">3</tspan></text>
<line x1="343.70" y1="465.70" x2="345.50" y2="465.70" stroke="#333" stroke-width="0.7"/>
<text x="341.80" y="467.70" font-size="6.0" text-anchor="end" fill="#222">0</text>
<line x1="343.70" y1="475.60" x2="345.50" y2="475.60" stroke="#333" stroke-width="0.7"/>
<text x="341.80" y="477.60" font-size="6.0" text-anchor="end" fill="#222">−10<tspan dy="-2.52" font-size="4.08">3</tspan></text>
<line x1="344.50" y1="448.84" x2="345.50" y2="448.84" stroke="#555" stroke-width="0.5"/>
<line x1="344.50" y1="446.06" x2="345.50" y2="446.06" stroke="#555" stroke-width="0.5"/>
<line x1="344.50" y1="444.09" x2="345.50" y2="444.09" stroke="#555" stroke-width="0.5"/>
<line x1="344.50" y1="442.56" x2="345.50" y2="442.56" stroke="#555" stroke-width="0.5"/>
<line x1="344.50" y1="441.31" x2="345.50" y2="441.31" stroke="#555" stroke-width="0.5"/>
<line x1="344.50" y1="440.25" x2="345.50" y2="440.25" stroke="#555" stroke-width="0.5"/>
<line x1="344.50" y1="439.33" x2="345.50" y2="439.33" stroke="#555" stroke-width="0.5"/>
<line x1="344.50" y1="438.52" x2="345.50" y2="438.52" stroke="#555" stroke-width="0.5"/>
<line x1="344.50" y1="431.24" x2="345.50" y2="431.24" stroke="#555" stroke-width="0.5"/>
<line x1="344.50" y1="428.46" x2="345.50" y2="428.46" stroke="#555" stroke-width="0.5"/>
<line x1="344.50" y1="426.49" x2="345.50" y2="426.49" stroke="#555" stroke-width="0.5"/>
<line x1="344.50" y1="424.96" x2="345.50" y2="424.96" stroke="#555" stroke-width="0.5"/>
<line x1="344.50" y1="423.71" x2="345.50" y2="423.71" stroke="#555" stroke-width="0.5"/>
<line x1="344.50" y1="422.65" x2="345.50" y2="422.65" stroke="#555" stroke-width="0.5"/>
<line x1="344.50" y1="421.73" x2="345.50" y2="421.73" stroke="#555" stroke-width="0.5"/>
<line x1="344.50" y1="420.92" x2="345.50" y2="420.92" stroke="#555" stroke-width="0.5"/>
<line x1="344.50" y1="415.44" x2="345.50" y2="415.44" stroke="#555" stroke-width="0.5"/>
<line x1="346.40" y1="480.50" x2="346.40" y2="482.30" stroke="#333" stroke-width="0.7"/>
<text x="348.60" y="483.40" font-size="6.4" text-anchor="end" fill="#222" transform="rotate(-90 348.60 483.40)">0</text>
<line x1="348.97" y1="480.50" x2="348.97" y2="481.50" stroke="#555" stroke-width="0.5"/>
<line x1="351.54" y1="480.50" x2="351.54" y2="481.50" stroke="#555" stroke-width="0.5"/>
<line x1="354.10" y1="480.50" x2="354.10" y2="481.50" stroke="#555" stroke-width="0.5"/>
<line x1="356.67" y1="480.50" x2="356.67" y2="481.50" stroke="#555" stroke-width="0.5"/>
<line x1="359.24" y1="480.50" x2="359.24" y2="482.30" stroke="#333" stroke-width="0.7"/>
<text x="361.44" y="483.40" font-size="6.4" text-anchor="end" fill="#222" transform="rotate(-90 361.44 483.40)">50K</text>
<line x1="361.81" y1="480.50" x2="361.81" y2="481.50" stroke="#555" stroke-width="0.5"/>
<line x1="364.38" y1="480.50" x2="364.38" y2="481.50" stroke="#555" stroke-width="0.5"/>
<line x1="366.94" y1="480.50" x2="366.94" y2="481.50" stroke="#555" stroke-width="0.5"/>
<line x1="369.51" y1="480.50" x2="369.51" y2="481.50" stroke="#555" stroke-width="0.5"/>
<line x1="372.08" y1="480.50" x2="372.08" y2="482.30" stroke="#333" stroke-width="0.7"/>
<text x="374.28" y="483.40" font-size="6.4" text-anchor="end" fill="#222" transform="rotate(-90 374.28 483.40)">100K</text>
<line x1="374.65" y1="480.50" x2="374.65" y2="481.50" stroke="#555" stroke-width="0.5"/>
<line x1="377.22" y1="480.50" x2="377.22" y2="481.50" stroke="#555" stroke-width="0.5"/>
<line x1="379.78" y1="480.50" x2="379.78" y2="481.50" stroke="#555" stroke-width="0.5"/>
<line x1="382.35" y1="480.50" x2="382.35" y2="481.50" stroke="#555" stroke-width="0.5"/>
<line x1="384.92" y1="480.50" x2="384.92" y2="482.30" stroke="#333" stroke-width="0.7"/>
<text x="387.12" y="483.40" font-size="6.4" text-anchor="end" fill="#222" transform="rotate(-90 387.12 483.40)">150K</text>
<line x1="387.49" y1="480.50" x2="387.49" y2="481.50" stroke="#555" stroke-width="0.5"/>
<line x1="390.06" y1="480.50" x2="390.06" y2="481.50" stroke="#555" stroke-width="0.5"/>
<line x1="392.62" y1="480.50" x2="392.62" y2="481.50" stroke="#555" stroke-width="0.5"/>
<line x1="395.19" y1="480.50" x2="395.19" y2="481.50" stroke="#555" stroke-width="0.5"/>
<line x1="397.76" y1="480.50" x2="397.76" y2="482.30" stroke="#333" stroke-width="0.7"/>
<text x="399.96" y="483.40" font-size="6.4" text-anchor="end" fill="#222" transform="rotate(-90 399.96 483.40)">200K</text>
<line x1="400.33" y1="480.50" x2="400.33" y2="481.50" stroke="#555" stroke-width="0.5"/>
<line x1="402.90" y1="480.50" x2="402.90" y2="481.50" stroke="#555" stroke-width="0.5"/>
<line x1="405.46" y1="480.50" x2="405.46" y2="481.50" stroke="#555" stroke-width="0.5"/>
<line x1="408.03" y1="480.50" x2="408.03" y2="481.50" stroke="#555" stroke-width="0.5"/>
<line x1="410.60" y1="480.50" x2="410.60" y2="482.30" stroke="#333" stroke-width="0.7"/>
<text x="412.80" y="483.40" font-size="6.4" text-anchor="end" fill="#222" transform="rotate(-90 412.80 483.40)">250K</text>
<rect x="437.50" y="414.50" width="67.00" height="66.00" fill="none" stroke="#8a8a8a" stroke-width="0.6"/>
<line x1="435.70" y1="420.20" x2="437.50" y2="420.20" stroke="#333" stroke-width="0.7"/>
<text x="434.60" y="422.20" font-size="6.0" text-anchor="end" fill="#222">10<tspan dy="-2.52" font-size="4.08">5</tspan></text>
<line x1="435.70" y1="436.00" x2="437.50" y2="436.00" stroke="#333" stroke-width="0.7"/>
<text x="434.60" y="438.00" font-size="6.0" text-anchor="end" fill="#222">10<tspan dy="-2.52" font-size="4.08">4</tspan></text>
<line x1="435.70" y1="453.60" x2="437.50" y2="453.60" stroke="#333" stroke-width="0.7"/>
<text x="434.60" y="455.60" font-size="6.0" text-anchor="end" fill="#222">10<tspan dy="-2.52" font-size="4.08">3</tspan></text>
<line x1="435.70" y1="465.70" x2="437.50" y2="465.70" stroke="#333" stroke-width="0.7"/>
<text x="434.60" y="467.70" font-size="6.0" text-anchor="end" fill="#222">0</text>
<line x1="435.70" y1="475.60" x2="437.50" y2="475.60" stroke="#333" stroke-width="0.7"/>
<text x="434.60" y="477.60" font-size="6.0" text-anchor="end" fill="#222">−10<tspan dy="-2.52" font-size="4.08">3</tspan></text>
<line x1="436.50" y1="448.84" x2="437.50" y2="448.84" stroke="#555" stroke-width="0.5"/>
<line x1="436.50" y1="446.06" x2="437.50" y2="446.06" stroke="#555" stroke-width="0.5"/>
<line x1="436.50" y1="444.09" x2="437.50" y2="444.09" stroke="#555" stroke-width="0.5"/>
<line x1="436.50" y1="442.56" x2="437.50" y2="442.56" stroke="#555" stroke-width="0.5"/>
<line x1="436.50" y1="441.31" x2="437.50" y2="441.31" stroke="#555" stroke-width="0.5"/>
<line x1="436.50" y1="440.25" x2="437.50" y2="440.25" stroke="#555" stroke-width="0.5"/>
<line x1="436.50" y1="439.33" x2="437.50" y2="439.33" stroke="#555" stroke-width="0.5"/>
<line x1="436.50" y1="438.52" x2="437.50" y2="438.52" stroke="#555" stroke-width="0.5"/>
<line x1="436.50" y1="431.24" x2="437.50" y2="431.24" stroke="#555" stroke-width="0.5"/>
<line x1="436.50" y1="428.46" x2="437.50" y2="428.46" stroke="#555" stroke-width="0.5"/>
<line x1="436.50" y1="426.49" x2="437.50" y2="426.49" stroke="#555" stroke-width="0.5"/>
<line x1="436.50" y1="424.96" x2="437.50" y2="424.96" stroke="#555" stroke-width="0.5"/>
<line x1="436.50" y1="423.71" x2="437.50" y2="423.71" stroke="#555" stroke-width="0.5"/>
<line x1="436.50" y1="422.65" x2="437.50" y2="422.65" stroke="#555" stroke-width="0.5"/>
<line x1="436.50" y1="421.73" x2="437.50" y2="421.73" stroke="#555" stroke-width="0.5"/>
<line x1="436.50" y1="420.92" x2="437.50" y2="420.92" stroke="#555" stroke-width="0.5"/>
<line x1="436.50" y1="415.44" x2="437.50" y2="415.44" stroke="#555" stroke-width="0.5"/>
<line x1="439.20" y1="480.50" x2="439.20" y2="482.30" stroke="#333" stroke-width="0.7"/>
<text x="441.40" y="483.40" font-size="6.4" text-anchor="end" fill="#222" transform="rotate(-90 441.40 483.40)">0</text>
<line x1="441.74" y1="480.50" x2="441.74" y2="481.50" stroke="#555" stroke-width="0.5"/>
<line x1="444.29" y1="480.50" x2="444.29" y2="481.50" stroke="#555" stroke-width="0.5"/>
<line x1="446.83" y1="480.50" x2="446.83" y2="481.50" stroke="#555" stroke-width="0.5"/>
<line x1="449.38" y1="480.50" x2="449.38" y2="481.50" stroke="#555" stroke-width="0.5"/>
<line x1="451.92" y1="480.50" x2="451.92" y2="482.30" stroke="#333" stroke-width="0.7"/>
<text x="454.12" y="483.40" font-size="6.4" text-anchor="end" fill="#222" transform="rotate(-90 454.12 483.40)">50K</text>
<line x1="454.46" y1="480.50" x2="454.46" y2="481.50" stroke="#555" stroke-width="0.5"/>
<line x1="457.01" y1="480.50" x2="457.01" y2="481.50" stroke="#555" stroke-width="0.5"/>
<line x1="459.55" y1="480.50" x2="459.55" y2="481.50" stroke="#555" stroke-width="0.5"/>
<line x1="462.10" y1="480.50" x2="462.10" y2="481.50" stroke="#555" stroke-width="0.5"/>
<line x1="464.64" y1="480.50" x2="464.64" y2="482.30" stroke="#333" stroke-width="0.7"/>
<text x="466.84" y="483.40" font-size="6.4" text-anchor="end" fill="#222" transform="rotate(-90 466.84 483.40)">100K</text>
<line x1="467.18" y1="480.50" x2="467.18" y2="481.50" stroke="#555" stroke-width="0.5"/>
<line x1="469.73" y1="480.50" x2="469.73" y2="481.50" stroke="#555" stroke-width="0.5"/>
<line x1="472.27" y1="480.50" x2="472.27" y2="481.50" stroke="#555" stroke-width="0.5"/>
<line x1="474.82" y1="480.50" x2="474.82" y2="481.50" stroke="#555" stroke-width="0.5"/>
<line x1="477.36" y1="480.50" x2="477.36" y2="482.30" stroke="#333" stroke-width="0.7"/>
<text x="479.56" y="483.40" font-size="6.4" text-anchor="end" fill="#222" transform="rotate(-90 479.56 483.40)">150K</text>
<line x1="479.90" y1="480.50" x2="479.90" y2="481.50" stroke="#555" stroke-width="0.5"/>
<line x1="482.45" y1="480.50" x2="482.45" y2="481.50" stroke="#555" stroke-width="0.5"/>
<line x1="484.99" y1="480.50" x2="484.99" y2="481.50" stroke="#555" stroke-width="0.5"/>
<line x1="487.54" y1="480.50" x2="487.54" y2="481.50" stroke="#555" stroke-width="0.5"/>
<line x1="490.08" y1="480.50" x2="490.08" y2="482.30" stroke="#333" stroke-width="0.7"/>
<text x="492.28" y="483.40" font-size="6.4" text-anchor="end" fill="#222" transform="rotate(-90 492.28 483.40)">200K</text>
<line x1="492.62" y1="480.50" x2="492.62" y2="481.50" stroke="#555" stroke-width="0.5"/>
<line x1="495.17" y1="480.50" x2="495.17" y2="481.50" stroke="#555" stroke-width="0.5"/>
<line x1="497.71" y1="480.50" x2="497.71" y2="481.50" stroke="#555" stroke-width="0.5"/>
<line x1="500.26" y1="480.50" x2="500.26" y2="481.50" stroke="#555" stroke-width="0.5"/>
<line x1="502.80" y1="480.50" x2="502.80" y2="482.30" stroke="#333" stroke-width="0.7"/>
<text x="505.00" y="483.40" font-size="6.4" text-anchor="end" fill="#222" transform="rotate(-90 505.00 483.40)">250K</text>
<rect x="345.50" y="523.50" width="67.00" height="67.00" fill="none" stroke="#8a8a8a" stroke-width="0.6"/>
<line x1="343.70" y1="530.00" x2="345.50" y2="530.00" stroke="#333" stroke-width="0.7"/>
<text x="342.20" y="532.00" font-size="6.0" text-anchor="end" fill="#222">10<tspan dy="-2.52" font-size="4.08">5</tspan></text>
<line x1="343.70" y1="545.80" x2="345.50" y2="545.80" stroke="#333" stroke-width="0.7"/>
<text x="342.20" y="547.80" font-size="6.0" text-anchor="end" fill="#222">10<tspan dy="-2.52" font-size="4.08">4</tspan></text>
<line x1="343.70" y1="563.40" x2="345.50" y2="563.40" stroke="#333" stroke-width="0.7"/>
<text x="342.20" y="565.40" font-size="6.0" text-anchor="end" fill="#222">10<tspan dy="-2.52" font-size="4.08">3</tspan></text>
<line x1="343.70" y1="575.50" x2="345.50" y2="575.50" stroke="#333" stroke-width="0.7"/>
<text x="342.20" y="577.50" font-size="6.0" text-anchor="end" fill="#222">0</text>
<line x1="343.70" y1="585.40" x2="345.50" y2="585.40" stroke="#333" stroke-width="0.7"/>
<text x="342.20" y="587.40" font-size="6.0" text-anchor="end" fill="#222">−10<tspan dy="-2.52" font-size="4.08">3</tspan></text>
<line x1="344.50" y1="558.64" x2="345.50" y2="558.64" stroke="#555" stroke-width="0.5"/>
<line x1="344.50" y1="555.86" x2="345.50" y2="555.86" stroke="#555" stroke-width="0.5"/>
<line x1="344.50" y1="553.89" x2="345.50" y2="553.89" stroke="#555" stroke-width="0.5"/>
<line x1="344.50" y1="552.36" x2="345.50" y2="552.36" stroke="#555" stroke-width="0.5"/>
<line x1="344.50" y1="551.11" x2="345.50" y2="551.11" stroke="#555" stroke-width="0.5"/>
<line x1="344.50" y1="550.05" x2="345.50" y2="550.05" stroke="#555" stroke-width="0.5"/>
<line x1="344.50" y1="549.13" x2="345.50" y2="549.13" stroke="#555" stroke-width="0.5"/>
<line x1="344.50" y1="548.32" x2="345.50" y2="548.32" stroke="#555" stroke-width="0.5"/>
<line x1="344.50" y1="541.04" x2="345.50" y2="541.04" stroke="#555" stroke-width="0.5"/>
<line x1="344.50" y1="538.26" x2="345.50" y2="538.26" stroke="#555" stroke-width="0.5"/>
<line x1="344.50" y1="536.29" x2="345.50" y2="536.29" stroke="#555" stroke-width="0.5"/>
<line x1="344.50" y1="534.76" x2="345.50" y2="534.76" stroke="#555" stroke-width="0.5"/>
<line x1="344.50" y1="533.51" x2="345.50" y2="533.51" stroke="#555" stroke-width="0.5"/>
<line x1="344.50" y1="532.45" x2="345.50" y2="532.45" stroke="#555" stroke-width="0.5"/>
<line x1="344.50" y1="531.53" x2="345.50" y2="531.53" stroke="#555" stroke-width="0.5"/>
<line x1="344.50" y1="530.72" x2="345.50" y2="530.72" stroke="#555" stroke-width="0.5"/>
<line x1="344.50" y1="525.24" x2="345.50" y2="525.24" stroke="#555" stroke-width="0.5"/>
<line x1="346.80" y1="590.50" x2="346.80" y2="592.30" stroke="#333" stroke-width="0.7"/>
<text x="349.00" y="593.60" font-size="6.4" text-anchor="end" fill="#222" transform="rotate(-90 349.00 593.60)">0</text>
<line x1="349.37" y1="590.50" x2="349.37" y2="591.50" stroke="#555" stroke-width="0.5"/>
<line x1="351.94" y1="590.50" x2="351.94" y2="591.50" stroke="#555" stroke-width="0.5"/>
<line x1="354.50" y1="590.50" x2="354.50" y2="591.50" stroke="#555" stroke-width="0.5"/>
<line x1="357.07" y1="590.50" x2="357.07" y2="591.50" stroke="#555" stroke-width="0.5"/>
<line x1="359.64" y1="590.50" x2="359.64" y2="592.30" stroke="#333" stroke-width="0.7"/>
<text x="361.84" y="593.60" font-size="6.4" text-anchor="end" fill="#222" transform="rotate(-90 361.84 593.60)">50K</text>
<line x1="362.21" y1="590.50" x2="362.21" y2="591.50" stroke="#555" stroke-width="0.5"/>
<line x1="364.78" y1="590.50" x2="364.78" y2="591.50" stroke="#555" stroke-width="0.5"/>
<line x1="367.34" y1="590.50" x2="367.34" y2="591.50" stroke="#555" stroke-width="0.5"/>
<line x1="369.91" y1="590.50" x2="369.91" y2="591.50" stroke="#555" stroke-width="0.5"/>
<line x1="372.48" y1="590.50" x2="372.48" y2="592.30" stroke="#333" stroke-width="0.7"/>
<text x="374.68" y="593.60" font-size="6.4" text-anchor="end" fill="#222" transform="rotate(-90 374.68 593.60)">100K</text>
<line x1="375.05" y1="590.50" x2="375.05" y2="591.50" stroke="#555" stroke-width="0.5"/>
<line x1="377.62" y1="590.50" x2="377.62" y2="591.50" stroke="#555" stroke-width="0.5"/>
<line x1="380.18" y1="590.50" x2="380.18" y2="591.50" stroke="#555" stroke-width="0.5"/>
<line x1="382.75" y1="590.50" x2="382.75" y2="591.50" stroke="#555" stroke-width="0.5"/>
<line x1="385.32" y1="590.50" x2="385.32" y2="592.30" stroke="#333" stroke-width="0.7"/>
<text x="387.52" y="593.60" font-size="6.4" text-anchor="end" fill="#222" transform="rotate(-90 387.52 593.60)">150K</text>
<line x1="387.89" y1="590.50" x2="387.89" y2="591.50" stroke="#555" stroke-width="0.5"/>
<line x1="390.46" y1="590.50" x2="390.46" y2="591.50" stroke="#555" stroke-width="0.5"/>
<line x1="393.02" y1="590.50" x2="393.02" y2="591.50" stroke="#555" stroke-width="0.5"/>
<line x1="395.59" y1="590.50" x2="395.59" y2="591.50" stroke="#555" stroke-width="0.5"/>
<line x1="398.16" y1="590.50" x2="398.16" y2="592.30" stroke="#333" stroke-width="0.7"/>
<text x="400.36" y="593.60" font-size="6.4" text-anchor="end" fill="#222" transform="rotate(-90 400.36 593.60)">200K</text>
<line x1="400.73" y1="590.50" x2="400.73" y2="591.50" stroke="#555" stroke-width="0.5"/>
<line x1="403.30" y1="590.50" x2="403.30" y2="591.50" stroke="#555" stroke-width="0.5"/>
<line x1="405.86" y1="590.50" x2="405.86" y2="591.50" stroke="#555" stroke-width="0.5"/>
<line x1="408.43" y1="590.50" x2="408.43" y2="591.50" stroke="#555" stroke-width="0.5"/>
<line x1="411.00" y1="590.50" x2="411.00" y2="592.30" stroke="#333" stroke-width="0.7"/>
<text x="413.20" y="593.60" font-size="6.4" text-anchor="end" fill="#222" transform="rotate(-90 413.20 593.60)">250K</text>
<rect x="438.50" y="523.50" width="67.00" height="67.00" fill="none" stroke="#8a8a8a" stroke-width="0.6"/>
<line x1="436.70" y1="530.00" x2="438.50" y2="530.00" stroke="#333" stroke-width="0.7"/>
<text x="435.00" y="532.00" font-size="6.0" text-anchor="end" fill="#222">10<tspan dy="-2.52" font-size="4.08">5</tspan></text>
<line x1="436.70" y1="545.80" x2="438.50" y2="545.80" stroke="#333" stroke-width="0.7"/>
<text x="435.00" y="547.80" font-size="6.0" text-anchor="end" fill="#222">10<tspan dy="-2.52" font-size="4.08">4</tspan></text>
<line x1="436.70" y1="563.40" x2="438.50" y2="563.40" stroke="#333" stroke-width="0.7"/>
<text x="435.00" y="565.40" font-size="6.0" text-anchor="end" fill="#222">10<tspan dy="-2.52" font-size="4.08">3</tspan></text>
<line x1="436.70" y1="575.50" x2="438.50" y2="575.50" stroke="#333" stroke-width="0.7"/>
<text x="435.00" y="577.50" font-size="6.0" text-anchor="end" fill="#222">0</text>
<line x1="436.70" y1="585.40" x2="438.50" y2="585.40" stroke="#333" stroke-width="0.7"/>
<text x="435.00" y="587.40" font-size="6.0" text-anchor="end" fill="#222">−10<tspan dy="-2.52" font-size="4.08">3</tspan></text>
<line x1="437.50" y1="558.64" x2="438.50" y2="558.64" stroke="#555" stroke-width="0.5"/>
<line x1="437.50" y1="555.86" x2="438.50" y2="555.86" stroke="#555" stroke-width="0.5"/>
<line x1="437.50" y1="553.89" x2="438.50" y2="553.89" stroke="#555" stroke-width="0.5"/>
<line x1="437.50" y1="552.36" x2="438.50" y2="552.36" stroke="#555" stroke-width="0.5"/>
<line x1="437.50" y1="551.11" x2="438.50" y2="551.11" stroke="#555" stroke-width="0.5"/>
<line x1="437.50" y1="550.05" x2="438.50" y2="550.05" stroke="#555" stroke-width="0.5"/>
<line x1="437.50" y1="549.13" x2="438.50" y2="549.13" stroke="#555" stroke-width="0.5"/>
<line x1="437.50" y1="548.32" x2="438.50" y2="548.32" stroke="#555" stroke-width="0.5"/>
<line x1="437.50" y1="541.04" x2="438.50" y2="541.04" stroke="#555" stroke-width="0.5"/>
<line x1="437.50" y1="538.26" x2="438.50" y2="538.26" stroke="#555" stroke-width="0.5"/>
<line x1="437.50" y1="536.29" x2="438.50" y2="536.29" stroke="#555" stroke-width="0.5"/>
<line x1="437.50" y1="534.76" x2="438.50" y2="534.76" stroke="#555" stroke-width="0.5"/>
<line x1="437.50" y1="533.51" x2="438.50" y2="533.51" stroke="#555" stroke-width="0.5"/>
<line x1="437.50" y1="532.45" x2="438.50" y2="532.45" stroke="#555" stroke-width="0.5"/>
<line x1="437.50" y1="531.53" x2="438.50" y2="531.53" stroke="#555" stroke-width="0.5"/>
<line x1="437.50" y1="530.72" x2="438.50" y2="530.72" stroke="#555" stroke-width="0.5"/>
<line x1="437.50" y1="525.24" x2="438.50" y2="525.24" stroke="#555" stroke-width="0.5"/>
<line x1="439.60" y1="590.50" x2="439.60" y2="592.30" stroke="#333" stroke-width="0.7"/>
<text x="441.80" y="593.60" font-size="6.4" text-anchor="end" fill="#222" transform="rotate(-90 441.80 593.60)">0</text>
<line x1="442.15" y1="590.50" x2="442.15" y2="591.50" stroke="#555" stroke-width="0.5"/>
<line x1="444.70" y1="590.50" x2="444.70" y2="591.50" stroke="#555" stroke-width="0.5"/>
<line x1="447.26" y1="590.50" x2="447.26" y2="591.50" stroke="#555" stroke-width="0.5"/>
<line x1="449.81" y1="590.50" x2="449.81" y2="591.50" stroke="#555" stroke-width="0.5"/>
<line x1="452.36" y1="590.50" x2="452.36" y2="592.30" stroke="#333" stroke-width="0.7"/>
<text x="454.56" y="593.60" font-size="6.4" text-anchor="end" fill="#222" transform="rotate(-90 454.56 593.60)">50K</text>
<line x1="454.91" y1="590.50" x2="454.91" y2="591.50" stroke="#555" stroke-width="0.5"/>
<line x1="457.46" y1="590.50" x2="457.46" y2="591.50" stroke="#555" stroke-width="0.5"/>
<line x1="460.02" y1="590.50" x2="460.02" y2="591.50" stroke="#555" stroke-width="0.5"/>
<line x1="462.57" y1="590.50" x2="462.57" y2="591.50" stroke="#555" stroke-width="0.5"/>
<line x1="465.12" y1="590.50" x2="465.12" y2="592.30" stroke="#333" stroke-width="0.7"/>
<text x="467.32" y="593.60" font-size="6.4" text-anchor="end" fill="#222" transform="rotate(-90 467.32 593.60)">100K</text>
<line x1="467.67" y1="590.50" x2="467.67" y2="591.50" stroke="#555" stroke-width="0.5"/>
<line x1="470.22" y1="590.50" x2="470.22" y2="591.50" stroke="#555" stroke-width="0.5"/>
<line x1="472.78" y1="590.50" x2="472.78" y2="591.50" stroke="#555" stroke-width="0.5"/>
<line x1="475.33" y1="590.50" x2="475.33" y2="591.50" stroke="#555" stroke-width="0.5"/>
<line x1="477.88" y1="590.50" x2="477.88" y2="592.30" stroke="#333" stroke-width="0.7"/>
<text x="480.08" y="593.60" font-size="6.4" text-anchor="end" fill="#222" transform="rotate(-90 480.08 593.60)">150K</text>
<line x1="480.43" y1="590.50" x2="480.43" y2="591.50" stroke="#555" stroke-width="0.5"/>
<line x1="482.98" y1="590.50" x2="482.98" y2="591.50" stroke="#555" stroke-width="0.5"/>
<line x1="485.54" y1="590.50" x2="485.54" y2="591.50" stroke="#555" stroke-width="0.5"/>
<line x1="488.09" y1="590.50" x2="488.09" y2="591.50" stroke="#555" stroke-width="0.5"/>
<line x1="490.64" y1="590.50" x2="490.64" y2="592.30" stroke="#333" stroke-width="0.7"/>
<text x="492.84" y="593.60" font-size="6.4" text-anchor="end" fill="#222" transform="rotate(-90 492.84 593.60)">200K</text>
<line x1="493.19" y1="590.50" x2="493.19" y2="591.50" stroke="#555" stroke-width="0.5"/>
<line x1="495.74" y1="590.50" x2="495.74" y2="591.50" stroke="#555" stroke-width="0.5"/>
<line x1="498.30" y1="590.50" x2="498.30" y2="591.50" stroke="#555" stroke-width="0.5"/>
<line x1="500.85" y1="590.50" x2="500.85" y2="591.50" stroke="#555" stroke-width="0.5"/>
<line x1="503.40" y1="590.50" x2="503.40" y2="592.30" stroke="#333" stroke-width="0.7"/>
<text x="505.60" y="593.60" font-size="6.4" text-anchor="end" fill="#222" transform="rotate(-90 505.60 593.60)">250K</text>
<path d="M345.0,430.8 L378.8,430.8 L378.8,449.5 L345.0,449.5" fill="none" stroke="#555" stroke-width="0.55"/>
<text x="384.20" y="439.55" font-size="3.8" text-anchor="middle" fill="#444">tox</text>
<text x="384.20" y="444.15" font-size="3.8" text-anchor="middle" fill="#444">0.77</text>
<path d="M437.8,430.4 L471.8,430.4 L471.8,449.6 L437.8,449.6" fill="none" stroke="#555" stroke-width="0.55"/>
<text x="478.40" y="439.40" font-size="3.8" text-anchor="middle" fill="#444">tox</text>
<text x="478.40" y="444.00" font-size="3.8" text-anchor="middle" fill="#444">48.8</text>
<path d="M345.4,527.8 L387.2,527.8 L387.2,558.4 L345.4,558.4" fill="none" stroke="#555" stroke-width="0.55"/>
<text x="395.80" y="542.50" font-size="3.8" text-anchor="middle" fill="#444">cMAF</text>
<text x="395.80" y="547.10" font-size="3.8" text-anchor="middle" fill="#444">0.64</text>
<path d="M438.2,527.6 L480.6,527.6 L480.6,558.3 L438.2,558.3" fill="none" stroke="#555" stroke-width="0.55"/>
<text x="487.20" y="542.35" font-size="3.8" text-anchor="middle" fill="#444">cMAF</text>
<text x="487.20" y="546.95" font-size="3.8" text-anchor="middle" fill="#444">9.68</text>
<ellipse cx="344.80" cy="465.80" rx="0.65" ry="0.80" fill="#111"/>
<ellipse cx="437.60" cy="465.80" rx="0.65" ry="0.80" fill="#111"/>
<ellipse cx="345.20" cy="575.60" rx="0.65" ry="0.80" fill="#111"/>
<ellipse cx="438.00" cy="575.40" rx="0.65" ry="0.80" fill="#111"/>
<path d="M324.6,465.2 L324.6,504.7 L460.2,504.7" fill="none" stroke="#4a4a4a" stroke-width="1.25"/>
<path d="M324.6,460.2 L321.5,467.4 L324.6,465.8 L327.70000000000005,467.4 Z" fill="#111"/>
<path d="M465.2,504.7 L458.0,501.59999999999997 L459.59999999999997,504.7 L458.0,507.8 Z" fill="#111"/>
<path d="M324.6,581.1 L324.6,616.0 L461.2,616.0" fill="none" stroke="#4a4a4a" stroke-width="1.25"/>
<path d="M324.6,576.1 L321.5,583.3000000000001 L324.6,581.7 L327.70000000000005,583.3000000000001 Z" fill="#111"/>
<path d="M466.2,616.0 L459.0,612.9 L460.59999999999997,616.0 L459.0,619.1 Z" fill="#111"/>
<text x="327.30" y="451.70" font-size="8.2" text-anchor="middle" fill="#222" font-weight="bold" transform="rotate(-90 327.30 451.70)" textLength="9.80" lengthAdjust="spacingAndGlyphs">TOX</text>
<text x="327.20" y="564.85" font-size="8.2" text-anchor="middle" fill="#222" font-weight="bold" transform="rotate(-90 327.20 564.85)" textLength="15.70" lengthAdjust="spacingAndGlyphs">C-Maf</text>
<text x="468.80" y="507.40" font-size="8.2" text-anchor="start" fill="#222" font-weight="bold" textLength="10.10" lengthAdjust="spacingAndGlyphs">SSC</text>
<text x="469.80" y="618.90" font-size="8.2" text-anchor="start" fill="#222" font-weight="bold" textLength="9.80" lengthAdjust="spacingAndGlyphs">SSC</text>
<path d="M43.80,541.50 L44.80,541.24 L45.80,540.99 L46.80,540.73 L47.80,540.27 L48.80,540.18 L49.80,540.00 L50.80,539.70 L51.93,538.57 L53.07,538.17 L54.20,537.40 L55.37,535.88 L56.53,533.59 L57.70,531.60 L58.87,528.15 L60.03,524.93 L61.20,521.20 L62.35,516.56 L63.50,512.00 L64.63,508.73 L65.77,506.17 L66.90,502.80 L68.05,499.00 L69.20,495.80 L70.15,494.10 L71.10,491.70 L72.70,495.80 L73.85,500.75 L75.00,505.00 L76.15,509.69 L77.30,514.30 L78.45,518.91 L79.60,523.50 L80.60,526.21 L81.60,529.41 L82.60,532.80 L83.53,534.95 L84.47,536.81 L85.40,538.50 L86.53,539.61 L87.67,540.17 L88.80,541.50 Z" fill="#86a6c6" stroke="#1e4a6e" stroke-width="0.95" stroke-linejoin="round"/>
<path d="M39.20,541.50 L40.13,541.43 L41.06,541.36 L41.99,541.29 L42.92,541.22 L43.85,541.15 L44.78,541.08 L45.71,541.01 L46.64,540.94 L47.57,540.87 L48.50,540.80 L49.49,540.96 L50.47,540.24 L51.46,540.40 L52.44,539.66 L53.43,539.64 L54.41,539.22 L55.40,539.20 L56.37,538.94 L57.33,538.22 L58.30,538.23 L59.27,537.83 L60.23,537.29 L61.20,537.40 L62.33,536.52 L63.47,535.44 L64.60,533.90 L65.52,532.67 L66.44,532.18 L67.36,531.17 L68.28,530.15 L69.20,529.30 L70.12,528.00 L71.04,526.69 L71.96,524.96 L72.88,523.66 L73.80,522.40 L74.97,519.71 L76.13,517.44 L77.30,514.30 L78.45,510.04 L79.60,505.00 L80.75,503.55 L81.90,501.60 L83.50,503.90 L84.45,502.71 L85.40,501.60 L86.55,503.12 L87.70,503.90 L88.87,506.26 L90.03,508.11 L91.20,509.70 L92.33,511.36 L93.47,513.49 L94.60,515.50 L95.77,518.32 L96.93,521.59 L98.10,524.70 L99.02,526.40 L99.94,527.46 L100.86,528.69 L101.78,529.92 L102.70,531.60 L103.62,532.44 L104.54,534.21 L105.46,535.49 L106.38,536.59 L107.30,537.40 L108.22,537.63 L109.14,538.55 L110.06,539.12 L110.98,540.09 L111.90,540.80 L113.07,541.03 L114.23,541.27 L115.40,541.50" fill="none" stroke="#b52a58" stroke-width="1.0" stroke-linejoin="round"/>
<rect x="28.50" y="476.50" width="130.00" height="65.00" fill="none" stroke="#1a1a1a" stroke-width="1.0"/>
<line x1="25.90" y1="541.50" x2="28.50" y2="541.50" stroke="#222" stroke-width="0.75"/>
<line x1="26.90" y1="538.79" x2="28.50" y2="538.79" stroke="#222" stroke-width="0.75"/>
<line x1="26.90" y1="536.08" x2="28.50" y2="536.08" stroke="#222" stroke-width="0.75"/>
<line x1="26.90" y1="533.38" x2="28.50" y2="533.38" stroke="#222" stroke-width="0.75"/>
<line x1="25.90" y1="530.67" x2="28.50" y2="530.67" stroke="#222" stroke-width="0.75"/>
<line x1="26.90" y1="527.96" x2="28.50" y2="527.96" stroke="#222" stroke-width="0.75"/>
<line x1="26.90" y1="525.25" x2="28.50" y2="525.25" stroke="#222" stroke-width="0.75"/>
<line x1="26.90" y1="522.54" x2="28.50" y2="522.54" stroke="#222" stroke-width="0.75"/>
<line x1="25.90" y1="519.83" x2="28.50" y2="519.83" stroke="#222" stroke-width="0.75"/>
<line x1="26.90" y1="517.12" x2="28.50" y2="517.12" stroke="#222" stroke-width="0.75"/>
<line x1="26.90" y1="514.42" x2="28.50" y2="514.42" stroke="#222" stroke-width="0.75"/>
<line x1="26.90" y1="511.71" x2="28.50" y2="511.71" stroke="#222" stroke-width="0.75"/>
<line x1="25.90" y1="509.00" x2="28.50" y2="509.00" stroke="#222" stroke-width="0.75"/>
<line x1="26.90" y1="506.29" x2="28.50" y2="506.29" stroke="#222" stroke-width="0.75"/>
<line x1="26.90" y1="503.58" x2="28.50" y2="503.58" stroke="#222" stroke-width="0.75"/>
<line x1="26.90" y1="500.88" x2="28.50" y2="500.88" stroke="#222" stroke-width="0.75"/>
<line x1="25.90" y1="498.17" x2="28.50" y2="498.17" stroke="#222" stroke-width="0.75"/>
<line x1="26.90" y1="495.46" x2="28.50" y2="495.46" stroke="#222" stroke-width="0.75"/>
<line x1="26.90" y1="492.75" x2="28.50" y2="492.75" stroke="#222" stroke-width="0.75"/>
<line x1="26.90" y1="490.04" x2="28.50" y2="490.04" stroke="#222" stroke-width="0.75"/>
<line x1="25.90" y1="487.33" x2="28.50" y2="487.33" stroke="#222" stroke-width="0.75"/>
<line x1="26.90" y1="484.62" x2="28.50" y2="484.62" stroke="#222" stroke-width="0.75"/>
<line x1="26.90" y1="481.92" x2="28.50" y2="481.92" stroke="#222" stroke-width="0.75"/>
<line x1="26.90" y1="479.21" x2="28.50" y2="479.21" stroke="#222" stroke-width="0.75"/>
<line x1="25.90" y1="476.50" x2="28.50" y2="476.50" stroke="#222" stroke-width="0.75"/>
<line x1="28.76" y1="541.50" x2="28.76" y2="543.00" stroke="#222" stroke-width="0.7"/>
<line x1="39.15" y1="541.50" x2="39.15" y2="543.00" stroke="#222" stroke-width="0.7"/>
<line x1="46.52" y1="541.50" x2="46.52" y2="543.00" stroke="#222" stroke-width="0.7"/>
<line x1="52.24" y1="541.50" x2="52.24" y2="543.00" stroke="#222" stroke-width="0.7"/>
<line x1="56.91" y1="541.50" x2="56.91" y2="543.00" stroke="#222" stroke-width="0.7"/>
<line x1="60.86" y1="541.50" x2="60.86" y2="543.00" stroke="#222" stroke-width="0.7"/>
<line x1="64.28" y1="541.50" x2="64.28" y2="543.00" stroke="#222" stroke-width="0.7"/>
<line x1="67.30" y1="541.50" x2="67.30" y2="543.00" stroke="#222" stroke-width="0.7"/>
<line x1="70.00" y1="541.50" x2="70.00" y2="544.10" stroke="#222" stroke-width="0.7"/>
<line x1="87.76" y1="541.50" x2="87.76" y2="543.00" stroke="#222" stroke-width="0.7"/>
<line x1="98.15" y1="541.50" x2="98.15" y2="543.00" stroke="#222" stroke-width="0.7"/>
<line x1="105.52" y1="541.50" x2="105.52" y2="543.00" stroke="#222" stroke-width="0.7"/>
<line x1="111.24" y1="541.50" x2="111.24" y2="543.00" stroke="#222" stroke-width="0.7"/>
<line x1="115.91" y1="541.50" x2="115.91" y2="543.00" stroke="#222" stroke-width="0.7"/>
<line x1="119.86" y1="541.50" x2="119.86" y2="543.00" stroke="#222" stroke-width="0.7"/>
<line x1="123.28" y1="541.50" x2="123.28" y2="543.00" stroke="#222" stroke-width="0.7"/>
<line x1="126.30" y1="541.50" x2="126.30" y2="543.00" stroke="#222" stroke-width="0.7"/>
<line x1="129.00" y1="541.50" x2="129.00" y2="544.10" stroke="#222" stroke-width="0.7"/>
<line x1="146.76" y1="541.50" x2="146.76" y2="543.00" stroke="#222" stroke-width="0.7"/>
<line x1="157.15" y1="541.50" x2="157.15" y2="543.00" stroke="#222" stroke-width="0.7"/>
<text x="20.20" y="509.00" font-size="6.4" text-anchor="middle" fill="#222" transform="rotate(-90 20.20 509.00)">TOX</text>
<path d="M54.20,637.70 L55.17,637.12 L56.13,636.83 L57.10,635.69 L58.07,635.76 L59.03,634.78 L60.00,634.20 L60.92,632.51 L61.84,631.11 L62.76,629.10 L63.68,627.52 L64.60,626.20 L65.75,620.33 L66.90,614.60 L68.05,609.76 L69.20,605.40 L70.15,599.75 L71.10,593.80 L72.25,593.17 L73.40,592.70 L75.00,590.40 L76.80,589.20 L78.50,593.80 L79.65,596.05 L80.80,598.50 L82.60,605.40 L84.20,614.60 L85.35,620.20 L86.50,626.20 L87.50,628.62 L88.50,631.73 L89.50,634.20 L90.43,635.73 L91.37,636.40 L92.30,637.70 Z" fill="#86a6c6" stroke="#1e4a6e" stroke-width="0.95" stroke-linejoin="round"/>
<path d="M39.20,637.70 L40.20,637.53 L41.20,637.36 L42.20,637.19 L43.20,637.01 L44.20,636.83 L45.20,636.82 L46.20,636.50 L47.15,635.96 L48.10,635.38 L49.05,634.91 L50.00,634.13 L50.95,632.95 L51.90,632.60 L52.82,631.99 L53.74,631.84 L54.66,631.42 L55.58,631.58 L56.50,630.80 L57.67,628.67 L58.83,626.10 L60.00,623.80 L61.17,620.60 L62.33,617.42 L63.50,614.60 L64.65,612.39 L65.80,610.00 L66.95,609.23 L68.10,607.70 L69.25,605.05 L70.40,603.00 L71.53,602.59 L72.67,602.13 L73.80,601.90 L75.00,601.45 L76.20,600.80 L77.35,601.68 L78.50,603.00 L79.65,601.51 L80.80,600.80 L81.95,603.26 L83.10,605.40 L84.25,607.53 L85.40,610.00 L86.55,612.43 L87.70,614.60 L88.85,619.02 L90.00,622.70 L91.17,625.47 L92.33,628.47 L93.50,630.80 L94.42,631.99 L95.34,632.25 L96.26,633.33 L97.18,634.63 L98.10,635.40 L99.05,635.68 L100.00,635.55 L100.95,636.59 L101.90,636.73 L102.85,636.90 L103.80,637.20 L104.80,637.27 L105.80,637.34 L106.80,637.41 L107.80,637.49 L108.80,637.56 L109.80,637.63 L110.80,637.70" fill="none" stroke="#b52a58" stroke-width="1.0" stroke-linejoin="round"/>
<rect x="28.50" y="573.50" width="130.00" height="65.00" fill="none" stroke="#1a1a1a" stroke-width="1.0"/>
<line x1="25.90" y1="638.50" x2="28.50" y2="638.50" stroke="#222" stroke-width="0.75"/>
<line x1="26.90" y1="635.79" x2="28.50" y2="635.79" stroke="#222" stroke-width="0.75"/>
<line x1="26.90" y1="633.08" x2="28.50" y2="633.08" stroke="#222" stroke-width="0.75"/>
<line x1="26.90" y1="630.38" x2="28.50" y2="630.38" stroke="#222" stroke-width="0.75"/>
<line x1="25.90" y1="627.67" x2="28.50" y2="627.67" stroke="#222" stroke-width="0.75"/>
<line x1="26.90" y1="624.96" x2="28.50" y2="624.96" stroke="#222" stroke-width="0.75"/>
<line x1="26.90" y1="622.25" x2="28.50" y2="622.25" stroke="#222" stroke-width="0.75"/>
<line x1="26.90" y1="619.54" x2="28.50" y2="619.54" stroke="#222" stroke-width="0.75"/>
<line x1="25.90" y1="616.83" x2="28.50" y2="616.83" stroke="#222" stroke-width="0.75"/>
<line x1="26.90" y1="614.12" x2="28.50" y2="614.12" stroke="#222" stroke-width="0.75"/>
<line x1="26.90" y1="611.42" x2="28.50" y2="611.42" stroke="#222" stroke-width="0.75"/>
<line x1="26.90" y1="608.71" x2="28.50" y2="608.71" stroke="#222" stroke-width="0.75"/>
<line x1="25.90" y1="606.00" x2="28.50" y2="606.00" stroke="#222" stroke-width="0.75"/>
<line x1="26.90" y1="603.29" x2="28.50" y2="603.29" stroke="#222" stroke-width="0.75"/>
<line x1="26.90" y1="600.58" x2="28.50" y2="600.58" stroke="#222" stroke-width="0.75"/>
<line x1="26.90" y1="597.88" x2="28.50" y2="597.88" stroke="#222" stroke-width="0.75"/>
<line x1="25.90" y1="595.17" x2="28.50" y2="595.17" stroke="#222" stroke-width="0.75"/>
<line x1="26.90" y1="592.46" x2="28.50" y2="592.46" stroke="#222" stroke-width="0.75"/>
<line x1="26.90" y1="589.75" x2="28.50" y2="589.75" stroke="#222" stroke-width="0.75"/>
<line x1="26.90" y1="587.04" x2="28.50" y2="587.04" stroke="#222" stroke-width="0.75"/>
<line x1="25.90" y1="584.33" x2="28.50" y2="584.33" stroke="#222" stroke-width="0.75"/>
<line x1="26.90" y1="581.62" x2="28.50" y2="581.62" stroke="#222" stroke-width="0.75"/>
<line x1="26.90" y1="578.92" x2="28.50" y2="578.92" stroke="#222" stroke-width="0.75"/>
<line x1="26.90" y1="576.21" x2="28.50" y2="576.21" stroke="#222" stroke-width="0.75"/>
<line x1="25.90" y1="573.50" x2="28.50" y2="573.50" stroke="#222" stroke-width="0.75"/>
<line x1="28.76" y1="638.50" x2="28.76" y2="640.00" stroke="#222" stroke-width="0.7"/>
<line x1="39.15" y1="638.50" x2="39.15" y2="640.00" stroke="#222" stroke-width="0.7"/>
<line x1="46.52" y1="638.50" x2="46.52" y2="640.00" stroke="#222" stroke-width="0.7"/>
<line x1="52.24" y1="638.50" x2="52.24" y2="640.00" stroke="#222" stroke-width="0.7"/>
<line x1="56.91" y1="638.50" x2="56.91" y2="640.00" stroke="#222" stroke-width="0.7"/>
<line x1="60.86" y1="638.50" x2="60.86" y2="640.00" stroke="#222" stroke-width="0.7"/>
<line x1="64.28" y1="638.50" x2="64.28" y2="640.00" stroke="#222" stroke-width="0.7"/>
<line x1="67.30" y1="638.50" x2="67.30" y2="640.00" stroke="#222" stroke-width="0.7"/>
<line x1="70.00" y1="638.50" x2="70.00" y2="641.10" stroke="#222" stroke-width="0.7"/>
<line x1="87.76" y1="638.50" x2="87.76" y2="640.00" stroke="#222" stroke-width="0.7"/>
<line x1="98.15" y1="638.50" x2="98.15" y2="640.00" stroke="#222" stroke-width="0.7"/>
<line x1="105.52" y1="638.50" x2="105.52" y2="640.00" stroke="#222" stroke-width="0.7"/>
<line x1="111.24" y1="638.50" x2="111.24" y2="640.00" stroke="#222" stroke-width="0.7"/>
<line x1="115.91" y1="638.50" x2="115.91" y2="640.00" stroke="#222" stroke-width="0.7"/>
<line x1="119.86" y1="638.50" x2="119.86" y2="640.00" stroke="#222" stroke-width="0.7"/>
<line x1="123.28" y1="638.50" x2="123.28" y2="640.00" stroke="#222" stroke-width="0.7"/>
<line x1="126.30" y1="638.50" x2="126.30" y2="640.00" stroke="#222" stroke-width="0.7"/>
<line x1="129.00" y1="638.50" x2="129.00" y2="641.10" stroke="#222" stroke-width="0.7"/>
<line x1="146.76" y1="638.50" x2="146.76" y2="640.00" stroke="#222" stroke-width="0.7"/>
<line x1="157.15" y1="638.50" x2="157.15" y2="640.00" stroke="#222" stroke-width="0.7"/>
<text x="22.60" y="606.00" font-size="6.4" text-anchor="middle" fill="#222" transform="rotate(-90 22.60 606.00)">C-Maf</text>
<text x="71.00" y="650.60" font-size="6.0" text-anchor="middle" fill="#222">10<tspan dy="-2.5" font-size="4.2">3</tspan></text>
<text x="130.00" y="650.60" font-size="6.0" text-anchor="middle" fill="#222">10<tspan dy="-2.5" font-size="4.2">4</tspan></text>
<line x1="206.50" y1="475.50" x2="206.50" y2="546.00" stroke="#1a1a1a" stroke-width="1.0"/>
<line x1="206.00" y1="545.50" x2="250.90" y2="545.50" stroke="#1a1a1a" stroke-width="1.0"/>
<line x1="203.30" y1="545.50" x2="206.50" y2="545.50" stroke="#1a1a1a" stroke-width="1.0"/>
<text x="201.60" y="547.80" font-size="6.5" text-anchor="end" fill="#1e1e1e">0</text>
<line x1="203.30" y1="528.60" x2="206.50" y2="528.60" stroke="#1a1a1a" stroke-width="1.0"/>
<text x="201.60" y="530.90" font-size="6.5" text-anchor="end" fill="#1e1e1e">500</text>
<line x1="203.30" y1="511.70" x2="206.50" y2="511.70" stroke="#1a1a1a" stroke-width="1.0"/>
<text x="201.60" y="514.00" font-size="6.5" text-anchor="end" fill="#1e1e1e">1000</text>
<line x1="203.30" y1="494.80" x2="206.50" y2="494.80" stroke="#1a1a1a" stroke-width="1.0"/>
<text x="201.60" y="497.10" font-size="6.5" text-anchor="end" fill="#1e1e1e">1500</text>
<line x1="203.30" y1="477.90" x2="206.50" y2="477.90" stroke="#1a1a1a" stroke-width="1.0"/>
<text x="201.60" y="480.20" font-size="6.5" text-anchor="end" fill="#1e1e1e">2000</text>
<line x1="219.40" y1="545.50" x2="219.40" y2="548.50" stroke="#222" stroke-width="0.9"/>
<line x1="239.10" y1="545.50" x2="239.10" y2="548.50" stroke="#222" stroke-width="0.9"/>
<rect x="213.50" y="510.00" width="12.10" height="35.50" fill="#11558f" stroke="#0e3f6c" stroke-width="0.6"/>
<line x1="219.55" y1="509.70" x2="219.55" y2="507.30" stroke="#111" stroke-width="0.8"/>
<line x1="217.35" y1="507.30" x2="221.75" y2="507.30" stroke="#111" stroke-width="0.8"/>
<circle cx="219.40" cy="507.30" r="1.55" fill="#111"/>
<circle cx="221.00" cy="508.80" r="1.55" fill="#111"/>
<circle cx="217.60" cy="510.40" r="1.55" fill="#111"/>
<rect x="233.20" y="490.80" width="11.70" height="54.70" fill="#cc1039" stroke="#a30f31" stroke-width="0.6"/>
<line x1="239.05" y1="490.50" x2="239.05" y2="485.70" stroke="#111" stroke-width="0.8"/>
<line x1="236.85" y1="485.70" x2="241.25" y2="485.70" stroke="#111" stroke-width="0.8"/>
<circle cx="237.20" cy="486.90" r="1.55" fill="#111"/>
<circle cx="240.60" cy="485.70" r="1.55" fill="#111"/>
<circle cx="241.10" cy="488.60" r="1.55" fill="#111"/>
<circle cx="238.70" cy="495.80" r="1.55" fill="#111"/>
<path d="M219.40,503.90 L219.40,477.50 L239.10,477.50 L239.10,481.80" fill="none" stroke="#222" stroke-width="0.8"/>
<text x="229.25" y="476.60" font-size="5.6" text-anchor="middle" fill="#222">**</text>
<text x="181.00" y="510.40" font-size="6.4" text-anchor="middle" fill="#222" font-weight="bold" transform="rotate(-90 181.00 510.40)" textLength="66.20" lengthAdjust="spacingAndGlyphs">MFI TOX of Vγ9Vδ2T cells</text>
<line x1="206.50" y1="563.80" x2="206.50" y2="635.00" stroke="#1a1a1a" stroke-width="1.0"/>
<line x1="206.00" y1="634.50" x2="252.50" y2="634.50" stroke="#1a1a1a" stroke-width="1.0"/>
<line x1="203.30" y1="634.50" x2="206.50" y2="634.50" stroke="#1a1a1a" stroke-width="1.0"/>
<text x="201.60" y="636.80" font-size="6.5" text-anchor="end" fill="#1e1e1e">0</text>
<line x1="203.30" y1="612.00" x2="206.50" y2="612.00" stroke="#1a1a1a" stroke-width="1.0"/>
<text x="201.60" y="614.30" font-size="6.5" text-anchor="end" fill="#1e1e1e">500</text>
<line x1="203.30" y1="589.50" x2="206.50" y2="589.50" stroke="#1a1a1a" stroke-width="1.0"/>
<text x="201.60" y="591.80" font-size="6.5" text-anchor="end" fill="#1e1e1e">1000</text>
<line x1="203.30" y1="567.00" x2="206.50" y2="567.00" stroke="#1a1a1a" stroke-width="1.0"/>
<text x="201.60" y="569.30" font-size="6.5" text-anchor="end" fill="#1e1e1e">1500</text>
<line x1="219.40" y1="634.50" x2="219.40" y2="637.50" stroke="#222" stroke-width="0.9"/>
<line x1="239.10" y1="634.50" x2="239.10" y2="637.50" stroke="#222" stroke-width="0.9"/>
<rect x="213.50" y="583.20" width="12.20" height="51.30" fill="#11558f" stroke="#0e3f6c" stroke-width="0.6"/>
<line x1="219.60" y1="582.90" x2="219.60" y2="580.20" stroke="#111" stroke-width="0.8"/>
<line x1="217.40" y1="580.20" x2="221.80" y2="580.20" stroke="#111" stroke-width="0.8"/>
<circle cx="217.50" cy="581.00" r="1.55" fill="#111"/>
<circle cx="221.30" cy="581.90" r="1.55" fill="#111"/>
<circle cx="219.40" cy="583.00" r="1.55" fill="#111"/>
<rect x="233.20" y="579.30" width="11.70" height="55.20" fill="#cc1039" stroke="#a30f31" stroke-width="0.6"/>
<line x1="239.05" y1="579.00" x2="239.05" y2="575.70" stroke="#111" stroke-width="0.8"/>
<line x1="236.85" y1="575.70" x2="241.25" y2="575.70" stroke="#111" stroke-width="0.8"/>
<circle cx="238.70" cy="575.70" r="1.55" fill="#111"/>
<circle cx="238.70" cy="580.50" r="1.55" fill="#111"/>
<path d="M219.40,577.60 L219.40,568.00 L239.10,568.00 L239.10,572.30" fill="none" stroke="#222" stroke-width="0.8"/>
<text x="229.25" y="564.20" font-size="5.6" text-anchor="middle" fill="#222">ns</text>
<text x="181.00" y="600.15" font-size="6.4" text-anchor="middle" fill="#222" font-weight="bold" transform="rotate(-90 181.00 600.15)" textLength="69.30" lengthAdjust="spacingAndGlyphs">MFI c-Maf of Vγ9Vδ2T cells</text>
<text x="222.00" y="643.00" font-size="6.6" text-anchor="end" fill="#1e1e1e" transform="rotate(-45 222.00 643.00)" textLength="26.79" lengthAdjust="spacingAndGlyphs">Untreated</text>
<text x="242.40" y="643.60" font-size="6.6" text-anchor="end" fill="#1e1e1e" transform="rotate(-45 242.40 643.60)" textLength="30.51" lengthAdjust="spacingAndGlyphs">SKOV3/Zol</text>
<rect x="255.80" y="500.00" width="6.10" height="7.50" fill="#11558f"/>
<rect x="255.80" y="510.20" width="6.10" height="7.50" fill="#cc1039"/>
<text x="265.00" y="506.10" font-size="6.4" text-anchor="start" fill="#222">Untreated</text>
<text x="265.00" y="515.90" font-size="6.4" text-anchor="start" fill="#222">SKOV3/Zol</text>
<rect x="0.5" y="0.5" width="519" height="672" fill="none" stroke="#5a5a5a" stroke-width="1"/>
</svg>
</body></html>
